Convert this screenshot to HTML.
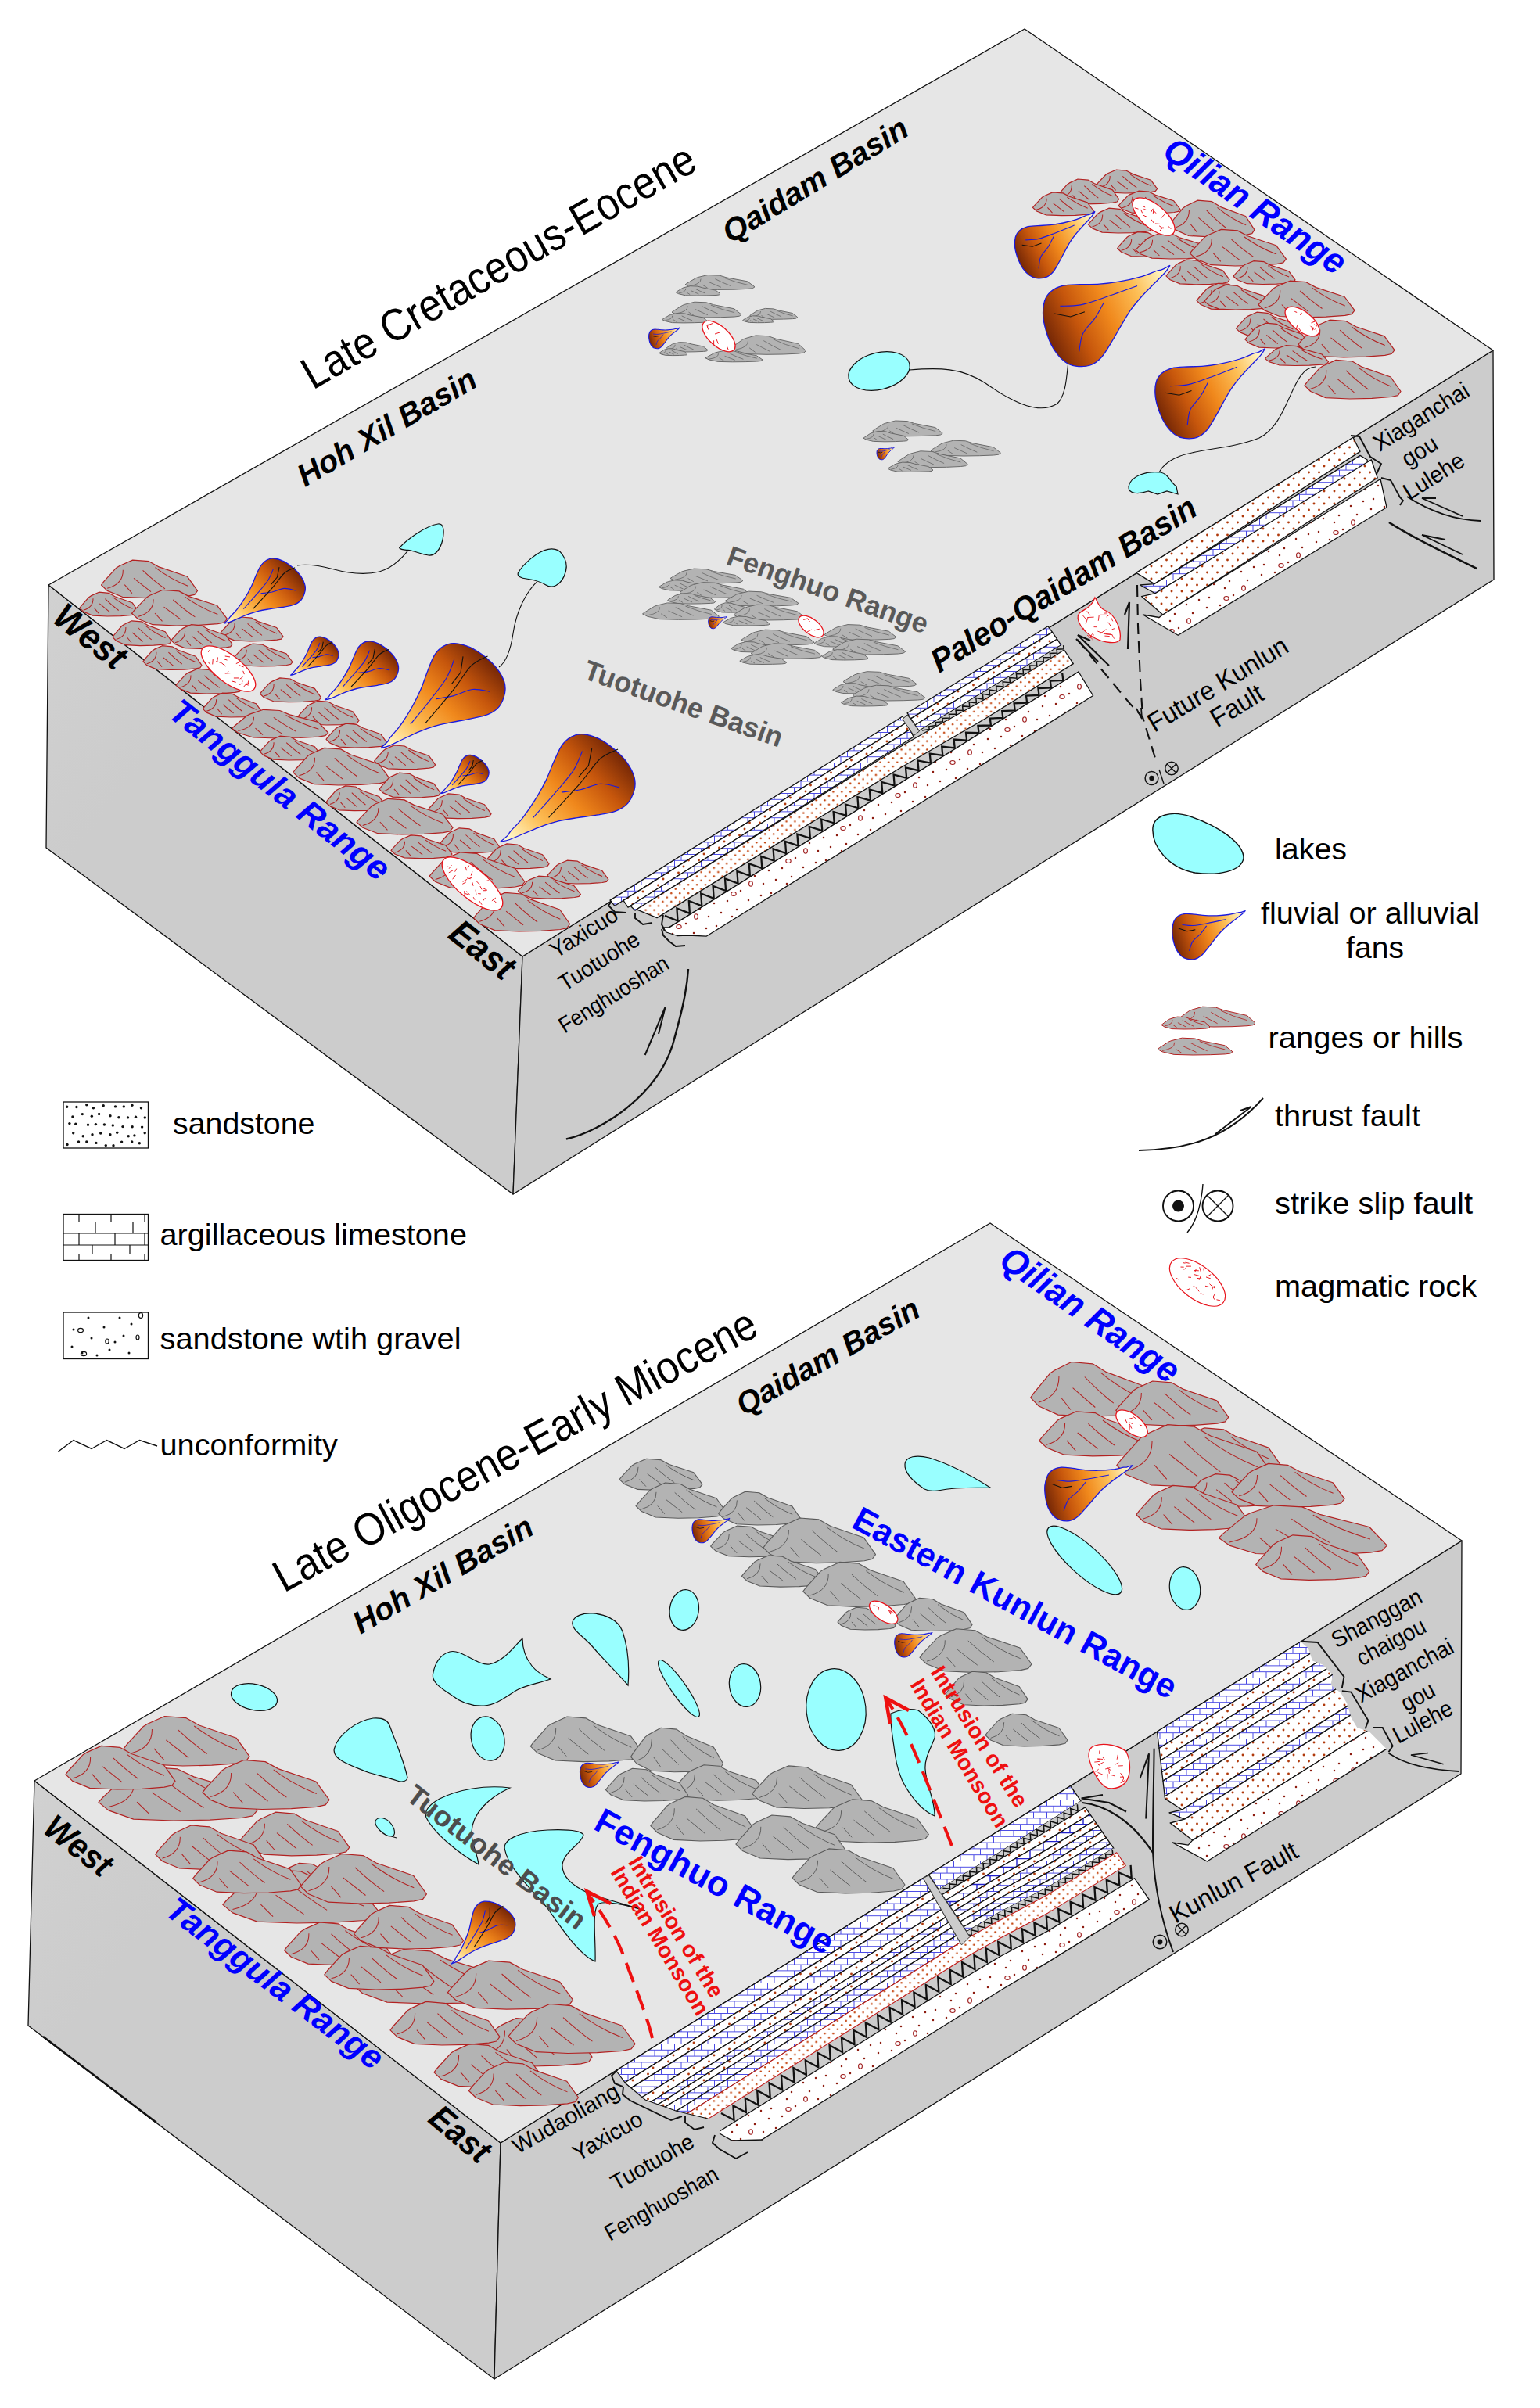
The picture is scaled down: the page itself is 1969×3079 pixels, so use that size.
<!DOCTYPE html>
<html><head><meta charset="utf-8"><title>Block diagram</title>
<style>
html,body{margin:0;padding:0;background:#fff;}
svg{display:block;font-family:"Liberation Sans",sans-serif;}
</style></head><body>
<svg width="1969" height="3079" viewBox="0 0 1969 3079">
<defs>
<pattern id="pLime" width="17" height="15.6" patternUnits="userSpaceOnUse">
<rect width="17" height="15.6" fill="#fff"/>
<path d="M0,0.5 H17 M0,8.3 H17 M4,0.5 V8.3 M12.5,8.3 V16.1" stroke="#4a4ae4" stroke-width="1" fill="none"/></pattern>
<pattern id="pSand" width="13" height="16" patternUnits="userSpaceOnUse">
<rect width="13" height="16" fill="#fff"/>
<circle cx="3" cy="4" r="1.45" fill="#b03a0c"/><circle cx="9.5" cy="12" r="1.45" fill="#b03a0c"/></pattern>
<pattern id="pDense" width="10.9" height="10.8" patternUnits="userSpaceOnUse">
<rect width="10.9" height="10.8" fill="#fff"/>
<circle cx="2.7" cy="2.7" r="1.25" fill="#c4440e"/><circle cx="8.15" cy="8.1" r="1.25" fill="#c4440e"/></pattern>
<pattern id="pGravel" width="70" height="42" patternUnits="userSpaceOnUse">
<rect width="70" height="42" fill="#fff"/>
<g fill="#8e1c10"><circle cx="6" cy="8" r="1.25"/><circle cx="20" cy="18" r="1.25"/><circle cx="37" cy="5" r="1.25"/><circle cx="55" cy="28" r="1.25"/><circle cx="12" cy="33" r="1.25"/><circle cx="32" cy="29" r="1.25"/><circle cx="63" cy="11" r="1.25"/><circle cx="47" cy="17" r="1.25"/><circle cx="26" cy="38" r="1.25"/><circle cx="66" cy="38" r="1.25"/><circle cx="3" cy="21" r="1.25"/></g>
<ellipse cx="28" cy="9" rx="3.2" ry="2.5" fill="none" stroke="#a02020" stroke-width="1.1"/>
<ellipse cx="50" cy="38" rx="2.4" ry="3.2" fill="none" stroke="#a02020" stroke-width="1.1"/></pattern>
<pattern id="pLimeD" width="34" height="22" patternUnits="userSpaceOnUse">
<rect width="34" height="22" fill="#fff"/>
<path d="M0,0.5 H34 M0,11.5 H34 M8,0.5 V11.5 M25,11.5 V22.5" stroke="#2020cc" stroke-width="1.4" fill="none"/></pattern>
<linearGradient id="lf1" x1="0" y1="0" x2="1" y2="1"><stop offset="0" stop-color="#d1d1d1"/><stop offset="0.25" stop-color="#cccccc"/><stop offset="1" stop-color="#cccccc"/></linearGradient>
<linearGradient id="fg1" gradientUnits="userSpaceOnUse" x1="286.2" y1="797.1" x2="368.2" y2="720.7"><stop offset="0.03" stop-color="#ffffd8"/><stop offset="0.3" stop-color="#fdbe55"/><stop offset="0.55" stop-color="#f0881c"/><stop offset="0.78" stop-color="#c6560c"/><stop offset="1" stop-color="#7a2a06"/></linearGradient>
<linearGradient id="fg2" gradientUnits="userSpaceOnUse" x1="371.4" y1="863.4" x2="420.0" y2="818.1"><stop offset="0.03" stop-color="#ffffd8"/><stop offset="0.3" stop-color="#fdbe55"/><stop offset="0.55" stop-color="#f0881c"/><stop offset="0.78" stop-color="#c6560c"/><stop offset="1" stop-color="#7a2a06"/></linearGradient>
<linearGradient id="fg3" gradientUnits="userSpaceOnUse" x1="415.3" y1="895.0" x2="489.5" y2="825.8"><stop offset="0.03" stop-color="#ffffd8"/><stop offset="0.3" stop-color="#fdbe55"/><stop offset="0.55" stop-color="#f0881c"/><stop offset="0.78" stop-color="#c6560c"/><stop offset="1" stop-color="#7a2a06"/></linearGradient>
<linearGradient id="fg4" gradientUnits="userSpaceOnUse" x1="487.0" y1="956.5" x2="609.2" y2="831.6"><stop offset="0.03" stop-color="#ffffd8"/><stop offset="0.3" stop-color="#fdbe55"/><stop offset="0.55" stop-color="#f0881c"/><stop offset="0.78" stop-color="#c6560c"/><stop offset="1" stop-color="#7a2a06"/></linearGradient>
<linearGradient id="fg5" gradientUnits="userSpaceOnUse" x1="563.4" y1="1014.7" x2="612.0" y2="969.4"><stop offset="0.03" stop-color="#ffffd8"/><stop offset="0.3" stop-color="#fdbe55"/><stop offset="0.55" stop-color="#f0881c"/><stop offset="0.78" stop-color="#c6560c"/><stop offset="1" stop-color="#7a2a06"/></linearGradient>
<linearGradient id="fg6" gradientUnits="userSpaceOnUse" x1="639.7" y1="1076.4" x2="775.3" y2="949.7"><stop offset="0.03" stop-color="#ffffd8"/><stop offset="0.3" stop-color="#fdbe55"/><stop offset="0.55" stop-color="#f0881c"/><stop offset="0.78" stop-color="#c6560c"/><stop offset="1" stop-color="#7a2a06"/></linearGradient>
<linearGradient id="fg7" gradientUnits="userSpaceOnUse" x1="869.0" y1="419.0" x2="829.5" y2="431.8"><stop offset="0.03" stop-color="#ffffd8"/><stop offset="0.3" stop-color="#fdbe55"/><stop offset="0.55" stop-color="#f0881c"/><stop offset="0.78" stop-color="#c6560c"/><stop offset="1" stop-color="#7a2a06"/></linearGradient>
<linearGradient id="fg8" gradientUnits="userSpaceOnUse" x1="1143.7" y1="571.6" x2="1121.0" y2="579.9"><stop offset="0.03" stop-color="#ffffd8"/><stop offset="0.3" stop-color="#fdbe55"/><stop offset="0.55" stop-color="#f0881c"/><stop offset="0.78" stop-color="#c6560c"/><stop offset="1" stop-color="#7a2a06"/></linearGradient>
<linearGradient id="fg9" gradientUnits="userSpaceOnUse" x1="929.6" y1="788.3" x2="905.6" y2="795.2"><stop offset="0.03" stop-color="#ffffd8"/><stop offset="0.3" stop-color="#fdbe55"/><stop offset="0.55" stop-color="#f0881c"/><stop offset="0.78" stop-color="#c6560c"/><stop offset="1" stop-color="#7a2a06"/></linearGradient>
<linearGradient id="fg10" gradientUnits="userSpaceOnUse" x1="1400.0" y1="270.4" x2="1298.5" y2="322.4"><stop offset="0.03" stop-color="#ffffd8"/><stop offset="0.3" stop-color="#fdbe55"/><stop offset="0.55" stop-color="#f0881c"/><stop offset="0.78" stop-color="#c6560c"/><stop offset="1" stop-color="#7a2a06"/></linearGradient>
<linearGradient id="fg11" gradientUnits="userSpaceOnUse" x1="1496.0" y1="339.3" x2="1334.8" y2="414.9"><stop offset="0.03" stop-color="#ffffd8"/><stop offset="0.3" stop-color="#fdbe55"/><stop offset="0.55" stop-color="#f0881c"/><stop offset="0.78" stop-color="#c6560c"/><stop offset="1" stop-color="#7a2a06"/></linearGradient>
<linearGradient id="fg12" gradientUnits="userSpaceOnUse" x1="1617.7" y1="445.6" x2="1478.2" y2="514.7"><stop offset="0.03" stop-color="#ffffd8"/><stop offset="0.3" stop-color="#fdbe55"/><stop offset="0.55" stop-color="#f0881c"/><stop offset="0.78" stop-color="#c6560c"/><stop offset="1" stop-color="#7a2a06"/></linearGradient>
<linearGradient id="fg13" gradientUnits="userSpaceOnUse" x1="1592.4" y1="1164.3" x2="1498.5" y2="1193.8"><stop offset="0.03" stop-color="#ffffd8"/><stop offset="0.3" stop-color="#fdbe55"/><stop offset="0.55" stop-color="#f0881c"/><stop offset="0.78" stop-color="#c6560c"/><stop offset="1" stop-color="#7a2a06"/></linearGradient>
<linearGradient id="fg14" gradientUnits="userSpaceOnUse" x1="577.5" y1="2511.0" x2="635.2" y2="2434.2"><stop offset="0.03" stop-color="#ffffd8"/><stop offset="0.3" stop-color="#fdbe55"/><stop offset="0.55" stop-color="#f0881c"/><stop offset="0.78" stop-color="#c6560c"/><stop offset="1" stop-color="#7a2a06"/></linearGradient>
<linearGradient id="fg15" gradientUnits="userSpaceOnUse" x1="933.0" y1="1941.3" x2="884.9" y2="1955.7"><stop offset="0.03" stop-color="#ffffd8"/><stop offset="0.3" stop-color="#fdbe55"/><stop offset="0.55" stop-color="#f0881c"/><stop offset="0.78" stop-color="#c6560c"/><stop offset="1" stop-color="#7a2a06"/></linearGradient>
<linearGradient id="fg16" gradientUnits="userSpaceOnUse" x1="1192.2" y1="2087.2" x2="1143.6" y2="2101.7"><stop offset="0.03" stop-color="#ffffd8"/><stop offset="0.3" stop-color="#fdbe55"/><stop offset="0.55" stop-color="#f0881c"/><stop offset="0.78" stop-color="#c6560c"/><stop offset="1" stop-color="#7a2a06"/></linearGradient>
<linearGradient id="fg17" gradientUnits="userSpaceOnUse" x1="791.4" y1="2252.7" x2="741.4" y2="2267.7"><stop offset="0.03" stop-color="#ffffd8"/><stop offset="0.3" stop-color="#fdbe55"/><stop offset="0.55" stop-color="#f0881c"/><stop offset="0.78" stop-color="#c6560c"/><stop offset="1" stop-color="#7a2a06"/></linearGradient>
<linearGradient id="fg18" gradientUnits="userSpaceOnUse" x1="1448.0" y1="1873.6" x2="1335.5" y2="1905.3"><stop offset="0.03" stop-color="#ffffd8"/><stop offset="0.3" stop-color="#fdbe55"/><stop offset="0.55" stop-color="#f0881c"/><stop offset="0.78" stop-color="#c6560c"/><stop offset="1" stop-color="#7a2a06"/></linearGradient>
</defs>
<rect width="1969" height="3079" fill="#fff"/>
<g id="block1">
<polygon points="62.0,748.0 668.0,1223.0 656.0,1527.0 59.0,1084.0" fill="url(#lf1)" stroke="#111" stroke-width="1.3" stroke-linejoin="round"/>
<polygon points="668.0,1223.0 1909.0,448.0 1910.0,741.0 656.0,1527.0" fill="#cccccc" stroke="#111" stroke-width="1.3" stroke-linejoin="round"/>
<polygon points="62.0,748.0 1310.0,37.0 1909.0,448.0 668.0,1223.0" fill="#e6e6e6" stroke="#111" stroke-width="1.3" stroke-linejoin="round"/>
<polygon points="780.0,1151.1 1154.0,916.0 1158.5,924.2 786.0,1158.3" fill="url(#pLime)" stroke="#111" stroke-width="1.3" stroke-linejoin="round"/>
<polygon points="797.0,1151.4 1158.5,924.2 1163.5,932.6 803.0,1160.2" fill="url(#pSand)" stroke="#111" stroke-width="1.3" stroke-linejoin="round"/>
<polygon points="806.0,1158.3 1163.5,932.6 1168.0,942.3 812.0,1164.1" fill="url(#pLime)" stroke="#111" stroke-width="1.3" stroke-linejoin="round"/>
<polygon points="1160.0,911.7 1340.0,800.8 1345.5,808.4 1164.5,918.9" fill="url(#pLime)" stroke="#111" stroke-width="1.3" stroke-linejoin="round"/>
<polygon points="1164.5,918.9 1345.5,808.4 1351.5,817.2 1170.0,927.0" fill="url(#pSand)" stroke="#111" stroke-width="1.3" stroke-linejoin="round"/>
<polygon points="1170.0,927.0 1351.5,817.2 1356.7,824.9 1175.0,934.4" fill="url(#pLime)" stroke="#111" stroke-width="1.3" stroke-linejoin="round"/>
<polygon points="1176.0,934.3 1358.0,824.6 1362.0,830.1 1260.0,893.8 1176.0,940.8" fill="#cccccc" stroke="none"/>
<polyline points="1179.0,933.9 1188.2,932.4 1187.6,928.8 1196.8,927.6 1196.2,923.6 1205.4,922.8 1204.8,918.4 1214.0,918.0 1213.4,913.2 1222.6,913.2 1222.0,908.0 1231.2,908.4 1230.6,902.9 1239.8,903.6 1239.2,897.7 1248.4,898.8 1247.8,892.5 1257.0,894.0 1256.4,887.3 1265.6,888.8 1265.0,882.1 1274.2,883.4 1273.6,877.0 1282.8,878.1 1282.2,871.8 1291.4,872.7 1290.8,866.6 1300.0,867.3 1299.4,861.4 1308.6,861.9 1308.0,856.2 1317.2,856.6 1316.6,851.0 1325.8,851.2 1325.2,845.9 1334.4,845.8 1333.8,840.7 1343.0,840.5 1342.4,835.5 1351.6,835.1 1351.0,830.3 1360.2,829.7 1359.6,825.1" fill="none" stroke="#111" stroke-width="1.5" stroke-linejoin="miter"/>
<polygon points="814.0,1162.8 1150.0,955.5 1180.0,938.3 1260.0,893.8 1360.6,831.0 1372.3,848.6 1260.0,918.7 1150.0,982.5 840.0,1173.6" fill="url(#pDense)" stroke="#111" stroke-width="1.3" stroke-linejoin="round"/>
<polygon points="848.0,1170.6 1150.0,984.5 1260.0,920.7 1376.0,848.3 1376.0,860.9 848.0,1190.6" fill="#cccccc" stroke="none"/>
<polyline points="850.0,1170.9 866.5,1177.6 865.4,1161.4 881.9,1167.9 880.8,1151.9 897.3,1158.3 896.2,1142.4 912.7,1148.7 911.6,1132.9 928.1,1139.1 927.0,1123.4 943.5,1129.5 942.4,1113.9 958.9,1119.8 957.8,1104.4 974.3,1110.2 973.2,1094.9 989.7,1100.6 988.6,1085.5 1005.1,1091.0 1004.0,1076.0 1020.5,1081.4 1019.4,1066.5 1035.9,1071.8 1034.8,1057.0 1051.3,1062.1 1050.2,1047.5 1066.7,1052.5 1065.6,1038.0 1082.1,1042.9 1081.0,1028.5 1097.5,1033.3 1096.4,1019.0 1112.9,1023.7 1111.8,1009.5 1128.3,1014.1 1127.2,1000.0 1143.7,1004.4 1142.6,990.6 1159.1,994.8 1158.0,981.4 1174.5,985.2 1173.4,972.4 1189.9,975.6 1188.8,963.5 1205.3,966.0 1204.2,954.6 1220.7,956.4 1219.6,945.6 1236.1,946.7 1235.0,936.7 1251.5,937.1 1250.4,927.8 1266.9,927.5 1265.8,918.6 1282.3,917.9 1281.2,909.0 1297.7,908.3 1296.6,899.3 1313.1,898.7 1312.0,889.7 1328.5,889.0 1327.4,880.1 1343.9,879.4 1342.8,870.5 1359.3,869.8 1358.2,860.9" fill="none" stroke="#111" stroke-width="2.3" stroke-linejoin="miter"/>
<line x1="848" y1="1190.6" x2="1379" y2="859.0" stroke="#111" stroke-width="1.3"/>
<polygon points="847.0,1186.0 856.0,1185.6 1379.0,859.0 1397.6,889.5 903.0,1197.2 880.0,1196.0 866.0,1196.5 852.0,1192.0" fill="url(#pGravel)" stroke="#111" stroke-width="1.3" stroke-linejoin="round"/>
<polygon points="1154,919.5 1160,914 1175.5,935 1168.5,940.5" fill="#cccccc" stroke="#333" stroke-width="1"/>
<polygon points="1452.7,732.4 1730.0,559.2 1739.0,577.4 1476.0,746.6" fill="url(#pSand)" stroke="#111" stroke-width="1.3" stroke-linejoin="round"/>
<polygon points="1476.0,746.6 1739.0,582.4 1748.2,588.0 1748.2,593.8 1477.0,758.7 1457.5,748.0" fill="url(#pLime)" stroke="#111" stroke-width="1.3" stroke-linejoin="round"/>
<polygon points="1477.0,758.7 1753.4,587.8 1761.2,611.0 1486.8,786.0 1459.5,762.6" fill="url(#pSand)" stroke="#111" stroke-width="1.3" stroke-linejoin="round"/>
<polygon points="1486.8,786.0 1765.0,612.5 1773.0,648.8 1506.2,812.3 1461.4,786.0 1481.9,789.5" fill="url(#pGravel)" stroke="#111" stroke-width="1.3" stroke-linejoin="round"/>
<polygon points="129.5,748.0 132.7,743.7 148.6,726.2 152.9,723.5 169.6,716.1 190.4,717.7 203.3,724.9 239.6,737.3 252.5,755.4 248.8,760.4 240.2,762.2 215.6,764.1 187.3,764.7 156.6,763.3 137.2,755.4" fill="#b3b3b3" stroke="#b22222" stroke-width="1.2" stroke-linejoin="round"/>
<path d="M157.3,728.7 Q157.8,746.7 137.2,752.3 M159.3,747.7 L168.9,758.7 M171.0,739.3 L193.0,756.6 M182.6,729.3 Q197.2,743.0 211.0,752.9 M198.4,725.6 Q218.1,740.5 240.2,749.2" fill="none" stroke="#b22222" stroke-width="1.02"/>
<polygon points="102.0,777.4 104.0,774.7 113.6,763.7 116.2,761.9 126.5,757.2 139.1,758.3 147.0,762.8 169.1,770.7 177.0,782.1 174.8,785.3 169.5,786.4 154.5,787.6 137.2,788.0 118.5,787.1 106.7,782.1" fill="#b3b3b3" stroke="#b22222" stroke-width="1.2" stroke-linejoin="round"/>
<path d="M119.0,765.2 Q119.2,776.6 106.7,780.2 M120.2,777.2 L126.0,784.2 M127.3,771.9 L140.7,782.9 M134.4,765.6 Q143.2,774.3 151.7,780.5 M144.0,763.3 Q156.0,772.7 169.5,778.2" fill="none" stroke="#b22222" stroke-width="1.02"/>
<polygon points="168.5,784.3 171.7,780.3 187.4,763.9 191.7,761.3 208.3,754.3 228.9,755.9 241.7,762.6 277.7,774.3 290.5,791.3 286.8,795.9 278.3,797.7 253.9,799.4 225.8,800.0 195.3,798.7 176.2,791.3" fill="#b3b3b3" stroke="#b22222" stroke-width="1.2" stroke-linejoin="round"/>
<path d="M196.1,766.2 Q196.6,783.1 176.2,788.4 M198.0,784.0 L207.5,794.4 M209.6,776.1 L231.5,792.4 M221.2,766.8 Q235.6,779.6 249.4,788.9 M236.8,763.3 Q256.3,777.3 278.3,785.4" fill="none" stroke="#b22222" stroke-width="1.02"/>
<polygon points="282.0,809.2 284.1,806.5 294.4,795.5 297.2,793.7 308.1,789.0 321.6,790.1 330.0,794.6 353.6,802.5 362.0,813.9 359.6,817.1 354.0,818.2 338.0,819.4 319.6,819.8 299.6,818.9 287.0,813.9" fill="#b3b3b3" stroke="#b22222" stroke-width="1.2" stroke-linejoin="round"/>
<path d="M300.1,797.0 Q300.4,808.4 287.0,812.0 M301.4,809.0 L307.6,816.0 M309.0,803.7 L323.3,814.7 M316.6,797.4 Q326.0,806.1 335.0,812.3 M326.8,795.1 Q339.6,804.5 354.0,810.0" fill="none" stroke="#b22222" stroke-width="1.02"/>
<polygon points="144.0,814.7 145.9,811.9 155.6,800.5 158.2,798.7 168.4,793.8 181.1,794.9 189.0,799.6 211.1,807.7 219.0,819.5 216.8,822.8 211.5,824.0 196.5,825.2 179.2,825.6 160.5,824.7 148.7,819.5" fill="#b3b3b3" stroke="#b22222" stroke-width="1.2" stroke-linejoin="round"/>
<path d="M160.9,802.1 Q161.2,813.9 148.7,817.5 M162.2,814.5 L168.0,821.7 M169.3,809.0 L182.7,820.3 M176.4,802.5 Q185.2,811.4 193.7,817.9 M186.0,800.1 Q198.0,809.8 211.5,815.5" fill="none" stroke="#b22222" stroke-width="1.02"/>
<polygon points="219.0,818.9 221.0,816.2 231.1,805.2 233.8,803.4 244.4,798.7 257.6,799.8 265.8,804.3 288.8,812.2 297.0,823.6 294.7,826.8 289.2,827.9 273.6,829.1 255.7,829.5 236.2,828.6 223.9,823.6" fill="#b3b3b3" stroke="#b22222" stroke-width="1.2" stroke-linejoin="round"/>
<path d="M236.6,806.7 Q236.9,818.1 223.9,821.7 M237.9,818.7 L244.0,825.7 M245.3,813.4 L259.2,824.4 M252.7,807.1 Q261.9,815.8 270.7,822.0 M262.7,804.8 Q275.2,814.2 289.2,819.7" fill="none" stroke="#b22222" stroke-width="1.02"/>
<polygon points="298.0,842.1 300.0,839.6 309.8,829.2 312.4,827.6 322.8,823.2 335.6,824.2 343.6,828.4 366.0,835.8 374.0,846.5 371.7,849.4 366.4,850.5 351.2,851.6 333.7,852.0 314.7,851.2 302.8,846.5" fill="#b3b3b3" stroke="#b22222" stroke-width="1.2" stroke-linejoin="round"/>
<path d="M315.2,830.7 Q315.5,841.4 302.8,844.7 M316.4,841.9 L322.3,848.5 M323.6,836.9 L337.2,847.2 M330.8,831.1 Q339.8,839.2 348.4,845.0 M340.6,828.9 Q352.7,837.7 366.4,842.8" fill="none" stroke="#b22222" stroke-width="1.02"/>
<polygon points="183.0,845.9 184.9,843.2 194.6,832.2 197.2,830.4 207.4,825.7 220.1,826.8 228.0,831.3 250.1,839.2 258.0,850.6 255.8,853.8 250.5,854.9 235.5,856.1 218.2,856.5 199.5,855.6 187.7,850.6" fill="#b3b3b3" stroke="#b22222" stroke-width="1.2" stroke-linejoin="round"/>
<path d="M199.9,833.7 Q200.2,845.1 187.7,848.7 M201.2,845.7 L207.0,852.7 M208.3,840.4 L221.7,851.4 M215.4,834.1 Q224.2,842.8 232.7,849.0 M225.0,831.8 Q237.0,841.2 250.5,846.7" fill="none" stroke="#b22222" stroke-width="1.02"/>
<polygon points="225.0,876.1 227.2,873.3 238.0,861.9 241.0,860.1 252.4,855.2 266.6,856.3 275.4,861.0 300.2,869.1 309.0,880.9 306.5,884.2 300.6,885.4 283.8,886.6 264.5,887.0 243.5,886.1 230.3,880.9" fill="#b3b3b3" stroke="#b22222" stroke-width="1.2" stroke-linejoin="round"/>
<path d="M244.0,863.5 Q244.3,875.3 230.3,878.9 M245.3,875.9 L251.9,883.1 M253.3,870.4 L268.3,881.7 M261.3,863.9 Q271.2,872.8 280.7,879.3 M272.0,861.5 Q285.5,871.2 300.6,876.9" fill="none" stroke="#b22222" stroke-width="1.02"/>
<polygon points="332.5,887.1 334.5,884.4 344.6,873.4 347.3,871.6 357.9,866.9 371.1,868.0 379.3,872.5 402.3,880.4 410.5,891.8 408.2,895.0 402.7,896.1 387.1,897.3 369.2,897.7 349.7,896.8 337.4,891.8" fill="#b3b3b3" stroke="#b22222" stroke-width="1.2" stroke-linejoin="round"/>
<path d="M350.1,874.9 Q350.4,886.3 337.4,889.9 M351.4,886.9 L357.5,893.9 M358.8,881.6 L372.7,892.6 M366.2,875.3 Q375.4,884.0 384.2,890.2 M376.2,873.0 Q388.7,882.4 402.7,887.9" fill="none" stroke="#b22222" stroke-width="1.02"/>
<polygon points="259.4,906.4 261.4,903.7 271.2,892.7 273.8,890.9 284.2,886.2 297.0,887.3 305.0,891.8 327.4,899.7 335.4,911.1 333.1,914.3 327.8,915.4 312.6,916.6 295.1,917.0 276.1,916.1 264.2,911.1" fill="#b3b3b3" stroke="#b22222" stroke-width="1.2" stroke-linejoin="round"/>
<path d="M276.6,894.2 Q276.9,905.6 264.2,909.2 M277.8,906.2 L283.7,913.2 M285.0,900.9 L298.6,911.9 M292.2,894.6 Q301.2,903.3 309.8,909.5 M302.0,892.3 Q314.1,901.7 327.8,907.2" fill="none" stroke="#b22222" stroke-width="1.02"/>
<polygon points="381.0,916.4 383.0,913.7 393.1,902.7 395.8,900.9 406.4,896.2 419.6,897.3 427.8,901.8 450.8,909.7 459.0,921.1 456.7,924.3 451.2,925.4 435.6,926.6 417.7,927.0 398.2,926.1 385.9,921.1" fill="#b3b3b3" stroke="#b22222" stroke-width="1.2" stroke-linejoin="round"/>
<path d="M398.6,904.2 Q398.9,915.6 385.9,919.2 M399.9,916.2 L406.0,923.2 M407.3,910.9 L421.2,921.9 M414.7,904.6 Q423.9,913.3 432.7,919.5 M424.7,902.3 Q437.2,911.7 451.2,917.2" fill="none" stroke="#b22222" stroke-width="1.02"/>
<polygon points="296.7,931.4 299.9,928.2 315.8,915.0 320.1,912.9 336.8,907.3 357.6,908.5 370.5,913.9 406.8,923.3 419.7,937.0 416.0,940.7 407.4,942.1 382.8,943.5 354.5,944.0 323.8,943.0 304.4,937.0" fill="#b3b3b3" stroke="#b22222" stroke-width="1.2" stroke-linejoin="round"/>
<path d="M324.5,916.8 Q325.0,930.4 304.4,934.6 M326.5,931.2 L336.1,939.5 M338.2,924.8 L360.2,937.9 M349.8,917.3 Q364.4,927.6 378.2,935.1 M365.6,914.5 Q385.3,925.7 407.4,932.3" fill="none" stroke="#b22222" stroke-width="1.02"/>
<polygon points="417.0,945.4 419.0,942.7 429.1,931.7 431.8,929.9 442.4,925.2 455.6,926.3 463.8,930.8 486.8,938.7 495.0,950.1 492.7,953.3 487.2,954.4 471.6,955.6 453.7,956.0 434.2,955.1 421.9,950.1" fill="#b3b3b3" stroke="#b22222" stroke-width="1.2" stroke-linejoin="round"/>
<path d="M434.6,933.2 Q434.9,944.6 421.9,948.2 M435.9,945.2 L442.0,952.2 M443.3,939.9 L457.2,950.9 M450.7,933.6 Q459.9,942.3 468.7,948.5 M460.7,931.3 Q473.2,940.7 487.2,946.2" fill="none" stroke="#b22222" stroke-width="1.02"/>
<polygon points="332.5,961.4 334.5,958.7 344.6,947.7 347.3,945.9 357.9,941.2 371.1,942.3 379.3,946.8 402.3,954.7 410.5,966.1 408.2,969.3 402.7,970.4 387.1,971.6 369.2,972.0 349.7,971.1 337.4,966.1" fill="#b3b3b3" stroke="#b22222" stroke-width="1.2" stroke-linejoin="round"/>
<path d="M350.1,949.2 Q350.4,960.6 337.4,964.2 M351.4,961.2 L357.5,968.2 M358.8,955.9 L372.7,966.9 M366.2,949.6 Q375.4,958.3 384.2,964.5 M376.2,947.3 Q388.7,956.7 402.7,962.2" fill="none" stroke="#b22222" stroke-width="1.02"/>
<polygon points="478.6,973.1 480.6,970.4 490.7,959.4 493.4,957.6 504.0,952.9 517.2,954.0 525.4,958.5 548.4,966.4 556.6,977.8 554.3,981.0 548.8,982.1 533.2,983.3 515.3,983.7 495.8,982.8 483.5,977.8" fill="#b3b3b3" stroke="#b22222" stroke-width="1.2" stroke-linejoin="round"/>
<path d="M496.2,960.9 Q496.5,972.3 483.5,975.9 M497.5,972.9 L503.6,979.9 M504.9,967.6 L518.8,978.6 M512.3,961.3 Q521.5,970.0 530.3,976.2 M522.3,959.0 Q534.8,968.4 548.8,973.9" fill="none" stroke="#b22222" stroke-width="1.02"/>
<polygon points="374.7,987.6 377.9,983.5 393.8,966.3 398.1,963.7 414.8,956.4 435.6,957.9 448.5,965.0 484.8,977.1 497.7,994.9 494.0,999.7 485.4,1001.6 460.8,1003.4 432.5,1004.0 401.8,1002.7 382.4,994.9" fill="#b3b3b3" stroke="#b22222" stroke-width="1.2" stroke-linejoin="round"/>
<path d="M402.5,968.8 Q403.0,986.4 382.4,991.8 M404.5,987.4 L414.1,998.2 M416.2,979.1 L438.2,996.1 M427.8,969.4 Q442.4,982.7 456.2,992.5 M443.6,965.7 Q463.3,980.3 485.4,988.8" fill="none" stroke="#b22222" stroke-width="1.02"/>
<polygon points="485.0,1009.1 487.0,1006.3 497.1,994.9 499.8,993.1 510.4,988.2 523.6,989.3 531.8,994.0 554.8,1002.1 563.0,1013.9 560.7,1017.2 555.2,1018.4 539.6,1019.6 521.7,1020.0 502.2,1019.1 489.9,1013.9" fill="#b3b3b3" stroke="#b22222" stroke-width="1.2" stroke-linejoin="round"/>
<path d="M502.6,996.5 Q502.9,1008.3 489.9,1011.9 M503.9,1008.9 L510.0,1016.1 M511.3,1003.4 L525.2,1014.7 M518.7,996.9 Q527.9,1005.8 536.7,1012.3 M528.7,994.5 Q541.2,1004.2 555.2,1009.9" fill="none" stroke="#b22222" stroke-width="1.02"/>
<polygon points="417.0,1025.8 419.0,1023.0 428.8,1011.6 431.4,1009.8 441.8,1004.9 454.6,1006.0 462.6,1010.7 485.0,1018.8 493.0,1030.6 490.7,1033.9 485.4,1035.1 470.2,1036.3 452.7,1036.7 433.7,1035.8 421.8,1030.6" fill="#b3b3b3" stroke="#b22222" stroke-width="1.2" stroke-linejoin="round"/>
<path d="M434.2,1013.2 Q434.5,1025.0 421.8,1028.6 M435.4,1025.6 L441.3,1032.8 M442.6,1020.1 L456.2,1031.4 M449.8,1013.6 Q458.8,1022.5 467.4,1029.0 M459.6,1011.2 Q471.7,1020.9 485.4,1026.6" fill="none" stroke="#b22222" stroke-width="1.02"/>
<polygon points="547.0,1035.8 549.1,1033.0 559.6,1021.6 562.4,1019.8 573.4,1014.9 587.1,1016.0 595.6,1020.7 619.5,1028.8 628.0,1040.6 625.6,1043.9 619.9,1045.1 603.7,1046.3 585.1,1046.7 564.8,1045.8 552.1,1040.6" fill="#b3b3b3" stroke="#b22222" stroke-width="1.2" stroke-linejoin="round"/>
<path d="M565.3,1023.2 Q565.6,1035.0 552.1,1038.6 M566.6,1035.6 L572.9,1042.8 M574.3,1030.1 L588.8,1041.4 M582.0,1023.6 Q591.5,1032.5 600.7,1039.0 M592.4,1021.2 Q605.3,1030.9 619.9,1036.6" fill="none" stroke="#b22222" stroke-width="1.02"/>
<polygon points="456.0,1051.3 459.2,1047.3 475.1,1030.9 479.4,1028.3 496.1,1021.3 516.9,1022.9 529.8,1029.6 566.1,1041.3 579.0,1058.3 575.3,1062.9 566.7,1064.7 542.1,1066.4 513.8,1067.0 483.1,1065.7 463.7,1058.3" fill="#b3b3b3" stroke="#b22222" stroke-width="1.2" stroke-linejoin="round"/>
<path d="M483.8,1033.2 Q484.3,1050.1 463.7,1055.4 M485.8,1051.0 L495.4,1061.4 M497.5,1043.1 L519.5,1059.4 M509.1,1033.8 Q523.6,1046.6 537.5,1055.9 M524.9,1030.3 Q544.6,1044.3 566.7,1052.4" fill="none" stroke="#b22222" stroke-width="1.02"/>
<polygon points="561.8,1079.7 563.8,1076.9 573.9,1065.5 576.6,1063.7 587.2,1058.8 600.4,1059.9 608.6,1064.6 631.6,1072.7 639.8,1084.5 637.5,1087.8 632.0,1089.0 616.4,1090.2 598.5,1090.6 579.0,1089.7 566.7,1084.5" fill="#b3b3b3" stroke="#b22222" stroke-width="1.2" stroke-linejoin="round"/>
<path d="M579.4,1067.1 Q579.7,1078.9 566.7,1082.5 M580.7,1079.5 L586.8,1086.7 M588.1,1074.0 L602.0,1085.3 M595.5,1067.5 Q604.7,1076.4 613.5,1082.9 M605.5,1065.1 Q618.0,1074.8 632.0,1080.5" fill="none" stroke="#b22222" stroke-width="1.02"/>
<polygon points="500.0,1087.4 502.0,1084.9 512.1,1074.2 514.8,1072.5 525.4,1067.9 538.6,1068.9 546.8,1073.3 569.8,1080.9 578.0,1092.0 575.7,1095.0 570.2,1096.2 554.6,1097.3 536.7,1097.7 517.2,1096.9 504.9,1092.0" fill="#b3b3b3" stroke="#b22222" stroke-width="1.2" stroke-linejoin="round"/>
<path d="M517.6,1075.7 Q517.9,1086.7 504.9,1090.1 M518.9,1087.3 L525.0,1094.1 M526.3,1082.1 L540.2,1092.8 M533.7,1076.1 Q542.9,1084.4 551.7,1090.5 M543.7,1073.8 Q556.2,1082.9 570.2,1088.2" fill="none" stroke="#b22222" stroke-width="1.02"/>
<polygon points="622.0,1099.8 624.1,1097.0 634.4,1085.6 637.2,1083.8 648.1,1078.9 661.6,1080.0 670.0,1084.7 693.6,1092.8 702.0,1104.6 699.6,1107.9 694.0,1109.1 678.0,1110.3 659.6,1110.7 639.6,1109.8 627.0,1104.6" fill="#b3b3b3" stroke="#b22222" stroke-width="1.2" stroke-linejoin="round"/>
<path d="M640.1,1087.2 Q640.4,1099.0 627.0,1102.6 M641.4,1099.6 L647.6,1106.8 M649.0,1094.1 L663.3,1105.4 M656.6,1087.6 Q666.0,1096.5 675.0,1103.0 M666.8,1085.2 Q679.6,1094.9 694.0,1100.6" fill="none" stroke="#b22222" stroke-width="1.02"/>
<polygon points="699.8,1119.7 701.8,1117.2 711.9,1106.5 714.6,1104.8 725.2,1100.2 738.4,1101.2 746.6,1105.6 769.6,1113.2 777.8,1124.3 775.5,1127.3 770.0,1128.5 754.4,1129.6 736.5,1130.0 717.0,1129.2 704.7,1124.3" fill="#b3b3b3" stroke="#b22222" stroke-width="1.2" stroke-linejoin="round"/>
<path d="M717.4,1108.0 Q717.7,1119.0 704.7,1122.4 M718.7,1119.6 L724.8,1126.4 M726.1,1114.4 L740.0,1125.1 M733.5,1108.4 Q742.7,1116.7 751.5,1122.8 M743.5,1106.1 Q756.0,1115.2 770.0,1120.5" fill="none" stroke="#b22222" stroke-width="1.02"/>
<polygon points="549.0,1120.3 552.2,1116.3 567.9,1099.5 572.2,1096.9 588.8,1089.8 609.4,1091.3 622.2,1098.2 658.2,1110.1 671.0,1127.5 667.3,1132.2 658.8,1134.0 634.4,1135.8 606.3,1136.4 575.8,1135.1 556.7,1127.5" fill="#b3b3b3" stroke="#b22222" stroke-width="1.2" stroke-linejoin="round"/>
<path d="M576.6,1101.9 Q577.1,1119.1 556.7,1124.5 M578.5,1120.1 L588.0,1130.7 M590.1,1112.0 L612.0,1128.7 M601.7,1102.5 Q616.1,1115.6 629.9,1125.1 M617.3,1098.9 Q636.8,1113.2 658.8,1121.5" fill="none" stroke="#b22222" stroke-width="1.02"/>
<polygon points="662.5,1139.1 664.6,1136.6 674.9,1126.2 677.7,1124.6 688.6,1120.2 702.1,1121.2 710.5,1125.4 734.1,1132.8 742.5,1143.5 740.1,1146.4 734.5,1147.5 718.5,1148.6 700.1,1149.0 680.1,1148.2 667.5,1143.5" fill="#b3b3b3" stroke="#b22222" stroke-width="1.2" stroke-linejoin="round"/>
<path d="M680.6,1127.7 Q680.9,1138.4 667.5,1141.7 M681.9,1138.9 L688.1,1145.5 M689.5,1133.9 L703.8,1144.2 M697.1,1128.1 Q706.5,1136.2 715.5,1142.0 M707.3,1125.9 Q720.1,1134.7 734.5,1139.8" fill="none" stroke="#b22222" stroke-width="1.02"/>
<polygon points="605.6,1173.9 608.8,1169.6 624.7,1151.8 629.0,1149.0 645.7,1141.4 666.5,1143.0 679.4,1150.4 715.7,1163.0 728.6,1181.5 724.9,1186.6 716.3,1188.5 691.7,1190.4 663.4,1191.0 632.7,1189.6 613.3,1181.5" fill="#b3b3b3" stroke="#b22222" stroke-width="1.2" stroke-linejoin="round"/>
<path d="M633.4,1154.3 Q633.9,1172.6 613.3,1178.3 M635.4,1173.7 L645.0,1184.9 M647.1,1165.1 L669.1,1182.8 M658.7,1154.9 Q673.2,1168.8 687.1,1179.0 M674.5,1151.1 Q694.2,1166.3 716.3,1175.2" fill="none" stroke="#b22222" stroke-width="1.02"/>
<g transform="translate(292.0 855.0) rotate(38)">
<ellipse rx="42" ry="17" fill="#fff" stroke="#e8141c" stroke-width="1.3"/>
<path d="M-19.6,-3.1 L-17.3,0.9 M-23.3,2.2 L-19.4,8.1 M16.5,-9.3 L20.4,-6.9 M14.1,-13.7 L7.8,-11.9 M-7.7,-13.1 L-13.2,-10.0 M18.4,0.8 L12.8,5.2 M33.3,0.7 L30.5,2.0 M-33.6,-3.9 L-33.3,-0.9 M31.9,-3.0 L31.0,0.7 M21.1,-3.0 L19.7,1.3 M6.8,-16.8 L3.8,-11.1 M21.6,-0.3 L24.5,2.0 M25.6,3.3 L24.0,7.4 M29.9,-4.3 L30.9,-1.2 M2.4,2.7 L2.1,6.0 M-26.0,9.1 L-22.0,9.9 M5.5,2.8 L0.4,7.4 M-7.9,-7.7 L-12.0,-6.1 M-11.6,-0.4 L-4.7,-0.3 M30.1,0.2 L29.7,6.4 M-11.8,-0.2 L-18.2,2.1 M18.3,7.7 L13.2,9.9" stroke="#e8141c" stroke-width="0.9" fill="none"/>
</g>
<g transform="translate(604.0 1130.0) rotate(40)">
<ellipse rx="48" ry="19" fill="#fff" stroke="#e8141c" stroke-width="1.3"/>
<path d="M12.0,12.4 L15.6,13.8 M-20.7,-11.0 L-16.5,-8.1 M34.0,-1.3 L40.4,-1.0 M-8.9,0.1 L-11.1,5.9 M-23.5,5.5 L-23.1,11.9 M24.3,3.3 L24.4,8.1 M9.5,-4.0 L13.9,-2.1 M-2.1,13.9 L2.2,17.6 M4.6,14.0 L1.1,15.5 M-7.6,3.7 L-9.5,8.4 M-1.6,-1.4 L2.6,1.4 M20.7,11.1 L26.4,12.7 M16.6,2.9 L13.6,5.0 M-35.6,-1.1 L-35.3,4.4 M-37.7,3.1 L-39.7,5.3 M18.8,-4.4 L16.2,-2.2 M19.9,-5.8 L13.6,-4.3 M-18.3,-15.1 L-17.3,-11.5 M13.1,-16.7 L11.2,-13.8 M-30.1,2.8 L-32.2,8.6 M8.1,3.3 L12.8,7.6 M-5.1,-5.5 L-7.2,-3.3 M34.5,-5.4 L33.1,0.7 M-28.0,-1.8 L-27.0,2.6 M-5.8,-3.3 L-10.0,-1.0 M-10.0,-11.8 L-8.1,-6.8 M1.4,-5.9 L7.7,-5.2 M0.4,12.0 L6.8,13.1" stroke="#e8141c" stroke-width="0.9" fill="none"/>
</g>
<path d="M380,722.9 C395,721 410,723.5 425,727.5 C445,733 465,736 485,731 C500,727 512,716 521.4,704.3" fill="none" stroke="#111" stroke-width="1.1"/>
<path d="M687,743.4 C672,758 660,782 656,810 C653,830 648,846 638,853" fill="none" stroke="#111" stroke-width="1.1"/>
<path d="M286.2,797.1 C287.2,796.3 290.7,793.4 292.0,792.1 C293.3,790.8 292.0,791.4 293.9,789.2 C295.8,786.9 300.3,782.7 303.5,778.6 C306.7,774.5 310.3,769.2 313.3,764.4 C316.3,759.6 319.0,754.8 321.3,750.0 C323.7,745.2 325.4,740.1 327.4,735.6 C329.5,731.1 331.3,726.3 333.6,723.1 C335.9,719.8 338.4,717.5 341.2,716.0 C344.0,714.5 346.8,713.7 350.4,714.0 C354.1,714.3 358.9,715.8 363.1,717.9 C367.3,720.0 372.0,723.6 375.5,726.7 C379.1,729.8 382.0,732.9 384.4,736.3 C386.8,739.8 388.8,744.0 389.7,747.4 C390.7,750.8 390.7,753.3 389.8,756.7 C389.0,760.0 387.2,764.7 384.7,767.5 C382.3,770.3 379.4,772.0 375.3,773.5 C371.3,775.0 365.4,775.6 360.4,776.5 C355.5,777.4 350.7,777.8 345.8,778.6 C340.9,779.4 335.8,780.0 331.2,781.1 C326.6,782.2 322.5,783.6 318.1,785.2 C313.7,786.8 309.0,788.9 304.9,790.6 C300.8,792.2 296.6,794.3 293.5,795.4 C290.4,796.4 287.4,796.8 286.2,797.1Z" fill="url(#fg1)" stroke="#1a1ae0" stroke-width="1.3"/>
<path d="M311.4,778.7 C314.4,775.3 324.2,764.5 329.4,758.4 C334.7,752.3 339.3,747.2 342.7,742.0 C346.0,736.8 348.4,729.7 349.6,727.2" fill="none" stroke="#1a1ae0" stroke-width="1.1"/>
<path d="M333.5,758.9 C335.9,758.5 342.9,758.0 347.9,757.0 C352.8,755.9 358.5,752.8 363.4,752.4 C368.4,752.1 375.4,754.6 377.8,755.0" fill="none" stroke="#1a1ae0" stroke-width="1.1"/>
<path d="M323.6,778.4 C327.6,774.0 341.1,759.7 347.8,752.2 C354.4,744.6 358.5,737.4 363.4,733.0 C368.3,728.6 374.8,726.9 377.1,725.7" fill="none" stroke="#111" stroke-width="1.1"/>
<path d="M346.5,747.3 L354.4,738.1 L357.0,725.1" fill="none" stroke="#111" stroke-width="1.1"/>
<path d="M371.4,863.4 C372.0,862.9 374.1,861.2 374.9,860.4 C375.6,859.6 374.8,860.0 376.0,858.7 C377.1,857.4 379.7,854.9 381.7,852.4 C383.6,850.0 385.7,846.8 387.5,844.0 C389.2,841.2 390.8,838.3 392.2,835.5 C393.6,832.6 394.6,829.6 395.8,827.0 C397.0,824.3 398.1,821.4 399.5,819.5 C400.8,817.6 402.3,816.2 404.0,815.3 C405.6,814.4 407.3,813.9 409.4,814.1 C411.6,814.3 414.5,815.2 417.0,816.4 C419.5,817.7 422.2,819.8 424.3,821.6 C426.4,823.5 428.2,825.3 429.6,827.3 C431.0,829.4 432.2,831.9 432.8,833.9 C433.3,835.9 433.3,837.4 432.8,839.4 C432.3,841.4 431.2,844.2 429.8,845.8 C428.4,847.5 426.6,848.5 424.2,849.4 C421.8,850.3 418.3,850.7 415.4,851.2 C412.5,851.7 409.6,852.0 406.7,852.4 C403.8,852.9 400.8,853.3 398.1,853.9 C395.3,854.6 392.9,855.4 390.3,856.3 C387.7,857.3 384.9,858.5 382.5,859.5 C380.0,860.5 377.6,861.7 375.7,862.4 C373.9,863.0 372.1,863.2 371.4,863.4Z" fill="url(#fg2)" stroke="#1a1ae0" stroke-width="1.3"/>
<path d="M386.3,852.5 C388.1,850.5 393.9,844.1 397.0,840.4 C400.1,836.8 402.9,833.8 404.9,830.7 C406.9,827.6 408.3,823.4 409.0,822.0" fill="none" stroke="#1a1ae0" stroke-width="1.1"/>
<path d="M399.4,840.7 C400.9,840.5 405.0,840.2 407.9,839.6 C410.9,839.0 414.2,837.1 417.2,836.9 C420.1,836.7 424.3,838.2 425.7,838.4" fill="none" stroke="#1a1ae0" stroke-width="1.1"/>
<path d="M393.6,852.3 C396.0,849.7 404.0,841.2 407.9,836.7 C411.8,832.3 414.3,828.0 417.2,825.4 C420.1,822.8 423.9,821.8 425.3,821.1" fill="none" stroke="#111" stroke-width="1.1"/>
<path d="M407.2,833.9 L411.8,828.4 L413.3,820.7" fill="none" stroke="#111" stroke-width="1.1"/>
<path d="M415.3,895.0 C416.2,894.2 419.4,891.7 420.6,890.5 C421.7,889.3 420.5,889.9 422.3,887.8 C424.0,885.8 428.0,882.0 430.9,878.3 C433.9,874.5 437.1,869.7 439.8,865.4 C442.5,861.1 445.0,856.7 447.1,852.4 C449.2,848.0 450.7,843.4 452.6,839.3 C454.4,835.3 456.0,830.9 458.1,828.0 C460.2,825.0 462.5,823.0 465.0,821.6 C467.6,820.2 470.1,819.5 473.4,819.8 C476.7,820.1 481.1,821.4 484.8,823.3 C488.6,825.2 492.9,828.5 496.1,831.2 C499.3,834.0 502.0,836.8 504.1,839.9 C506.3,843.0 508.2,846.8 509.0,849.9 C509.8,853.0 509.8,855.3 509.1,858.4 C508.3,861.4 506.7,865.6 504.5,868.1 C502.3,870.7 499.6,872.2 495.9,873.5 C492.3,874.9 486.9,875.5 482.5,876.3 C478.0,877.1 473.6,877.5 469.2,878.2 C464.8,878.9 460.2,879.5 456.0,880.5 C451.8,881.5 448.1,882.8 444.2,884.2 C440.2,885.6 435.9,887.5 432.2,889.1 C428.5,890.6 424.7,892.4 421.9,893.4 C419.1,894.4 416.4,894.7 415.3,895.0Z" fill="url(#fg3)" stroke="#1a1ae0" stroke-width="1.3"/>
<path d="M438.1,878.3 C440.8,875.3 449.7,865.5 454.4,859.9 C459.1,854.4 463.3,849.8 466.4,845.1 C469.4,840.4 471.6,833.9 472.6,831.7" fill="none" stroke="#1a1ae0" stroke-width="1.1"/>
<path d="M458.1,860.4 C460.3,860.1 466.6,859.6 471.1,858.6 C475.6,857.7 480.7,854.8 485.2,854.5 C489.7,854.2 496.0,856.5 498.1,856.8" fill="none" stroke="#1a1ae0" stroke-width="1.1"/>
<path d="M449.1,878.0 C452.8,874.1 465.0,861.1 471.0,854.3 C477.0,847.4 480.7,840.9 485.1,836.9 C489.6,833.0 495.5,831.4 497.5,830.3" fill="none" stroke="#111" stroke-width="1.1"/>
<path d="M469.9,849.9 L477.0,841.6 L479.3,829.8" fill="none" stroke="#111" stroke-width="1.1"/>
<path d="M487.0,956.5 C488.5,955.1 493.8,950.4 495.7,948.3 C497.6,946.1 495.6,947.3 498.4,943.6 C501.3,940.0 507.9,933.1 512.6,926.5 C517.4,919.8 522.6,911.3 526.9,903.7 C531.2,896.0 535.0,888.3 538.3,880.7 C541.7,873.1 543.9,865.0 546.8,857.9 C549.6,850.7 552.1,843.1 555.4,837.8 C558.8,832.6 562.5,828.9 566.8,826.4 C571.1,823.8 575.3,822.3 581.0,822.6 C586.7,822.8 594.4,824.8 601.1,827.7 C607.7,830.7 615.3,836.0 621.0,840.5 C626.8,845.0 631.6,849.7 635.5,854.8 C639.5,860.0 643.0,866.4 644.7,871.6 C646.3,876.9 646.5,880.9 645.5,886.2 C644.4,891.5 641.9,898.8 638.3,903.3 C634.7,907.9 630.3,910.7 624.1,913.3 C617.9,916.0 608.7,917.4 601.1,919.1 C593.5,920.8 586.0,921.9 578.4,923.4 C570.9,925.0 563.0,926.4 555.9,928.4 C548.8,930.5 542.5,932.9 535.8,935.7 C529.1,938.5 521.9,942.1 515.6,945.0 C509.3,947.9 503.0,951.3 498.2,953.3 C493.4,955.2 488.9,956.0 487.0,956.5Z" fill="url(#fg4)" stroke="#1a1ae0" stroke-width="1.3"/>
<path d="M524.9,926.1 C529.4,920.6 543.9,903.0 551.6,893.1 C559.2,883.2 566.1,875.0 571.0,866.7 C575.8,858.4 579.1,847.1 580.7,843.2" fill="none" stroke="#1a1ae0" stroke-width="1.1"/>
<path d="M557.9,893.6 C561.6,892.9 572.4,891.6 580.1,889.6 C587.8,887.6 596.3,882.3 604.1,881.5 C611.8,880.6 622.8,883.9 626.5,884.4" fill="none" stroke="#1a1ae0" stroke-width="1.1"/>
<path d="M543.9,924.7 C549.8,917.6 569.9,894.4 579.7,882.1 C589.5,869.9 595.3,858.4 602.6,851.2 C609.9,844.0 620.0,840.9 623.5,838.9" fill="none" stroke="#111" stroke-width="1.1"/>
<path d="M577.4,874.7 L589.0,859.8 L592.0,839.4" fill="none" stroke="#111" stroke-width="1.1"/>
<path d="M563.4,1014.7 C564.0,1014.2 566.1,1012.5 566.9,1011.7 C567.6,1010.9 566.8,1011.3 568.0,1010.0 C569.1,1008.7 571.7,1006.2 573.7,1003.7 C575.6,1001.3 577.7,998.1 579.5,995.3 C581.2,992.5 582.8,989.6 584.2,986.8 C585.6,983.9 586.6,980.9 587.8,978.3 C589.0,975.6 590.1,972.7 591.5,970.8 C592.8,968.9 594.3,967.5 596.0,966.6 C597.6,965.7 599.3,965.2 601.4,965.4 C603.6,965.6 606.5,966.5 609.0,967.7 C611.5,969.0 614.2,971.1 616.3,972.9 C618.4,974.8 620.2,976.6 621.6,978.6 C623.0,980.7 624.2,983.2 624.8,985.2 C625.3,987.2 625.3,988.7 624.8,990.7 C624.3,992.7 623.2,995.5 621.8,997.1 C620.4,998.8 618.6,999.8 616.2,1000.7 C613.8,1001.6 610.3,1002.0 607.4,1002.5 C604.5,1003.0 601.6,1003.3 598.7,1003.7 C595.8,1004.2 592.8,1004.6 590.1,1005.2 C587.3,1005.9 584.9,1006.7 582.3,1007.6 C579.7,1008.6 576.9,1009.8 574.5,1010.8 C572.0,1011.8 569.6,1013.0 567.7,1013.7 C565.9,1014.3 564.1,1014.5 563.4,1014.7Z" fill="url(#fg5)" stroke="#1a1ae0" stroke-width="1.3"/>
<path d="M578.3,1003.8 C580.1,1001.8 585.9,995.4 589.0,991.7 C592.1,988.1 594.9,985.1 596.9,982.0 C598.9,978.9 600.3,974.7 601.0,973.3" fill="none" stroke="#1a1ae0" stroke-width="1.1"/>
<path d="M591.4,992.0 C592.9,991.8 597.0,991.5 599.9,990.9 C602.9,990.3 606.2,988.4 609.2,988.2 C612.1,988.0 616.3,989.5 617.7,989.7" fill="none" stroke="#1a1ae0" stroke-width="1.1"/>
<path d="M585.6,1003.6 C588.0,1001.0 596.0,992.5 599.9,988.0 C603.8,983.6 606.3,979.3 609.2,976.7 C612.1,974.1 615.9,973.1 617.3,972.4" fill="none" stroke="#111" stroke-width="1.1"/>
<path d="M599.2,985.2 L603.8,979.7 L605.3,972.0" fill="none" stroke="#111" stroke-width="1.1"/>
<path d="M639.7,1076.4 C641.3,1075.0 647.2,1070.3 649.3,1068.1 C651.5,1065.9 649.3,1067.0 652.5,1063.3 C655.6,1059.6 663.0,1052.6 668.3,1045.8 C673.6,1038.9 679.6,1030.1 684.5,1022.2 C689.4,1014.3 693.9,1006.4 697.8,998.4 C701.7,990.5 704.4,982.0 707.8,974.6 C711.2,967.2 714.2,959.2 717.9,953.8 C721.7,948.3 725.9,944.6 730.6,942.1 C735.2,939.6 739.8,938.3 745.8,938.8 C751.9,939.3 759.9,941.7 766.8,945.2 C773.8,948.7 781.5,954.7 787.4,959.7 C793.3,964.8 798.2,969.9 802.1,975.6 C806.0,981.3 809.5,988.2 811.0,993.9 C812.5,999.5 812.5,1003.8 811.2,1009.3 C809.8,1014.9 806.7,1022.5 802.7,1027.2 C798.7,1031.8 793.9,1034.6 787.2,1037.1 C780.5,1039.6 770.7,1040.7 762.6,1042.2 C754.4,1043.6 746.3,1044.4 738.3,1045.6 C730.2,1046.9 721.8,1048.1 714.1,1049.9 C706.5,1051.7 699.7,1054.0 692.5,1056.6 C685.2,1059.3 677.4,1062.7 670.6,1065.5 C663.8,1068.3 656.9,1071.7 651.7,1073.5 C646.6,1075.3 641.7,1075.9 639.7,1076.4Z" fill="url(#fg6)" stroke="#1a1ae0" stroke-width="1.3"/>
<path d="M681.4,1045.9 C686.3,1040.3 702.6,1022.4 711.2,1012.2 C719.8,1002.1 727.5,993.7 733.1,985.1 C738.6,976.5 742.6,964.7 744.5,960.6" fill="none" stroke="#1a1ae0" stroke-width="1.1"/>
<path d="M717.9,1013.0 C721.9,1012.5 733.4,1011.6 741.7,1009.8 C749.9,1008.1 759.2,1002.9 767.5,1002.3 C775.7,1001.8 787.2,1005.9 791.2,1006.6" fill="none" stroke="#1a1ae0" stroke-width="1.1"/>
<path d="M701.6,1045.4 C708.2,1038.1 730.6,1014.4 741.5,1001.9 C752.5,989.4 759.3,977.5 767.4,970.2 C775.5,962.9 786.3,960.1 790.0,958.1" fill="none" stroke="#111" stroke-width="1.1"/>
<path d="M739.5,993.9 L752.5,978.7 L756.7,957.2" fill="none" stroke="#111" stroke-width="1.1"/>
<path d="M510.6,700.6 C520,690 545,672 560,670 C568,669 568,680 566,690 C563,703 556,711 548,710 C538,709 530,704 521.4,703.4 C516,703 512,703 510.6,700.6Z" fill="#99ffff" stroke="#111" stroke-width="1.2"/>
<path d="M662.3,732.9 C668,722 688,704 701,702.3 C710,701 716,704 719,709 C724,716 725,724 723.5,730 C721,740 716,746 711,748.5 C706,751 702,750.5 698,748 C690,743 680,741 672.9,740 C667,739.5 661,737 662.3,732.9Z" fill="#99ffff" stroke="#111" stroke-width="1.2"/>
<polygon points="876.0,363.9 878.3,362.3 889.8,355.5 892.9,354.4 905.0,351.5 920.1,352.2 929.4,355.0 955.7,359.8 965.0,366.8 962.3,368.7 956.1,369.4 938.3,370.2 917.8,370.4 895.6,369.9 881.6,366.8" fill="#b3b3b3" stroke="#6a6a6a" stroke-width="1.0" stroke-linejoin="round"/>
<path d="M896.1,356.5 Q896.5,363.4 881.6,365.6 M897.5,363.8 L904.5,368.1 M906.0,360.5 L921.9,367.3 M914.4,356.7 Q925.0,362.0 935.0,365.8 M925.8,355.2 Q940.1,361.0 956.1,364.4" fill="none" stroke="#6a6a6a" stroke-width="0.85"/>
<polygon points="864.0,373.8 865.5,372.8 872.8,368.3 874.8,367.6 882.6,365.7 892.2,366.1 898.2,367.9 915.0,371.1 921.0,375.7 919.3,377.0 915.3,377.5 903.9,377.9 890.8,378.1 876.5,377.8 867.6,375.7" fill="#b3b3b3" stroke="#6a6a6a" stroke-width="1.0" stroke-linejoin="round"/>
<path d="M876.9,368.9 Q877.1,373.5 867.6,374.9 M877.8,373.8 L882.2,376.6 M883.2,371.6 L893.4,376.0 M888.6,369.1 Q895.4,372.6 901.8,375.1" fill="none" stroke="#6a6a6a" stroke-width="0.85"/>
<polygon points="859.0,399.2 861.3,397.4 872.8,390.3 875.9,389.2 888.0,386.2 903.1,386.8 912.4,389.7 938.7,394.8 948.0,402.2 945.3,404.2 939.1,405.0 921.3,405.7 900.8,406.0 878.6,405.4 864.6,402.2" fill="#b3b3b3" stroke="#6a6a6a" stroke-width="1.0" stroke-linejoin="round"/>
<path d="M879.1,391.3 Q879.5,398.7 864.6,400.9 M880.5,399.1 L887.5,403.6 M889.0,395.6 L904.9,402.7 M897.4,391.6 Q908.0,397.1 918.0,401.2 M908.8,390.1 Q923.1,396.1 939.1,399.7" fill="none" stroke="#6a6a6a" stroke-width="0.85"/>
<polygon points="846.6,408.6 848.1,407.6 855.6,403.1 857.6,402.4 865.5,400.5 875.3,400.9 881.4,402.7 898.5,405.9 904.6,410.5 902.9,411.8 898.8,412.3 887.2,412.7 873.9,412.9 859.4,412.6 850.3,410.5" fill="#b3b3b3" stroke="#6a6a6a" stroke-width="1.0" stroke-linejoin="round"/>
<path d="M859.7,403.7 Q859.9,408.3 850.3,409.7 M860.6,408.6 L865.2,411.4 M866.1,406.4 L876.5,410.8 M871.7,403.9 Q878.5,407.4 885.1,409.9" fill="none" stroke="#6a6a6a" stroke-width="0.85"/>
<polygon points="958.7,403.5 960.3,402.3 968.2,397.3 970.3,396.5 978.6,394.4 988.9,394.9 995.3,396.9 1013.3,400.5 1019.7,405.6 1017.9,407.1 1013.6,407.6 1001.4,408.1 987.4,408.3 972.1,407.9 962.5,405.6" fill="#b3b3b3" stroke="#6a6a6a" stroke-width="1.0" stroke-linejoin="round"/>
<path d="M972.5,398.0 Q972.7,403.2 962.5,404.8 M973.5,403.4 L978.2,406.6 M979.3,401.0 L990.2,406.0 M985.1,398.2 Q992.2,402.1 999.1,404.9 M992.9,397.1 Q1002.6,401.4 1013.6,403.9" fill="none" stroke="#6a6a6a" stroke-width="0.85"/>
<polygon points="949.6,409.6 950.6,408.8 955.8,405.6 957.2,405.1 962.6,403.8 969.4,404.1 973.6,405.4 985.4,407.7 989.6,411.0 988.4,411.9 985.6,412.2 977.6,412.6 968.4,412.7 958.4,412.4 952.1,411.0" fill="#b3b3b3" stroke="#6a6a6a" stroke-width="1.0" stroke-linejoin="round"/>
<path d="M958.6,406.1 Q958.8,409.4 952.1,410.4 M959.3,409.6 L962.4,411.6 M963.1,408.0 L970.2,411.2 M966.9,406.2 Q971.6,408.7 976.1,410.5" fill="none" stroke="#6a6a6a" stroke-width="0.85"/>
<polygon points="935.0,444.9 937.5,442.8 949.8,434.0 953.2,432.6 966.2,428.9 982.3,429.7 992.4,433.3 1020.6,439.5 1030.6,448.6 1027.7,451.1 1021.0,452.1 1001.9,453.0 979.9,453.3 956.0,452.6 941.0,448.6" fill="#b3b3b3" stroke="#6a6a6a" stroke-width="1.0" stroke-linejoin="round"/>
<path d="M956.6,435.2 Q957.0,444.3 941.0,447.1 M958.1,444.8 L965.6,450.3 M967.2,440.5 L984.3,449.3 M976.3,435.6 Q987.6,442.4 998.4,447.4 M988.5,433.7 Q1003.8,441.2 1021.0,445.5" fill="none" stroke="#6a6a6a" stroke-width="0.85"/>
<polygon points="902.0,457.8 903.9,456.6 913.3,451.4 915.9,450.6 925.8,448.4 938.1,448.9 945.8,451.0 967.3,454.7 975.0,460.0 972.8,461.5 967.7,462.1 953.1,462.6 936.3,462.8 918.1,462.4 906.6,460.0" fill="#b3b3b3" stroke="#6a6a6a" stroke-width="1.0" stroke-linejoin="round"/>
<path d="M918.5,452.2 Q918.8,457.5 906.6,459.1 M919.7,457.8 L925.4,461.0 M926.6,455.3 L939.7,460.4 M933.5,452.3 Q942.1,456.4 950.4,459.3 M942.9,451.2 Q954.6,455.6 967.7,458.2" fill="none" stroke="#6a6a6a" stroke-width="0.85"/>
<polygon points="851.0,445.7 852.4,444.7 859.4,440.2 861.3,439.5 868.6,437.6 877.7,438.0 883.4,439.8 899.3,443.0 905.0,447.6 903.4,448.9 899.6,449.4 888.8,449.8 876.4,450.0 862.9,449.7 854.4,447.6" fill="#b3b3b3" stroke="#6a6a6a" stroke-width="1.0" stroke-linejoin="round"/>
<path d="M863.2,440.8 Q863.4,445.4 854.4,446.8 M864.1,445.7 L868.3,448.5 M869.2,443.5 L878.9,447.9 M874.3,441.0 Q880.7,444.5 886.8,447.0" fill="none" stroke="#6a6a6a" stroke-width="0.85"/>
<polygon points="843.0,451.5 843.9,450.7 848.6,447.5 849.8,447.0 854.7,445.7 860.8,446.0 864.6,447.3 875.2,449.6 879.0,452.9 877.9,453.8 875.4,454.1 868.2,454.5 859.9,454.6 850.9,454.3 845.3,452.9" fill="#b3b3b3" stroke="#6a6a6a" stroke-width="1.0" stroke-linejoin="round"/>
<path d="M851.1,448.0 Q851.3,451.3 845.3,452.3 M851.7,451.5 L854.5,453.5 M855.1,449.9 L861.6,453.1 M858.6,448.1 Q862.8,450.6 866.9,452.4" fill="none" stroke="#6a6a6a" stroke-width="0.85"/>
<polygon points="1115.7,551.0 1118.0,549.2 1129.6,542.1 1132.7,541.0 1144.9,538.0 1160.0,538.6 1169.4,541.5 1195.8,546.6 1205.2,554.0 1202.5,556.0 1196.2,556.8 1178.4,557.5 1157.8,557.8 1135.4,557.2 1121.3,554.0" fill="#b3b3b3" stroke="#6a6a6a" stroke-width="1.0" stroke-linejoin="round"/>
<path d="M1135.9,543.1 Q1136.3,550.5 1121.3,552.7 M1137.4,550.9 L1144.3,555.4 M1145.9,547.4 L1161.9,554.5 M1154.4,543.4 Q1164.9,548.9 1175.0,553.0 M1165.8,541.9 Q1180.1,547.9 1196.2,551.5" fill="none" stroke="#6a6a6a" stroke-width="0.85"/>
<polygon points="1104.0,560.2 1105.5,559.0 1112.9,554.2 1114.9,553.5 1122.7,551.4 1132.4,551.8 1138.4,553.8 1155.4,557.2 1161.4,562.2 1159.7,563.6 1155.7,564.1 1144.2,564.6 1131.0,564.8 1116.6,564.4 1107.6,562.2" fill="#b3b3b3" stroke="#6a6a6a" stroke-width="1.0" stroke-linejoin="round"/>
<path d="M1117.0,554.9 Q1117.2,559.8 1107.6,561.4 M1117.9,560.1 L1122.4,563.2 M1123.3,557.8 L1133.6,562.6 M1128.8,555.1 Q1135.6,558.8 1142.1,561.6" fill="none" stroke="#6a6a6a" stroke-width="0.85"/>
<polygon points="1190.0,576.2 1192.3,574.4 1203.9,567.3 1207.0,566.2 1219.2,563.2 1234.3,563.8 1243.7,566.7 1270.1,571.8 1279.5,579.2 1276.8,581.2 1270.5,582.0 1252.7,582.7 1232.1,583.0 1209.7,582.4 1195.6,579.2" fill="#b3b3b3" stroke="#6a6a6a" stroke-width="1.0" stroke-linejoin="round"/>
<path d="M1210.2,568.3 Q1210.6,575.7 1195.6,577.9 M1211.7,576.1 L1218.6,580.6 M1220.2,572.6 L1236.2,579.7 M1228.7,568.6 Q1239.2,574.1 1249.3,578.2 M1240.1,567.1 Q1254.4,573.1 1270.5,576.7" fill="none" stroke="#6a6a6a" stroke-width="0.85"/>
<polygon points="1147.8,590.4 1150.1,588.6 1161.7,581.1 1164.8,579.9 1177.0,576.8 1192.1,577.5 1201.5,580.5 1227.9,585.9 1237.3,593.6 1234.6,595.7 1228.3,596.5 1210.5,597.3 1189.9,597.6 1167.5,597.0 1153.4,593.6" fill="#b3b3b3" stroke="#6a6a6a" stroke-width="1.0" stroke-linejoin="round"/>
<path d="M1168.0,582.2 Q1168.4,589.9 1153.4,592.3 M1169.5,590.3 L1176.4,595.0 M1178.0,586.7 L1194.0,594.1 M1186.5,582.4 Q1197.0,588.3 1207.1,592.5 M1197.9,580.9 Q1212.2,587.2 1228.3,591.0" fill="none" stroke="#6a6a6a" stroke-width="0.85"/>
<polygon points="1135.0,599.2 1136.5,598.2 1144.0,593.7 1146.0,593.0 1153.9,591.1 1163.7,591.5 1169.8,593.3 1186.9,596.5 1193.0,601.1 1191.3,602.4 1187.2,602.9 1175.6,603.3 1162.3,603.5 1147.8,603.2 1138.7,601.1" fill="#b3b3b3" stroke="#6a6a6a" stroke-width="1.0" stroke-linejoin="round"/>
<path d="M1148.1,594.3 Q1148.3,598.9 1138.7,600.3 M1149.0,599.2 L1153.6,602.0 M1154.5,597.0 L1164.9,601.4 M1160.1,594.5 Q1166.9,598.0 1173.5,600.5" fill="none" stroke="#6a6a6a" stroke-width="0.85"/>
<polygon points="857.0,739.5 859.4,737.9 871.4,731.1 874.7,730.0 887.3,727.1 903.0,727.8 912.8,730.6 940.2,735.4 950.0,742.4 947.2,744.3 940.7,745.0 922.1,745.8 900.7,746.0 877.5,745.5 862.9,742.4" fill="#b3b3b3" stroke="#6a6a6a" stroke-width="1.0" stroke-linejoin="round"/>
<path d="M878.0,732.1 Q878.4,739.0 862.9,741.2 M879.5,739.4 L886.8,743.7 M888.3,736.1 L905.0,742.9 M897.2,732.3 Q908.1,737.6 918.7,741.4 M909.1,730.8 Q924.0,736.6 940.7,740.0" fill="none" stroke="#6a6a6a" stroke-width="0.85"/>
<polygon points="842.5,750.6 844.1,749.4 851.8,744.6 853.9,743.9 862.1,741.8 872.2,742.2 878.5,744.2 896.2,747.6 902.5,752.6 900.7,754.0 896.5,754.5 884.5,755.0 870.7,755.2 855.7,754.8 846.3,752.6" fill="#b3b3b3" stroke="#6a6a6a" stroke-width="1.0" stroke-linejoin="round"/>
<path d="M856.1,745.3 Q856.3,750.2 846.3,751.8 M857.0,750.5 L861.7,753.6 M862.7,748.2 L873.5,753.0 M868.4,745.5 Q875.5,749.2 882.3,752.0" fill="none" stroke="#6a6a6a" stroke-width="0.85"/>
<polygon points="869.0,757.6 871.4,755.8 883.1,748.7 886.3,747.6 898.7,744.6 914.0,745.2 923.6,748.1 950.4,753.2 960.0,760.6 957.3,762.6 950.9,763.4 932.7,764.1 911.8,764.4 889.0,763.8 874.7,760.6" fill="#b3b3b3" stroke="#6a6a6a" stroke-width="1.0" stroke-linejoin="round"/>
<path d="M889.6,749.7 Q889.9,757.1 874.7,759.3 M891.0,757.5 L898.1,762.0 M899.7,754.0 L916.0,761.1 M908.3,750.0 Q919.0,755.5 929.3,759.6 M920.0,748.5 Q934.5,754.5 950.9,758.1" fill="none" stroke="#6a6a6a" stroke-width="0.85"/>
<polygon points="853.6,767.5 855.2,766.3 863.1,761.5 865.2,760.8 873.5,758.7 883.8,759.1 890.2,761.1 908.2,764.5 914.6,769.5 912.8,770.9 908.5,771.4 896.3,771.9 882.3,772.1 867.0,771.7 857.4,769.5" fill="#b3b3b3" stroke="#6a6a6a" stroke-width="1.0" stroke-linejoin="round"/>
<path d="M867.4,762.2 Q867.6,767.1 857.4,768.7 M868.4,767.4 L873.1,770.5 M874.2,765.1 L885.1,769.9 M880.0,762.4 Q887.1,766.1 894.0,768.9 M887.8,761.3 Q897.5,765.4 908.5,767.8" fill="none" stroke="#6a6a6a" stroke-width="0.85"/>
<polygon points="927.0,768.5 929.4,766.9 941.6,760.1 944.9,759.0 957.6,756.1 973.5,756.8 983.4,759.6 1011.1,764.4 1021.0,771.4 1018.2,773.3 1011.6,774.0 992.8,774.8 971.2,775.0 947.7,774.5 932.9,771.4" fill="#b3b3b3" stroke="#6a6a6a" stroke-width="1.0" stroke-linejoin="round"/>
<path d="M948.2,761.1 Q948.6,768.0 932.9,770.2 M949.7,768.4 L957.1,772.7 M958.7,765.1 L975.5,771.9 M967.6,761.3 Q978.7,766.6 989.3,770.4 M979.6,759.8 Q994.7,765.6 1011.6,769.0" fill="none" stroke="#6a6a6a" stroke-width="0.85"/>
<polygon points="821.5,784.9 824.0,783.1 836.7,775.3 840.1,774.1 853.4,770.9 870.0,771.6 880.3,774.7 909.2,780.2 919.5,788.2 916.6,790.4 909.7,791.2 890.1,792.0 867.6,792.3 843.1,791.7 827.7,788.2" fill="#b3b3b3" stroke="#6a6a6a" stroke-width="1.0" stroke-linejoin="round"/>
<path d="M843.6,776.4 Q844.0,784.4 827.7,786.8 M845.2,784.8 L852.9,789.7 M854.5,781.1 L872.1,788.7 M863.8,776.7 Q875.4,782.7 886.5,787.1 M876.4,775.1 Q892.1,781.6 909.7,785.5" fill="none" stroke="#6a6a6a" stroke-width="0.85"/>
<polygon points="913.4,778.9 914.5,777.9 920.1,773.4 921.6,772.7 927.4,770.8 934.7,771.2 939.2,773.0 951.9,776.2 956.4,780.8 955.1,782.1 952.1,782.6 943.5,783.0 933.6,783.2 922.9,782.9 916.1,780.8" fill="#b3b3b3" stroke="#6a6a6a" stroke-width="1.0" stroke-linejoin="round"/>
<path d="M923.1,774.0 Q923.3,778.6 916.1,780.0 M923.8,778.9 L927.2,781.7 M927.9,776.7 L935.6,781.1 M932.0,774.2 Q937.0,777.7 941.9,780.2" fill="none" stroke="#6a6a6a" stroke-width="0.85"/>
<polygon points="938.0,786.2 940.4,784.4 952.1,777.3 955.3,776.2 967.7,773.2 983.0,773.8 992.6,776.7 1019.4,781.8 1029.0,789.2 1026.3,791.2 1019.9,792.0 1001.7,792.7 980.8,793.0 958.0,792.4 943.7,789.2" fill="#b3b3b3" stroke="#6a6a6a" stroke-width="1.0" stroke-linejoin="round"/>
<path d="M958.6,778.3 Q958.9,785.7 943.7,787.9 M960.0,786.1 L967.1,790.6 M968.7,782.6 L985.0,789.7 M977.3,778.6 Q988.0,784.1 998.3,788.2 M989.0,777.1 Q1003.5,783.1 1019.9,786.7" fill="none" stroke="#6a6a6a" stroke-width="0.85"/>
<polygon points="924.5,795.9 926.1,794.9 933.8,790.6 935.9,789.9 944.1,788.1 954.2,788.5 960.5,790.2 978.2,793.3 984.5,797.7 982.7,798.9 978.5,799.4 966.5,799.8 952.7,800.0 937.7,799.7 928.3,797.7" fill="#b3b3b3" stroke="#6a6a6a" stroke-width="1.0" stroke-linejoin="round"/>
<path d="M938.1,791.2 Q938.3,795.6 928.3,797.0 M939.0,795.8 L943.7,798.5 M944.7,793.8 L955.5,798.0 M950.4,791.3 Q957.5,794.7 964.3,797.1" fill="none" stroke="#6a6a6a" stroke-width="0.85"/>
<polygon points="948.0,818.2 950.4,816.4 962.4,809.3 965.7,808.2 978.3,805.2 994.0,805.8 1003.8,808.7 1031.2,813.8 1041.0,821.2 1038.2,823.2 1031.7,824.0 1013.1,824.7 991.7,825.0 968.5,824.4 953.9,821.2" fill="#b3b3b3" stroke="#6a6a6a" stroke-width="1.0" stroke-linejoin="round"/>
<path d="M969.0,810.3 Q969.4,817.7 953.9,819.9 M970.5,818.1 L977.8,822.6 M979.3,814.6 L996.0,821.7 M988.2,810.6 Q999.1,816.1 1009.7,820.2 M1000.1,809.1 Q1015.0,815.1 1031.7,818.7" fill="none" stroke="#6a6a6a" stroke-width="0.85"/>
<polygon points="934.7,829.3 936.2,828.1 943.8,823.3 945.9,822.6 953.9,820.5 963.9,820.9 970.1,822.9 987.5,826.3 993.7,831.3 991.9,832.7 987.8,833.2 976.0,833.7 962.4,833.9 947.7,833.5 938.4,831.3" fill="#b3b3b3" stroke="#6a6a6a" stroke-width="1.0" stroke-linejoin="round"/>
<path d="M948.0,824.0 Q948.3,828.9 938.4,830.5 M949.0,829.2 L953.6,832.3 M954.6,826.9 L965.1,831.7 M960.2,824.2 Q967.2,827.9 973.8,830.7" fill="none" stroke="#6a6a6a" stroke-width="0.85"/>
<polygon points="960.0,835.6 962.4,833.9 974.1,826.9 977.3,825.8 989.7,822.8 1005.0,823.5 1014.6,826.4 1041.4,831.3 1051.0,838.6 1048.3,840.6 1041.9,841.3 1023.7,842.1 1002.8,842.3 980.0,841.8 965.7,838.6" fill="#b3b3b3" stroke="#6a6a6a" stroke-width="1.0" stroke-linejoin="round"/>
<path d="M980.6,827.9 Q980.9,835.1 965.7,837.3 M982.0,835.5 L989.1,839.9 M990.7,832.1 L1007.0,839.1 M999.3,828.2 Q1010.0,833.6 1020.3,837.6 M1011.0,826.7 Q1025.5,832.6 1041.9,836.1" fill="none" stroke="#6a6a6a" stroke-width="0.85"/>
<polygon points="945.8,845.2 947.4,844.2 955.1,839.7 957.2,839.0 965.4,837.1 975.5,837.5 981.8,839.3 999.5,842.5 1005.8,847.1 1004.0,848.4 999.8,848.9 987.8,849.3 974.0,849.5 959.0,849.2 949.6,847.1" fill="#b3b3b3" stroke="#6a6a6a" stroke-width="1.0" stroke-linejoin="round"/>
<path d="M959.4,840.3 Q959.6,844.9 949.6,846.3 M960.3,845.2 L965.0,848.0 M966.0,843.0 L976.8,847.4 M971.7,840.5 Q978.8,844.0 985.6,846.5" fill="none" stroke="#6a6a6a" stroke-width="0.85"/>
<polygon points="1054.0,811.6 1056.4,809.8 1068.3,802.7 1071.5,801.6 1084.0,798.6 1099.5,799.2 1109.2,802.1 1136.3,807.2 1146.0,814.6 1143.2,816.6 1136.8,817.4 1118.4,818.1 1097.2,818.4 1074.2,817.8 1059.8,814.6" fill="#b3b3b3" stroke="#6a6a6a" stroke-width="1.0" stroke-linejoin="round"/>
<path d="M1074.8,803.7 Q1075.2,811.1 1059.8,813.3 M1076.3,811.5 L1083.4,816.0 M1085.0,808.0 L1101.5,815.1 M1093.7,804.0 Q1104.6,809.5 1115.0,813.6 M1105.5,802.5 Q1120.2,808.5 1136.8,812.1" fill="none" stroke="#6a6a6a" stroke-width="0.85"/>
<polygon points="1041.0,822.5 1042.6,821.3 1050.5,816.5 1052.6,815.8 1060.9,813.7 1071.2,814.1 1077.6,816.1 1095.6,819.5 1102.0,824.5 1100.2,825.9 1095.9,826.4 1083.7,826.9 1069.7,827.1 1054.4,826.7 1044.8,824.5" fill="#b3b3b3" stroke="#6a6a6a" stroke-width="1.0" stroke-linejoin="round"/>
<path d="M1054.8,817.2 Q1055.0,822.1 1044.8,823.7 M1055.8,822.4 L1060.5,825.5 M1061.6,820.1 L1072.5,824.9 M1067.4,817.4 Q1074.5,821.1 1081.4,823.9 M1075.2,816.3 Q1084.9,820.4 1095.9,822.8" fill="none" stroke="#6a6a6a" stroke-width="0.85"/>
<polygon points="1064.7,830.2 1067.1,828.4 1079.1,821.3 1082.4,820.2 1095.0,817.2 1110.7,817.8 1120.5,820.7 1147.9,825.8 1157.7,833.2 1154.9,835.2 1148.4,836.0 1129.8,836.7 1108.4,837.0 1085.2,836.4 1070.6,833.2" fill="#b3b3b3" stroke="#6a6a6a" stroke-width="1.0" stroke-linejoin="round"/>
<path d="M1085.7,822.3 Q1086.1,829.7 1070.6,831.9 M1087.2,830.1 L1094.5,834.6 M1096.0,826.6 L1112.7,833.7 M1104.9,822.6 Q1115.9,828.1 1126.4,832.2 M1116.8,821.1 Q1131.7,827.1 1148.4,830.7" fill="none" stroke="#6a6a6a" stroke-width="0.85"/>
<polygon points="1051.0,839.4 1052.5,838.2 1060.1,833.4 1062.2,832.7 1070.2,830.6 1080.2,831.0 1086.4,833.0 1103.8,836.4 1110.0,841.4 1108.2,842.8 1104.1,843.3 1092.3,843.8 1078.7,844.0 1064.0,843.6 1054.7,841.4" fill="#b3b3b3" stroke="#6a6a6a" stroke-width="1.0" stroke-linejoin="round"/>
<path d="M1064.3,834.1 Q1064.6,839.0 1054.7,840.6 M1065.3,839.3 L1069.9,842.4 M1070.9,837.0 L1081.4,841.8 M1076.5,834.3 Q1083.5,838.0 1090.1,840.8" fill="none" stroke="#6a6a6a" stroke-width="0.85"/>
<polygon points="1078.0,871.7 1080.4,869.9 1092.6,862.8 1095.9,861.7 1108.6,858.7 1124.5,859.3 1134.4,862.2 1162.1,867.3 1172.0,874.7 1169.2,876.7 1162.6,877.5 1143.8,878.2 1122.2,878.5 1098.7,877.9 1083.9,874.7" fill="#b3b3b3" stroke="#6a6a6a" stroke-width="1.0" stroke-linejoin="round"/>
<path d="M1099.2,863.8 Q1099.6,871.2 1083.9,873.4 M1100.7,871.6 L1108.1,876.1 M1109.7,868.1 L1126.5,875.2 M1118.6,864.1 Q1129.7,869.6 1140.3,873.7 M1130.6,862.6 Q1145.7,868.6 1162.6,872.2" fill="none" stroke="#6a6a6a" stroke-width="0.85"/>
<polygon points="1064.7,882.3 1066.2,881.1 1073.8,876.3 1075.9,875.6 1083.9,873.5 1093.9,873.9 1100.1,875.9 1117.5,879.3 1123.7,884.3 1121.9,885.7 1117.8,886.2 1106.0,886.7 1092.4,886.9 1077.7,886.5 1068.4,884.3" fill="#b3b3b3" stroke="#6a6a6a" stroke-width="1.0" stroke-linejoin="round"/>
<path d="M1078.0,877.0 Q1078.3,881.9 1068.4,883.5 M1079.0,882.2 L1083.6,885.3 M1084.6,879.9 L1095.1,884.7 M1090.2,877.2 Q1097.2,880.9 1103.8,883.7" fill="none" stroke="#6a6a6a" stroke-width="0.85"/>
<polygon points="1090.0,889.2 1092.4,887.4 1104.4,880.3 1107.7,879.2 1120.3,876.2 1136.0,876.8 1145.8,879.7 1173.2,884.8 1183.0,892.2 1180.2,894.2 1173.7,895.0 1155.1,895.7 1133.7,896.0 1110.5,895.4 1095.9,892.2" fill="#b3b3b3" stroke="#6a6a6a" stroke-width="1.0" stroke-linejoin="round"/>
<path d="M1111.0,881.3 Q1111.4,888.7 1095.9,890.9 M1112.5,889.1 L1119.8,893.6 M1121.3,885.6 L1138.0,892.7 M1130.2,881.6 Q1141.2,887.1 1151.7,891.2 M1142.1,880.1 Q1157.0,886.1 1173.7,889.7" fill="none" stroke="#6a6a6a" stroke-width="0.85"/>
<polygon points="1075.5,898.6 1077.1,897.4 1084.8,892.8 1086.9,892.1 1095.1,890.1 1105.2,890.5 1111.5,892.4 1129.2,895.7 1135.5,900.5 1133.7,901.8 1129.5,902.3 1117.5,902.8 1103.7,903.0 1088.7,902.6 1079.3,900.5" fill="#b3b3b3" stroke="#6a6a6a" stroke-width="1.0" stroke-linejoin="round"/>
<path d="M1089.1,893.5 Q1089.3,898.2 1079.3,899.7 M1090.0,898.5 L1094.7,901.4 M1095.7,896.3 L1106.5,900.9 M1101.4,893.6 Q1108.5,897.2 1115.3,899.9" fill="none" stroke="#6a6a6a" stroke-width="0.85"/>
<g transform="translate(919.0 430.0) rotate(42)">
<ellipse rx="26" ry="12.5" fill="#fff" stroke="#e8141c" stroke-width="1.3"/>
<path d="M-2.5,-4.4 L-5.7,1.1 M-14.2,5.7 L-16.9,7.5 M-20.5,-2.2 L-18.3,1.4 M0.4,4.9 L6.0,7.5 M16.6,2.7 L20.5,4.6 M-20.5,-0.2 L-15.4,2.6 M-1.2,8.2 L2.5,12.3 M-16.6,-7.4 L-19.1,-2.7" stroke="#e8141c" stroke-width="0.9" fill="none"/>
</g>
<g transform="translate(1037.0 801.0) rotate(38)">
<ellipse rx="19" ry="9.5" fill="#fff" stroke="#e8141c" stroke-width="1.3"/>
<path d="M10.5,-4.1 L6.3,1.3 M-9.2,-4.9 L-5.1,-4.1 M-9.6,-5.4 L-12.9,-0.7 M2.9,2.9 L0.3,8.8" stroke="#e8141c" stroke-width="0.9" fill="none"/>
</g>
<path d="M869.0,419.0 C868.6,419.2 867.0,419.8 866.3,420.0 C865.7,420.2 866.1,419.9 865.1,420.1 C864.0,420.3 861.8,421.0 859.9,421.3 C858.0,421.6 855.6,421.8 853.5,421.9 C851.5,422.0 849.4,422.0 847.4,421.9 C845.5,421.8 843.5,421.5 841.7,421.3 C839.9,421.2 838.0,420.9 836.5,421.1 C835.0,421.2 833.9,421.6 832.9,422.3 C831.9,422.9 831.1,423.7 830.6,424.9 C830.0,426.1 829.6,428.0 829.6,429.7 C829.5,431.4 829.8,433.6 830.2,435.3 C830.5,437.0 831.0,438.5 831.7,439.9 C832.4,441.3 833.4,442.7 834.3,443.6 C835.2,444.5 836.1,445.0 837.3,445.3 C838.6,445.7 840.4,445.9 841.7,445.6 C843.1,445.3 844.1,444.7 845.4,443.6 C846.6,442.6 847.8,440.8 849.0,439.4 C850.2,437.9 851.2,436.4 852.3,435.0 C853.4,433.5 854.6,432.0 855.8,430.7 C856.9,429.4 858.1,428.3 859.4,427.2 C860.7,426.1 862.2,424.9 863.5,423.9 C864.8,422.8 866.2,421.9 867.1,421.0 C868.0,420.2 868.7,419.3 869.0,419.0Z" fill="url(#fg7)" stroke="#1a1ae0" stroke-width="1.1"/>
<path d="M858.5,423.9 C856.9,424.2 851.6,425.5 848.7,426.1 C845.8,426.7 843.3,427.2 841.0,427.4 C838.7,427.6 836.0,427.1 835.0,427.0" fill="none" stroke="#1a1ae0" stroke-width="0.8"/>
<path d="M848.1,427.5 C847.6,428.2 846.2,430.3 844.9,431.8 C843.7,433.2 841.7,434.4 840.7,436.0 C839.7,437.6 839.2,440.3 838.9,441.1" fill="none" stroke="#1a1ae0" stroke-width="0.8"/>
<path d="M842.1,429.6 L837.7,430.5 L833.0,429.0" fill="none" stroke="#111" stroke-width="0.8"/>
<path d="M1143.7,571.6 C1143.4,571.7 1142.5,572.1 1142.2,572.2 C1141.8,572.4 1142.0,572.2 1141.4,572.3 C1140.8,572.5 1139.6,572.9 1138.5,573.1 C1137.3,573.3 1136.0,573.5 1134.8,573.6 C1133.6,573.7 1132.4,573.8 1131.2,573.8 C1130.1,573.7 1128.9,573.6 1127.9,573.5 C1126.8,573.5 1125.7,573.4 1124.8,573.5 C1124.0,573.6 1123.3,573.9 1122.7,574.3 C1122.2,574.7 1121.8,575.1 1121.5,575.8 C1121.2,576.6 1121.0,577.7 1121.0,578.7 C1121.0,579.7 1121.2,580.9 1121.4,581.9 C1121.7,582.9 1122.0,583.8 1122.4,584.6 C1122.9,585.3 1123.5,586.2 1124.0,586.7 C1124.6,587.2 1125.1,587.4 1125.8,587.6 C1126.5,587.8 1127.6,587.9 1128.4,587.7 C1129.2,587.5 1129.8,587.1 1130.5,586.4 C1131.1,585.8 1131.8,584.7 1132.5,583.9 C1133.1,583.0 1133.7,582.1 1134.3,581.3 C1135.0,580.4 1135.6,579.5 1136.2,578.7 C1136.9,577.9 1137.6,577.3 1138.3,576.6 C1139.0,575.9 1139.9,575.2 1140.6,574.6 C1141.3,573.9 1142.1,573.3 1142.7,572.8 C1143.2,572.3 1143.5,571.8 1143.7,571.6Z" fill="url(#fg8)" stroke="#1a1ae0" stroke-width="1.0"/>
<path d="M1137.7,574.7 C1136.8,574.9 1133.7,575.7 1132.0,576.1 C1130.4,576.5 1128.9,576.9 1127.6,577.1 C1126.3,577.2 1124.7,577.0 1124.1,577.0" fill="none" stroke="#1a1ae0" stroke-width="0.8"/>
<path d="M1131.7,577.0 C1131.4,577.4 1130.7,578.7 1130.0,579.5 C1129.3,580.4 1128.1,581.2 1127.6,582.1 C1127.0,583.0 1126.8,584.6 1126.7,585.1" fill="none" stroke="#1a1ae0" stroke-width="0.8"/>
<path d="M1128.2,578.4 L1125.7,579.0 L1123.0,578.2" fill="none" stroke="#111" stroke-width="0.8"/>
<path d="M929.6,788.3 C929.3,788.4 928.4,788.7 928.0,788.8 C927.6,788.9 927.9,788.8 927.2,788.9 C926.6,789.0 925.2,789.3 924.1,789.5 C922.9,789.6 921.5,789.7 920.3,789.7 C919.0,789.7 917.8,789.7 916.6,789.6 C915.4,789.5 914.2,789.2 913.1,789.1 C912.0,789.0 910.9,788.8 910.0,788.8 C909.1,788.9 908.4,789.1 907.8,789.5 C907.2,789.9 906.7,790.3 906.4,791.0 C906.0,791.8 905.7,792.9 905.7,793.9 C905.6,794.9 905.7,796.2 905.9,797.3 C906.1,798.3 906.4,799.2 906.7,800.1 C907.1,800.9 907.7,801.8 908.2,802.4 C908.8,802.9 909.3,803.2 910.0,803.5 C910.7,803.7 911.8,803.9 912.6,803.7 C913.5,803.6 914.1,803.2 914.9,802.6 C915.6,802.0 916.4,801.0 917.2,800.1 C917.9,799.3 918.5,798.4 919.2,797.5 C919.9,796.7 920.7,795.8 921.4,795.1 C922.1,794.3 922.9,793.7 923.7,793.0 C924.5,792.4 925.4,791.7 926.2,791.1 C927.0,790.5 927.9,790.0 928.4,789.5 C929.0,789.0 929.4,788.5 929.6,788.3Z" fill="url(#fg9)" stroke="#1a1ae0" stroke-width="1.0"/>
<path d="M923.2,791.0 C922.2,791.2 919.0,791.8 917.2,792.1 C915.5,792.4 914.0,792.7 912.6,792.8 C911.2,792.8 909.6,792.5 909.0,792.4" fill="none" stroke="#1a1ae0" stroke-width="0.8"/>
<path d="M916.9,792.9 C916.5,793.4 915.6,794.6 914.9,795.5 C914.1,796.3 912.9,797.0 912.2,797.9 C911.6,798.8 911.3,800.4 911.1,801.0" fill="none" stroke="#1a1ae0" stroke-width="0.8"/>
<path d="M913.2,794.1 L910.5,794.6 L907.8,793.6" fill="none" stroke="#111" stroke-width="0.8"/>
<path d="M1163,473 C1200,470 1230,470 1260,490 C1300,518 1330,530 1352,516 C1368,500 1362,460 1372,430" fill="none" stroke="#111" stroke-width="1.1"/>
<ellipse cx="1124" cy="474.5" rx="40" ry="23.5" transform="rotate(-14 1124 474.5)" fill="#99ffff" stroke="#111" stroke-width="1.2"/>
<path d="M1482,604 C1500,570 1560,580 1610,560 C1650,540 1650,470 1682,469" fill="none" stroke="#111" stroke-width="1.1"/>
<path d="M1443,622 C1446,608 1466,602 1484,604 C1494,606 1496,616 1504,622 L1506,632 L1492,628 L1480,632 L1468,628 C1456,632 1442,632 1443,622Z" fill="#99ffff" stroke="#111" stroke-width="1.2"/>
<polygon points="1401.6,236.7 1403.6,234.2 1413.7,223.5 1416.4,221.8 1427.0,217.2 1440.2,218.2 1448.4,222.6 1471.4,230.2 1479.6,241.3 1477.3,244.3 1471.8,245.5 1456.2,246.6 1438.3,247.0 1418.8,246.2 1406.5,241.3" fill="#b3b3b3" stroke="#b22222" stroke-width="1.2" stroke-linejoin="round"/>
<path d="M1419.2,225.0 Q1419.5,236.0 1406.5,239.4 M1420.5,236.6 L1426.6,243.4 M1427.9,231.4 L1441.8,242.1 M1435.3,225.4 Q1444.5,233.7 1453.3,239.8 M1445.3,223.1 Q1457.8,232.2 1471.8,237.5" fill="none" stroke="#b22222" stroke-width="1.02"/>
<polygon points="1352.6,249.9 1354.6,247.1 1364.7,235.7 1367.4,233.9 1378.0,229.0 1391.2,230.1 1399.4,234.8 1422.4,242.9 1430.6,254.7 1428.3,258.0 1422.8,259.2 1407.2,260.4 1389.3,260.8 1369.8,259.9 1357.5,254.7" fill="#b3b3b3" stroke="#b22222" stroke-width="1.2" stroke-linejoin="round"/>
<path d="M1370.2,237.3 Q1370.5,249.1 1357.5,252.7 M1371.5,249.7 L1377.6,256.9 M1378.9,244.2 L1392.8,255.5 M1386.3,237.7 Q1395.5,246.6 1404.3,253.1 M1396.3,235.3 Q1408.8,245.0 1422.8,250.7" fill="none" stroke="#b22222" stroke-width="1.02"/>
<polygon points="1430.0,263.1 1432.1,260.6 1442.2,250.2 1445.0,248.6 1455.8,244.2 1469.1,245.2 1477.4,249.4 1500.7,256.8 1509.0,267.5 1506.6,270.4 1501.1,271.5 1485.3,272.6 1467.1,273.0 1447.4,272.2 1435.0,267.5" fill="#b3b3b3" stroke="#b22222" stroke-width="1.2" stroke-linejoin="round"/>
<path d="M1447.9,251.7 Q1448.2,262.4 1435.0,265.7 M1449.1,262.9 L1455.3,269.5 M1456.6,257.9 L1470.8,268.2 M1464.1,252.1 Q1473.5,260.2 1482.4,266.0 M1474.2,249.9 Q1486.9,258.7 1501.1,263.8" fill="none" stroke="#b22222" stroke-width="1.02"/>
<polygon points="1320.5,265.4 1322.5,262.9 1332.6,252.2 1335.3,250.5 1345.9,245.9 1359.1,246.9 1367.3,251.3 1390.3,258.9 1398.5,270.0 1396.2,273.0 1390.7,274.2 1375.1,275.3 1357.2,275.7 1337.7,274.9 1325.4,270.0" fill="#b3b3b3" stroke="#b22222" stroke-width="1.2" stroke-linejoin="round"/>
<path d="M1338.1,253.7 Q1338.4,264.7 1325.4,268.1 M1339.4,265.3 L1345.5,272.1 M1346.8,260.1 L1360.7,270.8 M1354.2,254.1 Q1363.4,262.4 1372.2,268.5 M1364.2,251.8 Q1376.7,260.9 1390.7,266.2" fill="none" stroke="#b22222" stroke-width="1.02"/>
<polygon points="1391.4,287.1 1393.5,284.3 1404.0,272.9 1406.8,271.1 1417.8,266.2 1431.5,267.3 1440.0,272.0 1463.9,280.1 1472.4,291.9 1470.0,295.2 1464.3,296.4 1448.1,297.6 1429.5,298.0 1409.2,297.1 1396.5,291.9" fill="#b3b3b3" stroke="#b22222" stroke-width="1.2" stroke-linejoin="round"/>
<path d="M1409.7,274.5 Q1410.0,286.3 1396.5,289.9 M1411.0,286.9 L1417.3,294.1 M1418.7,281.4 L1433.2,292.7 M1426.4,274.9 Q1436.0,283.8 1445.1,290.3 M1436.8,272.5 Q1449.7,282.2 1464.3,287.9" fill="none" stroke="#b22222" stroke-width="1.02"/>
<polygon points="1496.0,286.7 1498.8,282.7 1512.7,265.9 1516.5,263.3 1531.2,256.2 1549.5,257.7 1560.8,264.6 1592.7,276.5 1604.0,293.9 1600.8,298.6 1593.2,300.4 1571.6,302.2 1546.8,302.8 1519.8,301.5 1502.8,293.9" fill="#b3b3b3" stroke="#b22222" stroke-width="1.2" stroke-linejoin="round"/>
<path d="M1520.4,268.3 Q1520.8,285.5 1502.8,290.9 M1522.1,286.5 L1530.6,297.1 M1532.4,278.4 L1551.7,295.1 M1542.7,268.9 Q1555.4,282.0 1567.6,291.5 M1556.5,265.3 Q1573.8,279.6 1593.2,287.9" fill="none" stroke="#b22222" stroke-width="1.02"/>
<polygon points="1428.6,317.5 1430.7,314.7 1441.0,303.3 1443.8,301.5 1454.7,296.6 1468.2,297.7 1476.6,302.4 1500.2,310.5 1508.6,322.3 1506.2,325.6 1500.6,326.8 1484.6,328.0 1466.2,328.4 1446.2,327.5 1433.6,322.3" fill="#b3b3b3" stroke="#b22222" stroke-width="1.2" stroke-linejoin="round"/>
<path d="M1446.7,304.9 Q1447.0,316.7 1433.6,320.3 M1448.0,317.3 L1454.2,324.5 M1455.6,311.8 L1469.9,323.1 M1463.2,305.3 Q1472.6,314.2 1481.6,320.7 M1473.4,302.9 Q1486.2,312.6 1500.6,318.3" fill="none" stroke="#b22222" stroke-width="1.02"/>
<polygon points="1452.0,319.7 1454.5,316.9 1466.7,305.1 1470.0,303.3 1483.0,298.3 1499.0,299.3 1509.0,304.2 1537.0,312.5 1547.0,324.7 1544.2,328.1 1537.5,329.3 1518.5,330.6 1496.7,331.0 1472.9,330.1 1458.0,324.7" fill="#b3b3b3" stroke="#b22222" stroke-width="1.2" stroke-linejoin="round"/>
<path d="M1473.5,306.8 Q1473.8,318.9 1458.0,322.6 M1475.0,319.6 L1482.4,327.0 M1484.0,313.9 L1501.0,325.6 M1493.0,307.2 Q1504.2,316.4 1515.0,323.1 M1505.2,304.7 Q1520.4,314.7 1537.5,320.6" fill="none" stroke="#b22222" stroke-width="1.02"/>
<polygon points="1521.4,323.9 1524.6,319.9 1540.5,303.1 1544.8,300.5 1561.5,293.4 1582.3,294.9 1595.2,301.8 1631.5,313.7 1644.4,331.1 1640.7,335.8 1632.1,337.6 1607.5,339.4 1579.2,340.0 1548.5,338.7 1529.1,331.1" fill="#b3b3b3" stroke="#b22222" stroke-width="1.2" stroke-linejoin="round"/>
<path d="M1549.2,305.5 Q1549.7,322.7 1529.1,328.1 M1551.2,323.7 L1560.8,334.3 M1562.9,315.6 L1584.9,332.3 M1574.5,306.1 Q1589.1,319.2 1602.9,328.7 M1590.3,302.5 Q1610.0,316.8 1632.1,325.1" fill="none" stroke="#b22222" stroke-width="1.02"/>
<polygon points="1577.0,353.2 1579.1,350.7 1589.2,340.0 1592.0,338.3 1602.8,333.7 1616.1,334.7 1624.4,339.1 1647.7,346.7 1656.0,357.8 1653.6,360.8 1648.1,362.0 1632.3,363.1 1614.1,363.5 1594.4,362.7 1582.0,357.8" fill="#b3b3b3" stroke="#b22222" stroke-width="1.2" stroke-linejoin="round"/>
<path d="M1594.9,341.5 Q1595.2,352.5 1582.0,355.9 M1596.1,353.1 L1602.3,359.9 M1603.6,347.9 L1617.8,358.6 M1611.1,341.9 Q1620.5,350.2 1629.4,356.3 M1621.2,339.6 Q1633.9,348.7 1648.1,354.0" fill="none" stroke="#b22222" stroke-width="1.02"/>
<polygon points="1491.0,352.9 1493.1,350.1 1503.6,338.7 1506.4,336.9 1517.4,332.0 1531.1,333.1 1539.6,337.8 1563.5,345.9 1572.0,357.7 1569.6,361.0 1563.9,362.2 1547.7,363.4 1529.1,363.8 1508.8,362.9 1496.1,357.7" fill="#b3b3b3" stroke="#b22222" stroke-width="1.2" stroke-linejoin="round"/>
<path d="M1509.3,340.3 Q1509.6,352.1 1496.1,355.7 M1510.6,352.7 L1516.9,359.9 M1518.3,347.2 L1532.8,358.5 M1526.0,340.7 Q1535.5,349.6 1544.7,356.1 M1536.4,338.3 Q1549.3,348.0 1563.9,353.7" fill="none" stroke="#b22222" stroke-width="1.02"/>
<polygon points="1530.0,384.4 1532.2,381.5 1543.0,369.3 1546.0,367.4 1557.4,362.3 1571.6,363.4 1580.4,368.4 1605.2,377.0 1614.0,389.5 1611.5,393.0 1605.6,394.3 1588.8,395.6 1569.5,396.0 1548.5,395.1 1535.3,389.5" fill="#b3b3b3" stroke="#b22222" stroke-width="1.2" stroke-linejoin="round"/>
<path d="M1549.0,371.0 Q1549.3,383.5 1535.3,387.4 M1550.3,384.2 L1556.9,391.9 M1558.3,378.4 L1573.3,390.4 M1566.3,371.5 Q1576.2,380.9 1585.7,387.8 M1577.0,368.9 Q1590.5,379.2 1605.6,385.2" fill="none" stroke="#b22222" stroke-width="1.02"/>
<polygon points="1540.0,385.1 1542.2,382.3 1553.0,370.9 1556.0,369.1 1567.4,364.2 1581.6,365.3 1590.4,370.0 1615.2,378.1 1624.0,389.9 1621.5,393.2 1615.6,394.4 1598.8,395.6 1579.5,396.0 1558.5,395.1 1545.3,389.9" fill="#b3b3b3" stroke="#b22222" stroke-width="1.2" stroke-linejoin="round"/>
<path d="M1559.0,372.5 Q1559.3,384.3 1545.3,387.9 M1560.3,384.9 L1566.9,392.1 M1568.3,379.4 L1583.3,390.7 M1576.3,372.9 Q1586.2,381.8 1595.7,388.3 M1587.0,370.5 Q1600.5,380.2 1615.6,385.9" fill="none" stroke="#b22222" stroke-width="1.02"/>
<polygon points="1609.0,389.7 1612.2,385.7 1628.1,368.9 1632.4,366.3 1649.1,359.2 1669.9,360.7 1682.8,367.6 1719.1,379.5 1732.0,396.9 1728.3,401.6 1719.7,403.4 1695.1,405.2 1666.8,405.8 1636.1,404.5 1616.7,396.9" fill="#b3b3b3" stroke="#b22222" stroke-width="1.2" stroke-linejoin="round"/>
<path d="M1636.8,371.3 Q1637.3,388.5 1616.7,393.9 M1638.8,389.5 L1648.4,400.1 M1650.5,381.4 L1672.5,398.1 M1662.1,371.9 Q1676.7,385.0 1690.5,394.5 M1677.9,368.3 Q1697.6,382.6 1719.7,390.9" fill="none" stroke="#b22222" stroke-width="1.02"/>
<polygon points="1580.5,420.1 1582.6,417.3 1593.1,405.9 1595.9,404.1 1606.9,399.2 1620.6,400.3 1629.1,405.0 1653.0,413.1 1661.5,424.9 1659.1,428.2 1653.4,429.4 1637.2,430.6 1618.6,431.0 1598.3,430.1 1585.6,424.9" fill="#b3b3b3" stroke="#b22222" stroke-width="1.2" stroke-linejoin="round"/>
<path d="M1598.8,407.5 Q1599.1,419.3 1585.6,422.9 M1600.1,419.9 L1606.4,427.1 M1607.8,414.4 L1622.3,425.7 M1615.5,407.9 Q1625.0,416.8 1634.2,423.3 M1625.9,405.5 Q1638.8,415.2 1653.4,420.9" fill="none" stroke="#b22222" stroke-width="1.02"/>
<polygon points="1592.0,434.1 1594.1,431.3 1604.6,419.9 1607.4,418.1 1618.4,413.2 1632.1,414.3 1640.6,419.0 1664.5,427.1 1673.0,438.9 1670.6,442.2 1664.9,443.4 1648.7,444.6 1630.1,445.0 1609.8,444.1 1597.1,438.9" fill="#b3b3b3" stroke="#b22222" stroke-width="1.2" stroke-linejoin="round"/>
<path d="M1610.3,421.5 Q1610.6,433.3 1597.1,436.9 M1611.6,433.9 L1617.9,441.1 M1619.3,428.4 L1633.8,439.7 M1627.0,421.9 Q1636.5,430.8 1645.7,437.3 M1637.4,419.5 Q1650.3,429.2 1664.9,434.9" fill="none" stroke="#b22222" stroke-width="1.02"/>
<polygon points="1660.0,440.4 1663.2,436.3 1679.1,419.1 1683.4,416.5 1700.1,409.2 1720.9,410.7 1733.8,417.8 1770.1,429.9 1783.0,447.7 1779.3,452.5 1770.7,454.4 1746.1,456.2 1717.8,456.8 1687.1,455.5 1667.7,447.7" fill="#b3b3b3" stroke="#b22222" stroke-width="1.2" stroke-linejoin="round"/>
<path d="M1687.8,421.6 Q1688.3,439.2 1667.7,444.6 M1689.8,440.2 L1699.4,451.0 M1701.5,431.9 L1723.5,448.9 M1713.1,422.2 Q1727.7,435.5 1741.5,445.3 M1728.9,418.5 Q1748.6,433.1 1770.7,441.6" fill="none" stroke="#b22222" stroke-width="1.02"/>
<polygon points="1617.6,458.6 1619.7,456.4 1630.2,447.1 1633.0,445.6 1644.0,441.7 1657.7,442.6 1666.2,446.4 1690.1,453.0 1698.6,462.6 1696.2,465.2 1690.5,466.2 1674.3,467.2 1655.7,467.5 1635.4,466.8 1622.7,462.6" fill="#b3b3b3" stroke="#b22222" stroke-width="1.2" stroke-linejoin="round"/>
<path d="M1635.9,448.4 Q1636.2,458.0 1622.7,460.9 M1637.2,458.5 L1643.5,464.3 M1644.9,454.0 L1659.4,463.2 M1652.6,448.7 Q1662.1,456.0 1671.3,461.2 M1663.0,446.8 Q1675.9,454.7 1690.5,459.3" fill="none" stroke="#b22222" stroke-width="1.02"/>
<polygon points="1668.0,492.9 1671.2,488.6 1687.1,470.8 1691.4,468.0 1708.1,460.4 1728.9,462.0 1741.8,469.4 1778.1,482.0 1791.0,500.5 1787.3,505.6 1778.7,507.5 1754.1,509.4 1725.8,510.0 1695.1,508.6 1675.7,500.5" fill="#b3b3b3" stroke="#b22222" stroke-width="1.2" stroke-linejoin="round"/>
<path d="M1695.8,473.3 Q1696.3,491.6 1675.7,497.3 M1697.8,492.7 L1707.4,503.9 M1709.5,484.1 L1731.5,501.8 M1721.1,473.9 Q1735.7,487.8 1749.5,498.0 M1736.9,470.1 Q1756.6,485.3 1778.7,494.2" fill="none" stroke="#b22222" stroke-width="1.02"/>
<g transform="translate(1475.0 277.0) rotate(40)">
<ellipse rx="33" ry="15" fill="#fff" stroke="#e8141c" stroke-width="1.3"/>
<path d="M-5.9,5.7 L-11.9,7.3 M-21.3,5.0 L-25.8,7.0 M-16.0,-2.2 L-19.4,-1.3 M-0.2,4.7 L6.5,6.3 M-6.6,-8.1 L-3.2,-2.7 M-7.2,-6.8 L-6.2,-1.7 M-5.5,-5.8 L-0.1,-5.4 M8.9,-11.3 L8.5,-4.4 M-18.4,3.6 L-14.0,5.7 M17.9,2.3 L17.7,9.1 M-5.4,-6.9 L-2.7,-3.9 M21.9,-2.7 L27.2,-2.2 M-12.4,-0.6 L-15.9,0.7 M12.6,1.8 L7.3,5.6 M19.1,3.7 L13.1,4.5" stroke="#e8141c" stroke-width="0.9" fill="none"/>
</g>
<g transform="translate(1665.0 411.0) rotate(38)">
<ellipse rx="26" ry="12.5" fill="#fff" stroke="#e8141c" stroke-width="1.3"/>
<path d="M15.4,-2.7 L17.5,0.8 M-6.9,-8.3 L-7.4,-4.7 M0.7,9.4 L6.1,10.7 M13.3,-10.9 L10.2,-5.6 M11.9,-1.9 L18.7,-1.0 M18.6,-3.4 L21.7,-1.4 M12.6,-9.7 L8.8,-8.1 M18.9,-6.9 L14.4,-6.4 M-1.8,8.0 L0.2,13.1 M-12.5,-4.9 L-15.4,-4.0" stroke="#e8141c" stroke-width="0.9" fill="none"/>
</g>
<path d="M1400.0,270.4 C1398.9,271.0 1394.9,273.5 1393.2,274.2 C1391.5,275.0 1392.6,274.0 1389.8,275.0 C1387.0,276.1 1381.4,278.9 1376.3,280.6 C1371.3,282.2 1364.9,283.8 1359.4,285.0 C1353.8,286.2 1348.2,287.1 1342.8,287.7 C1337.4,288.3 1332.0,288.2 1327.0,288.6 C1322.0,289.0 1316.7,289.0 1312.8,290.1 C1308.9,291.2 1305.9,292.8 1303.4,295.0 C1301.0,297.1 1299.3,299.5 1298.3,303.1 C1297.4,306.7 1297.1,311.9 1297.7,316.6 C1298.3,321.3 1300.1,327.0 1301.8,331.5 C1303.5,335.9 1305.4,339.8 1307.9,343.3 C1310.4,346.8 1313.7,350.2 1316.6,352.2 C1319.6,354.3 1322.0,355.2 1325.5,355.6 C1329.0,355.9 1334.1,355.8 1337.6,354.4 C1341.1,353.1 1343.7,350.8 1346.6,347.5 C1349.4,344.1 1352.1,338.7 1354.6,334.3 C1357.1,329.9 1359.3,325.4 1361.7,321.0 C1364.1,316.6 1366.5,311.9 1369.2,307.9 C1371.8,303.9 1374.6,300.5 1377.6,296.8 C1380.6,293.2 1384.2,289.3 1387.3,286.0 C1390.3,282.7 1393.7,279.4 1395.8,276.7 C1397.9,274.1 1399.3,271.5 1400.0,270.4Z" fill="url(#fg10)" stroke="#1a1ae0" stroke-width="1.3"/>
<path d="M1373.7,288.1 C1369.4,289.8 1355.7,295.5 1348.0,298.4 C1340.4,301.3 1333.9,303.9 1327.8,305.4 C1321.7,306.8 1314.0,306.6 1311.2,306.9" fill="none" stroke="#1a1ae0" stroke-width="1.1"/>
<path d="M1347.1,302.4 C1345.9,304.6 1343.0,311.1 1340.3,315.5 C1337.5,319.9 1332.6,324.2 1330.6,328.8 C1328.6,333.5 1328.5,341.0 1328.1,343.4" fill="none" stroke="#1a1ae0" stroke-width="1.1"/>
<path d="M1331.5,310.9 L1320.0,315.3 L1306.7,313.2" fill="none" stroke="#111" stroke-width="1.1"/>
<path d="M1496.0,339.3 C1494.2,340.2 1487.9,343.8 1485.2,344.9 C1482.5,346.0 1484.2,344.5 1479.8,346.0 C1475.3,347.5 1466.5,351.5 1458.5,353.9 C1450.5,356.2 1440.6,358.4 1431.8,359.9 C1423.0,361.5 1414.3,362.6 1405.8,363.2 C1397.4,363.9 1388.8,363.3 1381.0,363.7 C1373.2,364.0 1365.0,363.8 1358.8,365.3 C1352.7,366.7 1347.9,369.1 1344.0,372.4 C1340.1,375.6 1337.3,379.2 1335.6,384.8 C1333.9,390.3 1333.2,398.4 1333.8,405.8 C1334.4,413.2 1337.0,422.2 1339.4,429.3 C1341.8,436.3 1344.6,442.5 1348.3,448.0 C1352.0,453.6 1356.9,459.1 1361.4,462.5 C1365.9,465.8 1369.7,467.4 1375.1,468.1 C1380.5,468.9 1388.5,468.9 1394.0,467.0 C1399.6,465.1 1403.8,461.7 1408.4,456.7 C1413.0,451.6 1417.5,443.3 1421.7,436.5 C1425.9,429.8 1429.4,422.9 1433.5,416.1 C1437.5,409.4 1441.5,402.3 1445.8,396.1 C1450.2,390.0 1454.7,384.8 1459.6,379.3 C1464.5,373.8 1470.4,368.0 1475.3,363.0 C1480.2,357.9 1485.7,352.9 1489.1,349.0 C1492.6,345.0 1494.9,340.9 1496.0,339.3Z" fill="url(#fg11)" stroke="#1a1ae0" stroke-width="1.3"/>
<path d="M1454.0,365.5 C1447.2,368.0 1425.4,376.1 1413.3,380.1 C1401.2,384.2 1391.0,388.0 1381.4,389.9 C1371.7,391.8 1359.8,391.1 1355.5,391.4" fill="none" stroke="#1a1ae0" stroke-width="1.1"/>
<path d="M1411.6,386.4 C1409.7,389.7 1404.9,399.7 1400.3,406.4 C1395.8,413.1 1387.9,419.6 1384.5,426.7 C1381.0,433.9 1380.6,445.6 1379.8,449.3" fill="none" stroke="#1a1ae0" stroke-width="1.1"/>
<path d="M1386.9,398.8 L1368.7,405.0 L1348.1,401.0" fill="none" stroke="#111" stroke-width="1.1"/>
<path d="M1617.7,445.6 C1616.1,446.5 1610.7,449.7 1608.3,450.7 C1606.0,451.7 1607.5,450.4 1603.6,451.7 C1599.8,453.1 1592.2,456.8 1585.2,459.0 C1578.3,461.2 1569.6,463.3 1561.9,464.8 C1554.3,466.3 1546.7,467.5 1539.3,468.2 C1531.9,468.9 1524.5,468.6 1517.7,469.0 C1510.8,469.4 1503.7,469.4 1498.3,470.8 C1492.9,472.2 1488.8,474.4 1485.4,477.3 C1482.1,480.2 1479.7,483.4 1478.3,488.3 C1476.9,493.2 1476.5,500.2 1477.2,506.7 C1477.9,513.1 1480.2,521.0 1482.5,527.1 C1484.7,533.2 1487.3,538.6 1490.6,543.3 C1493.9,548.1 1498.4,552.9 1502.3,555.7 C1506.3,558.5 1509.6,559.9 1514.4,560.4 C1519.2,561.0 1526.1,560.8 1530.9,559.1 C1535.7,557.3 1539.4,554.3 1543.3,549.8 C1547.2,545.2 1551.0,537.9 1554.5,531.9 C1558.1,526.0 1561.1,519.9 1564.4,513.9 C1567.8,508.0 1571.2,501.6 1574.9,496.2 C1578.6,490.8 1582.4,486.1 1586.6,481.2 C1590.8,476.3 1595.8,471.2 1600.0,466.7 C1604.3,462.1 1608.9,457.7 1611.9,454.2 C1614.8,450.7 1616.7,447.0 1617.7,445.6Z" fill="url(#fg12)" stroke="#1a1ae0" stroke-width="1.3"/>
<path d="M1581.5,469.3 C1575.6,471.6 1556.7,479.0 1546.2,482.8 C1535.7,486.6 1526.9,490.1 1518.5,491.9 C1510.1,493.8 1499.6,493.4 1495.9,493.7" fill="none" stroke="#1a1ae0" stroke-width="1.1"/>
<path d="M1544.8,488.3 C1543.2,491.2 1539.2,500.0 1535.3,506.0 C1531.5,512.0 1524.7,517.7 1521.8,524.0 C1519.0,530.3 1518.8,540.6 1518.1,543.9" fill="none" stroke="#1a1ae0" stroke-width="1.1"/>
<path d="M1523.5,499.6 L1507.7,505.3 L1489.6,502.2" fill="none" stroke="#111" stroke-width="1.1"/>
<path d="M1400,764 C1404,770 1404,776 1412,780 C1428,786 1434,808 1432,818 C1428,824 1412,822 1400,816 C1384,808 1374,792 1380,784 C1388,778 1396,776 1400,764Z" fill="#fff" stroke="#e8141c" stroke-width="1.3"/>
<path d="M1414.4,804.6 L1407.4,809.8 M1412.4,813.1 L1418.7,813.6 M1425.9,803.4 L1421.6,804.8 M1405.2,787.0 L1404.3,793.8 M1383.8,786.1 L1389.3,792.7 M1418.5,786.0 L1414.7,788.8 M1406.5,786.3 L1414.9,786.3 M1398.6,789.1 L1390.2,789.6 M1398.0,811.0 L1397.1,818.4 M1396.7,810.3 L1391.7,817.6 M1420.7,790.0 L1422.8,794.3 M1389.8,781.4 L1393.9,787.1 M1384.8,802.6 L1387.5,807.5 M1417.0,795.7 L1420.5,801.0 M1416.2,783.8 L1412.1,784.1 M1412.0,810.5 L1420.0,811.0 M1398.5,801.6 L1402.8,801.7 M1390.1,812.2 L1396.4,816.7 M1421.8,811.5 L1424.5,816.6 M1403.3,807.1 L1410.6,809.7 M1413.6,810.7 L1422.2,811.7 M1391.1,789.5 L1388.2,797.6" stroke="#e8141c" stroke-width="0.9" fill="none"/>
<path d="M1454,748 L1455,800 L1458,870 L1461,917 M1378,818 L1410,858 L1445,900 L1461,917 L1479,976" fill="none" stroke="#111" stroke-width="2.1" stroke-dasharray="15 9"/>
<path d="M1442,830 L1444,770 L1438,786" fill="none" stroke="#111" stroke-width="2.2"/>
<path d="M1418,851 L1378,812 L1394,819 M1376,817 L1404,846" fill="none" stroke="#111" stroke-width="2.2"/>
<path d="M1453,906 L1460,919 L1459,905" fill="none" stroke="#111" stroke-width="1.8"/>
<circle cx="1472.5" cy="995" r="8.4" fill="none" stroke="#111" stroke-width="1.5"/><circle cx="1472.5" cy="995" r="3.2" fill="#111"/>
<circle cx="1498" cy="982.5" r="8.2" fill="none" stroke="#111" stroke-width="1.5"/><path d="M1492.4,976.9 L1503.6,988.1 M1503.6,976.9 L1492.4,988.1" stroke="#111" stroke-width="1.4"/>
<path d="M1482,984 L1488,1002" stroke="#111" stroke-width="1.4"/>
<path d="M724,1456.5 C770,1446 840,1400 860,1336 C870,1300 878,1270 880,1239" fill="none" stroke="#111" stroke-width="2.4"/>
<path d="M824.7,1349 L850.6,1287.7 L842,1322" fill="none" stroke="#111" stroke-width="2"/>
<path d="M1799,635 C1830,655 1860,665 1893,666" fill="none" stroke="#111" stroke-width="2"/>
<path d="M1870,660 L1818,637 L1836,637" fill="none" stroke="#111" stroke-width="1.8"/>
<path d="M1776,668 C1810,690 1850,708 1888,727" fill="none" stroke="#111" stroke-width="2.6"/>
<path d="M1870,709 L1818,684 L1848,690" fill="none" stroke="#111" stroke-width="1.8"/>
<polyline points="782.0,1152.0 778.0,1158.0 786.0,1166.0 800.0,1167.0" fill="none" stroke="#111" stroke-width="1.9" stroke-linejoin="miter"/>
<polyline points="812.0,1168.0 812.0,1174.0 822.0,1182.0 834.0,1180.0" fill="none" stroke="#111" stroke-width="1.9" stroke-linejoin="miter"/>
<polyline points="848.0,1170.0 846.0,1182.0 850.0,1190.0" fill="none" stroke="#111" stroke-width="1.9" stroke-linejoin="miter"/>
<polyline points="846.0,1188.0 848.0,1196.0 856.0,1204.0 864.0,1210.0 876.0,1209.0" fill="none" stroke="#111" stroke-width="1.9" stroke-linejoin="miter"/>
<polyline points="1727.0,557.0 1738.0,558.0 1752.0,584.0 1766.0,593.0 1760.0,606.0" fill="none" stroke="#111" stroke-width="1.9" stroke-linejoin="miter"/>
<polyline points="1766.0,611.0 1778.0,614.0 1790.0,636.0 1794.0,640.0 1790.0,646.0" fill="none" stroke="#111" stroke-width="1.9" stroke-linejoin="miter"/>
<text transform="translate(400.0 499.0) rotate(-29.80)" font-size="58" font-weight="normal" font-style="normal" fill="#000" text-anchor="start" textLength="570" lengthAdjust="spacingAndGlyphs" >Late Cretaceous-Eocene</text>
<text transform="translate(390.0 623.0) rotate(-30.30)" font-size="40" font-weight="bold" font-style="italic" fill="#000" text-anchor="start" textLength="258" lengthAdjust="spacingAndGlyphs" >Hoh Xil Basin</text>
<text transform="translate(934.0 312.0) rotate(-31.30)" font-size="40" font-weight="bold" font-style="italic" fill="#000" text-anchor="start" textLength="270" lengthAdjust="spacingAndGlyphs" >Qaidam Basin</text>
<text transform="translate(1484.0 199.0) rotate(34.50)" font-size="46" font-weight="bold" font-style="italic" fill="#0000ff" text-anchor="start" textLength="272" lengthAdjust="spacingAndGlyphs" >Qilian Range</text>
<text transform="translate(927.0 721.0) rotate(19.40)" font-size="36" font-weight="bold" font-style="normal" fill="#595959" text-anchor="start" textLength="270" lengthAdjust="spacingAndGlyphs" >Fenghuo Range</text>
<text transform="translate(744.0 867.0) rotate(19.40)" font-size="36" font-weight="bold" font-style="normal" fill="#595959" text-anchor="start" textLength="267" lengthAdjust="spacingAndGlyphs" >Tuotuohe Basin</text>
<text transform="translate(1201.0 861.0) rotate(-31.50)" font-size="42" font-weight="bold" font-style="italic" fill="#000" text-anchor="start" textLength="390" lengthAdjust="spacingAndGlyphs" >Paleo-Qaidam Basin</text>
<text transform="translate(65.0 794.0) rotate(38.20)" font-size="46" font-weight="bold" font-style="italic" fill="#000" text-anchor="start" textLength="104" lengthAdjust="spacingAndGlyphs" >West</text>
<text transform="translate(571.0 1198.0) rotate(38.20)" font-size="46" font-weight="bold" font-style="italic" fill="#000" text-anchor="start" textLength="92" lengthAdjust="spacingAndGlyphs" >East</text>
<text transform="translate(213.0 915.0) rotate(38.20)" font-size="44" font-weight="bold" font-style="italic" fill="#0000ff" text-anchor="start" textLength="345" lengthAdjust="spacingAndGlyphs" >Tanggula Range</text>
<text transform="translate(711.0 1226.0) rotate(-32.00)" font-size="29" font-weight="normal" font-style="normal" fill="#000" text-anchor="start" textLength="96" lengthAdjust="spacingAndGlyphs" >Yaxicuo</text>
<text transform="translate(722.0 1268.0) rotate(-32.00)" font-size="29" font-weight="normal" font-style="normal" fill="#000" text-anchor="start" textLength="116" lengthAdjust="spacingAndGlyphs" >Tuotuohe</text>
<text transform="translate(722.0 1322.0) rotate(-32.00)" font-size="29" font-weight="normal" font-style="normal" fill="#000" text-anchor="start" textLength="160" lengthAdjust="spacingAndGlyphs" >Fenghuoshan</text>
<text transform="translate(1764.0 578.0) rotate(-32.00)" font-size="30" font-weight="normal" font-style="normal" fill="#000" text-anchor="start" textLength="138" lengthAdjust="spacingAndGlyphs" >Xiaganchai</text>
<text transform="translate(1800.0 598.0) rotate(-32.00)" font-size="30" font-weight="normal" font-style="normal" fill="#000" text-anchor="start" textLength="48" lengthAdjust="spacingAndGlyphs" >gou</text>
<text transform="translate(1802.0 640.0) rotate(-32.00)" font-size="30" font-weight="normal" font-style="normal" fill="#000" text-anchor="start" textLength="86" lengthAdjust="spacingAndGlyphs" >Lulehe</text>
<text transform="translate(1476.0 937.0) rotate(-31.00)" font-size="34" font-weight="normal" font-style="normal" fill="#000" text-anchor="start" textLength="203" lengthAdjust="spacingAndGlyphs" >Future Kunlun</text>
<text transform="translate(1556.0 931.0) rotate(-31.00)" font-size="34" font-weight="normal" font-style="normal" fill="#000" text-anchor="start" textLength="73" lengthAdjust="spacingAndGlyphs" >Fault</text>
</g>
<g id="legend">
<path d="M1474,1058 C1476,1042 1498,1036 1522,1044 C1558,1056 1590,1078 1590,1097 C1588,1114 1558,1120 1528,1116 C1494,1110 1472,1082 1474,1058Z" fill="#99ffff" stroke="#111" stroke-width="1.4"/>
<text transform="translate(1630.0 1099.0) rotate(0.00)" font-size="39" font-weight="normal" font-style="normal" fill="#000" text-anchor="start" textLength="92" lengthAdjust="spacingAndGlyphs" >lakes</text>
<path d="M1592.4,1164.3 C1591.3,1164.7 1587.6,1166.2 1586.0,1166.6 C1584.5,1167.0 1585.6,1166.3 1583.0,1166.8 C1580.5,1167.2 1575.3,1168.8 1570.8,1169.5 C1566.2,1170.2 1560.6,1170.6 1555.7,1170.8 C1550.8,1171.0 1545.9,1171.0 1541.2,1170.7 C1536.6,1170.4 1531.9,1169.5 1527.6,1169.1 C1523.3,1168.7 1518.9,1168.0 1515.4,1168.4 C1511.9,1168.7 1509.1,1169.6 1506.7,1171.1 C1504.3,1172.6 1502.5,1174.4 1501.2,1177.3 C1499.8,1180.2 1498.9,1184.6 1498.7,1188.7 C1498.5,1192.8 1499.2,1197.9 1500.0,1202.0 C1500.8,1206.0 1501.9,1209.6 1503.5,1212.9 C1505.1,1216.2 1507.4,1219.6 1509.6,1221.8 C1511.8,1223.9 1513.7,1225.1 1516.7,1225.9 C1519.6,1226.7 1523.9,1227.3 1527.1,1226.7 C1530.3,1226.0 1532.8,1224.5 1535.7,1222.1 C1538.7,1219.6 1541.7,1215.4 1544.5,1212.0 C1547.3,1208.7 1549.8,1205.1 1552.5,1201.7 C1555.2,1198.4 1557.9,1194.8 1560.7,1191.7 C1563.6,1188.7 1566.4,1186.2 1569.5,1183.5 C1572.6,1180.8 1576.2,1178.1 1579.3,1175.7 C1582.4,1173.3 1585.7,1171.0 1587.9,1169.1 C1590.1,1167.2 1591.7,1165.1 1592.4,1164.3Z" fill="url(#fg13)" stroke="#1a1ae0" stroke-width="1.3"/>
<path d="M1567.5,1175.6 C1563.6,1176.4 1551.0,1179.2 1544.1,1180.5 C1537.2,1181.9 1531.3,1183.2 1525.9,1183.5 C1520.5,1183.8 1514.0,1182.6 1511.6,1182.4" fill="none" stroke="#1a1ae0" stroke-width="1.1"/>
<path d="M1542.7,1183.8 C1541.4,1185.5 1538.0,1190.6 1535.1,1194.0 C1532.1,1197.3 1527.3,1200.2 1524.9,1203.9 C1522.4,1207.6 1521.3,1213.9 1520.6,1215.9" fill="none" stroke="#1a1ae0" stroke-width="1.1"/>
<path d="M1528.3,1188.8 L1517.8,1190.8 L1506.8,1187.1" fill="none" stroke="#111" stroke-width="1.1"/>
<text transform="translate(1612.0 1180.5) rotate(0.00)" font-size="39" font-weight="normal" font-style="normal" fill="#000" text-anchor="start" textLength="280" lengthAdjust="spacingAndGlyphs" >fluvial or alluvial</text>
<text transform="translate(1721.0 1224.5) rotate(0.00)" font-size="39" font-weight="normal" font-style="normal" fill="#000" text-anchor="start" textLength="74" lengthAdjust="spacingAndGlyphs" >fans</text>
<polygon points="1505.0,1304.1 1507.6,1301.9 1520.5,1292.6 1524.0,1291.1 1537.6,1287.2 1554.5,1288.1 1565.0,1291.9 1594.5,1298.5 1605.0,1308.1 1602.0,1310.7 1595.0,1311.7 1575.0,1312.7 1552.0,1313.0 1527.0,1312.3 1511.3,1308.1" fill="#b3b3b3" stroke="#b22222" stroke-width="1.0" stroke-linejoin="round"/>
<path d="M1527.6,1293.9 Q1528.0,1303.5 1511.3,1306.4 M1529.2,1304.0 L1537.0,1309.8 M1538.7,1299.5 L1556.6,1308.7 M1548.2,1294.2 Q1560.0,1301.5 1571.3,1306.7 M1561.0,1292.3 Q1577.0,1300.2 1595.0,1304.8" fill="none" stroke="#b22222" stroke-width="0.85"/>
<polygon points="1485.0,1310.5 1486.6,1309.2 1494.6,1303.4 1496.8,1302.6 1505.2,1300.1 1515.7,1300.6 1522.2,1303.0 1540.5,1307.0 1547.0,1313.0 1545.1,1314.6 1540.8,1315.2 1528.4,1315.8 1514.1,1316.0 1498.6,1315.6 1488.9,1313.0" fill="#b3b3b3" stroke="#b22222" stroke-width="1.0" stroke-linejoin="round"/>
<path d="M1499.0,1304.3 Q1499.3,1310.1 1488.9,1311.9 M1500.0,1310.5 L1504.8,1314.1 M1505.9,1307.7 L1517.0,1313.4 M1511.8,1304.5 Q1519.1,1308.9 1526.1,1312.2 M1519.7,1303.2 Q1529.6,1308.1 1540.8,1310.9" fill="none" stroke="#b22222" stroke-width="0.85"/>
<polygon points="1480.0,1341.5 1482.5,1339.6 1494.9,1331.7 1498.2,1330.5 1511.3,1327.2 1527.5,1327.9 1537.6,1331.1 1565.9,1336.7 1576.0,1344.8 1573.1,1347.1 1566.4,1347.9 1547.2,1348.7 1525.1,1349.0 1501.1,1348.4 1486.0,1344.8" fill="#b3b3b3" stroke="#b22222" stroke-width="1.0" stroke-linejoin="round"/>
<path d="M1501.7,1332.8 Q1502.1,1340.9 1486.0,1343.4 M1503.2,1341.4 L1510.7,1346.3 M1512.4,1337.6 L1529.5,1345.4 M1521.5,1333.1 Q1532.8,1339.3 1543.6,1343.7 M1533.8,1331.5 Q1549.1,1338.1 1566.4,1342.0" fill="none" stroke="#b22222" stroke-width="0.85"/>
<text transform="translate(1621.5 1339.5) rotate(0.00)" font-size="39" font-weight="normal" font-style="normal" fill="#000" text-anchor="start" textLength="249" lengthAdjust="spacingAndGlyphs" >ranges or hills</text>
<path d="M1456,1471 C1520,1470 1570,1455 1615,1404" fill="none" stroke="#111" stroke-width="1.9"/>
<path d="M1554,1450 L1600,1415 L1586,1420" fill="none" stroke="#111" stroke-width="1.9"/>
<text transform="translate(1630.0 1440.0) rotate(0.00)" font-size="39" font-weight="normal" font-style="normal" fill="#000" text-anchor="start" textLength="186" lengthAdjust="spacingAndGlyphs" >thrust fault</text>
<circle cx="1506.5" cy="1542" r="19.5" fill="#fff" stroke="#111" stroke-width="1.9"/><circle cx="1506.5" cy="1542" r="7.5" fill="#111"/>
<circle cx="1557" cy="1542" r="19.5" fill="#fff" stroke="#111" stroke-width="1.9"/><path d="M1543.5,1528.5 L1570.5,1555.5 M1570.5,1528.5 L1543.5,1555.5" stroke="#111" stroke-width="1.4"/>
<path d="M1538,1514 C1536,1540 1530,1562 1518,1576" fill="none" stroke="#111" stroke-width="1.4"/>
<text transform="translate(1630.0 1552.0) rotate(0.00)" font-size="39" font-weight="normal" font-style="normal" fill="#000" text-anchor="start" textLength="253" lengthAdjust="spacingAndGlyphs" >strike slip fault</text>
<g transform="translate(1531.0 1639.5) rotate(38)">
<ellipse rx="42" ry="21" fill="#fff" stroke="#e8141c" stroke-width="1.2"/>
<path d="M2.8,-7.2 L-3.5,-3.8 M-21.2,12.0 L-24.5,12.7 M-2.4,12.1 L-5.4,17.6 M37.3,0.5 L33.0,2.5 M19.6,-9.4 L21.6,-7.2 M-22.7,-5.4 L-23.6,-2.0 M-25.6,-4.5 L-28.9,-2.1 M-3.0,-7.9 L-9.4,-5.2 M-7.6,-12.7 L-12.8,-9.0 M27.3,2.7 L31.0,4.0 M10.4,-14.0 L4.6,-12.0 M-1.6,-9.1 L-0.0,-3.5 M3.1,6.7 L9.0,8.0 M-23.1,-12.7 L-27.9,-10.3 M-10.1,0.1 L-13.2,2.2 M13.5,-7.8 L19.9,-7.4 M4.0,5.4 L-1.0,7.5 M26.7,-2.5 L27.6,3.2 M15.4,7.6 L11.7,8.9 M-27.2,-9.6 L-30.2,-8.1 M-18.9,-11.1 L-24.2,-6.9 M15.4,-4.4 L10.8,-2.4 M-4.8,-18.8 L-0.8,-15.2 M-9.7,-16.8 L-4.9,-13.3 M7.5,-18.3 L6.1,-15.2 M-11.6,-12.3 L-10.6,-8.4 M19.6,-7.5 L20.5,-4.2" stroke="#e8141c" stroke-width="0.9" fill="none"/>
</g>
<text transform="translate(1630.0 1658.0) rotate(0.00)" font-size="39" font-weight="normal" font-style="normal" fill="#000" text-anchor="start" textLength="258" lengthAdjust="spacingAndGlyphs" >magmatic rock</text>
<rect x="81" y="1409" width="108.5" height="59" fill="#fff" stroke="#111" stroke-width="1.3"/>
<g fill="#111"><circle cx="85.7" cy="1415.2" r="1.7"/><circle cx="97.9" cy="1415.5" r="1.7"/><circle cx="110.8" cy="1412.8" r="1.7"/><circle cx="119.4" cy="1416.7" r="1.7"/><circle cx="132.2" cy="1413.7" r="1.7"/><circle cx="147.5" cy="1414.9" r="1.7"/><circle cx="158.3" cy="1414.9" r="1.7"/><circle cx="168.9" cy="1413.3" r="1.7"/><circle cx="180.5" cy="1416.8" r="1.7"/><circle cx="92.9" cy="1428.0" r="1.7"/><circle cx="105.3" cy="1424.6" r="1.7"/><circle cx="117.3" cy="1427.3" r="1.7"/><circle cx="126.6" cy="1424.5" r="1.7"/><circle cx="141.0" cy="1426.7" r="1.7"/><circle cx="151.9" cy="1428.7" r="1.7"/><circle cx="163.5" cy="1428.9" r="1.7"/><circle cx="173.5" cy="1428.3" r="1.7"/><circle cx="185.3" cy="1429.0" r="1.7"/><circle cx="88.9" cy="1436.6" r="1.7"/><circle cx="96.8" cy="1437.2" r="1.7"/><circle cx="112.5" cy="1438.3" r="1.7"/><circle cx="122.4" cy="1437.6" r="1.7"/><circle cx="133.4" cy="1438.0" r="1.7"/><circle cx="144.3" cy="1439.0" r="1.7"/><circle cx="157.0" cy="1440.6" r="1.7"/><circle cx="169.1" cy="1440.7" r="1.7"/><circle cx="181.6" cy="1441.1" r="1.7"/><circle cx="93.7" cy="1448.7" r="1.7"/><circle cx="106.2" cy="1452.7" r="1.7"/><circle cx="118.0" cy="1450.7" r="1.7"/><circle cx="128.7" cy="1449.0" r="1.7"/><circle cx="140.9" cy="1450.8" r="1.7"/><circle cx="149.7" cy="1448.2" r="1.7"/><circle cx="164.2" cy="1452.8" r="1.7"/><circle cx="171.9" cy="1451.9" r="1.7"/><circle cx="185.2" cy="1448.7" r="1.7"/><circle cx="86.0" cy="1463.5" r="1.7"/><circle cx="100.5" cy="1459.9" r="1.7"/><circle cx="110.8" cy="1459.9" r="1.7"/><circle cx="122.9" cy="1461.4" r="1.7"/><circle cx="135.3" cy="1464.6" r="1.7"/><circle cx="145.0" cy="1464.7" r="1.7"/><circle cx="155.6" cy="1460.1" r="1.7"/><circle cx="168.7" cy="1459.9" r="1.7"/><circle cx="178.3" cy="1461.7" r="1.7"/></g>
<text transform="translate(221.0 1450.0) rotate(0.00)" font-size="39" font-weight="normal" font-style="normal" fill="#000" text-anchor="start" textLength="181.5" lengthAdjust="spacingAndGlyphs" >sandstone</text>
<rect x="81" y="1552.5" width="108.5" height="59" fill="#fff" stroke="#111" stroke-width="1.3"/>
<path d="M81,1562.5 H189.5 M81,1577 H189.5 M81,1592 H189.5 M81,1603.5 H189.5 M101,1552.5 V1562.5 M142,1552.5 V1562.5 M185,1552.5 V1562.5 M122,1562.5 V1577 M170,1562.5 V1577 M101,1577 V1592 M147,1577 V1592 M185,1577 V1592 M118,1592 V1603.5 M166,1592 V1603.5 M101,1603.5 V1611.5 M142,1603.5 V1611.5 M185,1603.5 V1611.5" stroke="#111" stroke-width="1.2" fill="none"/>
<text transform="translate(204.5 1591.5) rotate(0.00)" font-size="39" font-weight="normal" font-style="normal" fill="#000" text-anchor="start" textLength="392.5" lengthAdjust="spacingAndGlyphs" >argillaceous limestone</text>
<rect x="81" y="1678" width="108.5" height="59.5" fill="#fff" stroke="#111" stroke-width="1.3"/>
<g fill="#111"><circle cx="113" cy="1685" r="1.5"/><circle cx="153" cy="1685" r="1.5"/><circle cx="94" cy="1700" r="1.5"/><circle cx="133" cy="1697" r="1.5"/><circle cx="168" cy="1693" r="1.5"/><circle cx="117" cy="1711" r="1.5"/><circle cx="158" cy="1708" r="1.5"/><circle cx="92" cy="1722" r="1.5"/><circle cx="105" cy="1730" r="1.5"/><circle cx="140" cy="1726" r="1.5"/><circle cx="165" cy="1730" r="1.5"/><circle cx="124" cy="1733" r="1.5"/><circle cx="147" cy="1716" r="1.5"/></g>
<ellipse cx="180" cy="1682" rx="2.6" ry="3.4" fill="none" stroke="#111" stroke-width="1.2"/>
<ellipse cx="103" cy="1701" rx="3.4" ry="2.6" fill="none" stroke="#111" stroke-width="1.2"/>
<ellipse cx="137" cy="1715" rx="2.2" ry="3" fill="none" stroke="#111" stroke-width="1.2"/>
<ellipse cx="176" cy="1710" rx="2" ry="3" fill="none" stroke="#111" stroke-width="1.2"/>
<ellipse cx="107" cy="1731" rx="3.6" ry="2.6" fill="none" stroke="#111" stroke-width="1.2"/>
<text transform="translate(204.5 1724.5) rotate(0.00)" font-size="39" font-weight="normal" font-style="normal" fill="#000" text-anchor="start" textLength="385" lengthAdjust="spacingAndGlyphs" >sandstone wtih gravel</text>
<polyline points="74.5,1856 94,1841.5 117,1852.5 136.5,1841.5 159,1852.5 178.5,1841.5 201,1849" fill="none" stroke="#111" stroke-width="1.4"/>
<text transform="translate(204.5 1861.0) rotate(0.00)" font-size="39" font-weight="normal" font-style="normal" fill="#000" text-anchor="start" textLength="227.5" lengthAdjust="spacingAndGlyphs" >unconformity</text>
</g>
<g id="block2">
<polygon points="44.0,2277.0 640.0,2740.0 632.0,3042.0 36.0,2590.0" fill="url(#lf1)" stroke="#111" stroke-width="1.3" stroke-linejoin="round"/>
<polygon points="640.0,2740.0 1869.0,1970.0 1868.0,2268.0 632.0,3042.0" fill="#cccccc" stroke="#111" stroke-width="1.3" stroke-linejoin="round"/>
<line x1="55" y1="2604" x2="200" y2="2714" stroke="#111" stroke-width="2.6"/>
<polygon points="44.0,2277.0 1266.0,1564.0 1869.0,1970.0 640.0,2740.0" fill="#e6e6e6" stroke="#111" stroke-width="1.3" stroke-linejoin="round"/>
<clipPath id="cpS2"><path d="M780,2630 L2000,1800 L2000,3000 L976,2736 L936,2737 L920,2728 L920,2706 L905,2709 L864,2699 L825,2685 L800,2664 L788,2648 Z"/></clipPath>
<g clip-path="url(#cpS2)">
<polygon points="770.0,2658.6 1180.4,2401.4 1189.9,2417.9 770.0,2681.0" fill="url(#pLime)" stroke="#111" stroke-width="1.3" stroke-linejoin="round"/>
<polygon points="770.0,2681.0 1189.9,2417.9 1194.9,2426.6 770.0,2692.9" fill="url(#pSand)" stroke="#111" stroke-width="1.3" stroke-linejoin="round"/>
<polygon points="770.0,2692.9 1194.9,2426.6 1203.7,2441.8 770.0,2713.6" fill="url(#pLime)" stroke="#111" stroke-width="1.3" stroke-linejoin="round"/>
<polygon points="770.0,2713.6 1203.7,2441.8 1209.2,2451.4 770.0,2726.6" fill="url(#pSand)" stroke="#111" stroke-width="1.3" stroke-linejoin="round"/>
<polygon points="770.0,2726.6 1209.2,2451.4 1213.0,2458.0 770.0,2735.6" fill="url(#pLime)" stroke="#111" stroke-width="1.3" stroke-linejoin="round"/>
<polygon points="770.0,2735.6 1213.0,2458.0 1216.8,2464.6 770.0,2744.6" fill="url(#pSand)" stroke="#111" stroke-width="1.3" stroke-linejoin="round"/>
<polygon points="770.0,2744.6 1216.8,2464.6 1222.7,2474.9 770.0,2758.6" fill="url(#pLime)" stroke="#111" stroke-width="1.3" stroke-linejoin="round"/>
<polygon points="770.0,2758.6 1222.7,2474.9 1227.8,2483.7 770.0,2770.6" fill="url(#pLime)" stroke="#111" stroke-width="1.3" stroke-linejoin="round"/>
<polygon points="1187.4,2397.0 1280.0,2339.0 1340.0,2301.4 1368.6,2283.5 1382.2,2303.1 1340.0,2329.5 1280.0,2367.3 1200.2,2416.2" fill="url(#pLime)" stroke="#111" stroke-width="1.3" stroke-linejoin="round"/>
<polygon points="1200.2,2416.2 1280.0,2367.3 1340.0,2329.5 1382.2,2303.1 1387.5,2310.9 1340.0,2340.3 1280.0,2376.5 1204.4,2422.6" fill="#cccccc" stroke="none" stroke-width="1.3" stroke-linejoin="round"/>
<polyline points="1205.4,2414.2 1214.6,2415.2 1214.0,2408.9 1223.2,2409.9 1222.6,2403.6 1231.8,2404.7 1231.2,2398.4 1240.4,2399.5 1239.8,2393.1 1249.0,2394.2 1248.4,2387.8 1257.6,2389.0 1257.0,2382.6 1266.2,2383.7 1265.6,2377.3 1274.8,2378.5 1274.2,2372.1 1283.4,2373.3 1282.8,2366.7 1292.0,2368.1 1291.4,2361.3 1300.6,2362.9 1300.0,2355.9 1309.2,2357.7 1308.6,2350.5 1317.8,2352.5 1317.2,2345.1 1326.4,2347.3 1325.8,2339.7 1335.0,2342.1 1334.4,2334.2 1343.6,2336.9 1343.0,2328.8 1352.2,2331.6 1351.6,2323.4 1360.8,2326.2 1360.2,2318.0 1369.4,2320.9 1368.8,2312.6 1378.0,2315.6 1377.4,2307.2" fill="none" stroke="#111" stroke-width="1.6" stroke-linejoin="miter"/>
<polygon points="1204.4,2422.6 1280.0,2376.5 1340.0,2340.3 1387.5,2310.9 1393.6,2319.7 1340.0,2352.4 1280.0,2386.7 1209.2,2429.8" fill="url(#pSand)" stroke="#111" stroke-width="1.3" stroke-linejoin="round"/>
<polygon points="1209.2,2429.8 1280.0,2386.7 1340.0,2352.4 1393.6,2319.7 1399.4,2328.0 1340.0,2364.1 1280.0,2398.0 1214.4,2437.6" fill="url(#pLimeD)" stroke="#111" stroke-width="1.3" stroke-linejoin="round"/>
<polygon points="1214.4,2437.6 1280.0,2398.0 1340.0,2364.1 1399.4,2328.0 1404.0,2334.6 1340.0,2373.5 1280.0,2407.3 1218.8,2444.1" fill="url(#pSand)" stroke="#111" stroke-width="1.3" stroke-linejoin="round"/>
<polygon points="1218.8,2444.1 1280.0,2407.3 1340.0,2373.5 1404.0,2334.6 1409.3,2342.3 1340.0,2384.1 1280.0,2417.0 1223.3,2451.0" fill="url(#pLime)" stroke="#111" stroke-width="1.3" stroke-linejoin="round"/>
<polygon points="1223.3,2451.0 1280.0,2417.0 1340.0,2384.1 1409.3,2342.3 1414.5,2349.8 1340.0,2394.3 1280.0,2426.0 1227.5,2457.2" fill="url(#pSand)" stroke="#111" stroke-width="1.3" stroke-linejoin="round"/>
<polygon points="1227.5,2457.2 1280.0,2426.0 1340.0,2394.3 1414.5,2349.8 1419.8,2357.4 1340.0,2404.6 1280.0,2435.4 1231.9,2463.8" fill="url(#pLime)" stroke="#111" stroke-width="1.3" stroke-linejoin="round"/>
<polygon points="1231.9,2463.8 1280.0,2435.4 1340.0,2404.6 1419.8,2357.4 1423.9,2363.3 1340.0,2413.1 1280.0,2444.0 1235.9,2469.9" fill="url(#pLime)" stroke="#111" stroke-width="1.3" stroke-linejoin="round"/>
<polygon points="1232.0,2472.2 1280.0,2444.0 1340.0,2413.1 1423.9,2363.3 1428.1,2369.4 1340.0,2422.1 1280.0,2454.0 1232.0,2482.0" fill="#cccccc" stroke="none" stroke-width="1.3" stroke-linejoin="round"/>
<polyline points="1233.0,2472.8 1242.2,2474.8 1241.6,2467.8 1250.8,2469.8 1250.2,2462.7 1259.4,2464.8 1258.8,2457.7 1268.0,2459.8 1267.4,2452.6 1276.6,2454.8 1276.0,2447.6 1285.2,2450.1 1284.6,2442.9 1293.8,2445.5 1293.2,2438.4 1302.4,2440.9 1301.8,2434.0 1311.0,2436.3 1310.4,2429.6 1319.6,2431.8 1319.0,2425.1 1328.2,2427.2 1327.6,2420.7 1336.8,2422.6 1336.2,2416.3 1345.4,2417.7 1344.8,2411.5 1354.0,2412.5 1353.4,2406.3 1362.6,2407.4 1362.0,2401.2 1371.2,2402.2 1370.6,2396.1 1379.8,2397.1 1379.2,2391.0 1388.4,2391.9 1387.8,2385.9 1397.0,2386.8 1396.4,2380.8 1405.6,2381.7 1405.0,2375.7 1414.2,2376.5 1413.6,2370.6 1422.8,2371.4 1422.2,2365.5" fill="none" stroke="#111" stroke-width="1.6" stroke-linejoin="miter"/>
<polygon points="770.0,2770.6 1235.0,2479.2 1280.0,2454.5 1340.0,2422.4 1427.7,2368.8 1439.3,2385.6 1340.0,2445.9 1280.0,2477.4 1235.0,2502.7 770.0,2794.1" fill="url(#pDense)" stroke="#c01818" stroke-width="1.1" stroke-linejoin="round"/>
<polygon points="921.0,2701.4 1235.0,2504.7 1280.0,2479.5 1340.0,2447.9 1449.7,2381.1 1459.1,2394.8 1340.0,2467.4 1280.0,2499.5 1235.0,2526.2 921.0,2722.9" fill="#cccccc" stroke="none" stroke-width="1.3" stroke-linejoin="round"/>
<polyline points="922.0,2702.0 938.5,2710.8 937.4,2692.4 953.9,2701.1 952.8,2682.7 969.3,2691.5 968.2,2673.1 984.7,2681.9 983.6,2663.4 1000.1,2672.2 999.0,2653.8 1015.5,2662.6 1014.4,2644.1 1030.9,2652.9 1029.8,2634.5 1046.3,2643.3 1045.2,2624.8 1061.7,2633.6 1060.6,2615.2 1077.1,2624.0 1076.0,2605.5 1092.5,2614.3 1091.4,2595.9 1107.9,2604.7 1106.8,2586.2 1123.3,2595.0 1122.2,2576.6 1138.7,2585.4 1137.6,2566.9 1154.1,2575.7 1153.0,2557.3 1169.5,2566.1 1168.4,2547.6 1184.9,2556.4 1183.8,2538.0 1200.3,2546.8 1199.2,2528.3 1215.7,2537.1 1214.6,2518.7 1231.1,2527.5 1230.0,2509.0 1246.5,2518.2 1245.4,2500.1 1261.9,2509.1 1260.8,2491.5 1277.3,2499.9 1276.2,2482.9 1292.7,2491.5 1291.6,2474.6 1308.1,2483.3 1307.0,2466.5 1323.5,2475.1 1322.4,2458.4 1338.9,2466.8 1337.8,2450.3 1354.3,2457.6 1353.2,2441.1 1369.7,2448.2 1368.6,2431.8 1385.1,2438.9 1384.0,2422.4 1400.5,2429.6 1399.4,2413.0 1415.9,2420.2 1414.8,2403.7 1431.3,2410.9 1430.2,2394.3 1446.7,2401.4 1445.6,2384.9" fill="none" stroke="#111" stroke-width="2.3" stroke-linejoin="miter"/>
<polygon points="770.0,2819.1 1235.0,2527.7 1280.0,2501.0 1340.0,2468.9 1450.5,2401.7 1469.3,2428.9 1340.0,2508.9 1280.0,2544.5 1235.0,2572.7 770.0,2863.6" fill="url(#pGravel)" stroke="#111" stroke-width="1.3" stroke-linejoin="round"/>
</g>
<path d="M788,2648 L800,2664 L825,2685 L864,2699 L905,2709" fill="none" stroke="#111" stroke-width="1.2"/>
<path d="M920,2728 L936,2737 L976,2736" fill="none" stroke="#111" stroke-width="1.3"/>
<polygon points="1180.4,2401.6 1187.4,2398 1240,2476.4 1229.5,2486.9" fill="#cccccc" stroke="#444" stroke-width="1"/>
<clipPath id="cpN2"><path d="M1400,2150 L1662.5,2098.7 L1672.9,2107.8 L1678,2123.4 L1691,2128.6 L1704,2141.6 L1701.5,2154.5 L1714.5,2165 L1722.2,2178 L1727.4,2196 L1735.2,2209 L1750.8,2214.3 L1774.2,2237.7 L1774,2270 L1400,2500 Z"/></clipPath>
<g clip-path="url(#cpN2)">
<polygon points="1479.5,2214.0 1800.0,2013.2 1800.0,2036.2 1482.0,2235.5" fill="url(#pLime)" stroke="#111" stroke-width="1.3" stroke-linejoin="round"/>
<polygon points="1482.0,2235.5 1800.0,2036.2 1800.0,2052.9 1483.8,2251.0" fill="url(#pSand)" stroke="#111" stroke-width="1.3" stroke-linejoin="round"/>
<polygon points="1483.8,2251.0 1800.0,2052.9 1800.0,2068.8 1485.6,2265.8" fill="url(#pLime)" stroke="#111" stroke-width="1.3" stroke-linejoin="round"/>
<polygon points="1485.6,2265.8 1800.0,2068.8 1800.0,2081.0 1487.0,2277.1" fill="url(#pSand)" stroke="#111" stroke-width="1.3" stroke-linejoin="round"/>
<polygon points="1487.0,2277.1 1800.0,2081.0 1800.0,2102.2 1489.2,2297.0" fill="url(#pLime)" stroke="#111" stroke-width="1.3" stroke-linejoin="round"/>
<polygon points="1489.2,2297.0 1800.0,2102.2 1800.0,2133.2 1511.4,2314.0 1489.6,2299.9" fill="url(#pSand)" stroke="#111" stroke-width="1.3" stroke-linejoin="round"/>
<polygon points="1511.4,2314.0 1800.0,2133.2 1800.0,2147.2 1514.5,2326.1 1495.0,2317.8" fill="url(#pLime)" stroke="#111" stroke-width="1.3" stroke-linejoin="round"/>
<polygon points="1514.5,2326.1 1800.0,2147.2 1800.0,2180.6 1524.7,2353.1 1496.2,2331.0" fill="url(#pSand)" stroke="#111" stroke-width="1.3" stroke-linejoin="round"/>
<polygon points="1524.7,2353.1 1800.0,2180.6 1800.0,2219.2 1543.4,2380.0 1499.0,2356.0 1519.2,2359.1" fill="url(#pGravel)" stroke="#111" stroke-width="1.3" stroke-linejoin="round"/>
</g>
<polygon points="158.0,2236.1 162.2,2230.6 183.0,2207.8 188.6,2204.2 210.5,2194.5 237.7,2196.6 254.6,2206.0 302.1,2222.2 319.0,2245.8 314.2,2252.3 302.9,2254.8 270.7,2257.2 233.7,2258.0 193.4,2256.2 168.1,2245.8" fill="#b3b3b3" stroke="#b22222" stroke-width="1.2" stroke-linejoin="round"/>
<path d="M194.4,2211.0 Q195.0,2234.5 168.1,2241.8 M197.0,2235.8 L209.5,2250.2 M212.3,2224.8 L241.1,2247.5 M227.6,2211.8 Q246.6,2229.6 264.7,2242.6 M248.2,2207.0 Q273.9,2226.4 302.9,2237.7" fill="none" stroke="#b22222" stroke-width="1.02"/>
<polygon points="126.0,2304.4 131.3,2298.5 157.5,2273.8 164.6,2270.0 192.2,2259.5 226.5,2261.8 247.8,2271.9 307.7,2289.4 329.0,2314.9 322.9,2321.9 308.7,2324.5 268.1,2327.1 221.4,2328.0 170.7,2326.1 138.8,2314.9" fill="#b3b3b3" stroke="#b22222" stroke-width="1.2" stroke-linejoin="round"/>
<path d="M171.9,2277.3 Q172.7,2302.7 138.8,2310.5 M175.1,2304.1 L191.0,2319.6 M194.4,2292.2 L230.7,2316.6 M213.7,2278.2 Q237.6,2297.4 260.6,2311.4 M239.7,2273.0 Q272.2,2293.9 308.7,2306.2" fill="none" stroke="#b22222" stroke-width="1.02"/>
<polygon points="84.0,2268.9 87.6,2264.0 105.7,2244.1 110.6,2240.9 129.6,2232.4 153.3,2234.3 168.0,2242.5 209.3,2256.7 224.0,2277.4 219.8,2283.0 210.0,2285.2 182.0,2287.3 149.8,2288.0 114.8,2286.4 92.8,2277.4" fill="#b3b3b3" stroke="#b22222" stroke-width="1.2" stroke-linejoin="round"/>
<path d="M115.6,2246.9 Q116.2,2267.4 92.8,2273.8 M117.9,2268.6 L128.8,2281.2 M131.2,2258.9 L156.2,2278.8 M144.5,2247.6 Q161.0,2263.2 176.8,2274.5 M162.4,2243.3 Q184.8,2260.4 210.0,2270.3" fill="none" stroke="#b22222" stroke-width="1.02"/>
<polygon points="259.0,2291.8 263.2,2286.3 284.1,2263.7 289.8,2260.1 311.8,2250.5 339.2,2252.6 356.2,2261.9 404.0,2278.0 421.0,2301.4 416.1,2307.9 404.8,2310.3 372.4,2312.7 335.1,2313.5 294.6,2311.7 269.2,2301.4" fill="#b3b3b3" stroke="#b22222" stroke-width="1.2" stroke-linejoin="round"/>
<path d="M295.6,2266.9 Q296.3,2290.2 269.2,2297.4 M298.2,2291.5 L310.8,2305.8 M313.6,2280.5 L342.6,2303.1 M329.0,2267.7 Q348.1,2285.4 366.4,2298.2 M349.7,2262.9 Q375.6,2282.2 404.8,2293.4" fill="none" stroke="#b22222" stroke-width="1.02"/>
<polygon points="306.8,2353.7 310.4,2348.8 328.5,2328.9 333.4,2325.7 352.4,2317.2 376.1,2319.1 390.8,2327.3 432.1,2341.5 446.8,2362.2 442.6,2367.8 432.8,2370.0 404.8,2372.1 372.6,2372.8 337.6,2371.2 315.6,2362.2" fill="#b3b3b3" stroke="#b22222" stroke-width="1.2" stroke-linejoin="round"/>
<path d="M338.4,2331.7 Q339.0,2352.2 315.6,2358.6 M340.7,2353.4 L351.6,2366.0 M354.0,2343.7 L379.0,2363.6 M367.3,2332.4 Q383.8,2348.0 399.6,2359.3 M385.2,2328.1 Q407.6,2345.2 432.8,2355.1" fill="none" stroke="#b22222" stroke-width="1.02"/>
<polygon points="198.7,2371.1 202.3,2366.2 220.4,2345.9 225.3,2342.7 244.3,2334.0 268.0,2335.9 282.7,2344.3 324.0,2358.7 338.7,2379.8 334.5,2385.5 324.7,2387.7 296.7,2389.9 264.5,2390.6 229.5,2389.0 207.5,2379.8" fill="#b3b3b3" stroke="#b22222" stroke-width="1.2" stroke-linejoin="round"/>
<path d="M230.3,2348.8 Q230.9,2369.7 207.5,2376.2 M232.6,2370.8 L243.5,2383.7 M245.9,2361.0 L270.9,2381.2 M259.2,2349.5 Q275.7,2365.3 291.5,2376.9 M277.1,2345.1 Q299.5,2362.5 324.7,2372.6" fill="none" stroke="#b22222" stroke-width="1.02"/>
<polygon points="350.0,2408.3 352.6,2404.9 365.5,2390.6 369.0,2388.4 382.6,2382.3 399.5,2383.6 410.0,2389.5 439.5,2399.6 450.0,2414.4 447.0,2418.5 440.0,2420.0 420.0,2421.5 397.0,2422.0 372.0,2420.9 356.3,2414.4" fill="#b3b3b3" stroke="#b22222" stroke-width="1.2" stroke-linejoin="round"/>
<path d="M372.6,2392.6 Q373.0,2407.3 356.3,2411.9 M374.2,2408.1 L382.0,2417.1 M383.7,2401.2 L401.6,2415.4 M393.2,2393.1 Q405.0,2404.3 416.3,2412.4 M406.0,2390.1 Q422.0,2402.3 440.0,2409.3" fill="none" stroke="#b22222" stroke-width="1.02"/>
<polygon points="284.8,2435.4 290.0,2429.5 316.0,2404.8 323.0,2401.0 350.3,2390.5 384.3,2392.8 405.4,2402.9 464.7,2420.4 485.8,2445.9 479.8,2452.9 465.7,2455.5 425.5,2458.1 379.3,2459.0 329.0,2457.1 297.5,2445.9" fill="#b3b3b3" stroke="#b22222" stroke-width="1.2" stroke-linejoin="round"/>
<path d="M330.2,2408.3 Q331.0,2433.7 297.5,2441.5 M333.4,2435.1 L349.1,2450.6 M352.5,2423.2 L388.5,2447.6 M371.6,2409.2 Q395.4,2428.4 418.1,2442.4 M397.4,2404.0 Q429.5,2424.9 465.7,2437.2" fill="none" stroke="#b22222" stroke-width="1.02"/>
<polygon points="246.7,2401.9 250.3,2397.2 268.2,2377.5 273.0,2374.5 291.9,2366.1 315.3,2367.9 329.8,2376.0 370.7,2389.9 385.2,2410.3 381.0,2415.8 371.4,2417.9 343.6,2420.0 311.8,2420.7 277.2,2419.2 255.4,2410.3" fill="#b3b3b3" stroke="#b22222" stroke-width="1.2" stroke-linejoin="round"/>
<path d="M278.0,2380.3 Q278.6,2400.5 255.4,2406.8 M280.2,2401.6 L291.0,2414.0 M293.4,2392.2 L318.2,2411.6 M306.5,2381.0 Q322.9,2396.3 338.5,2407.5 M324.3,2376.8 Q346.4,2393.5 371.4,2403.3" fill="none" stroke="#b22222" stroke-width="1.02"/>
<polygon points="384.4,2412.1 388.6,2406.6 409.4,2383.8 415.0,2380.2 436.9,2370.5 464.1,2372.6 481.0,2382.0 528.5,2398.2 545.4,2421.8 540.6,2428.3 529.3,2430.8 497.1,2433.2 460.1,2434.0 419.8,2432.2 394.5,2421.8" fill="#b3b3b3" stroke="#b22222" stroke-width="1.2" stroke-linejoin="round"/>
<path d="M420.8,2387.0 Q421.4,2410.5 394.5,2417.8 M423.4,2411.8 L435.9,2426.2 M438.7,2400.8 L467.5,2423.5 M454.0,2387.8 Q472.9,2405.6 491.1,2418.6 M474.6,2383.0 Q500.3,2402.4 529.3,2413.7" fill="none" stroke="#b22222" stroke-width="1.02"/>
<polygon points="451.0,2538.1 456.2,2532.1 482.0,2507.1 489.0,2503.2 516.2,2492.5 550.0,2494.8 571.0,2505.1 630.0,2522.8 651.0,2548.7 645.0,2555.8 631.0,2558.5 591.0,2561.1 545.0,2562.0 495.0,2560.1 463.6,2548.7" fill="#b3b3b3" stroke="#b22222" stroke-width="1.2" stroke-linejoin="round"/>
<path d="M496.2,2510.6 Q497.0,2536.3 463.6,2544.3 M499.4,2537.7 L515.0,2553.5 M518.4,2525.7 L554.2,2550.5 M537.4,2511.5 Q561.0,2531.0 583.6,2545.2 M563.0,2506.2 Q595.0,2527.4 631.0,2539.8" fill="none" stroke="#b22222" stroke-width="1.02"/>
<polygon points="363.5,2493.8 367.1,2489.1 385.0,2469.4 389.9,2466.4 408.8,2458.0 432.3,2459.8 446.9,2467.9 487.9,2481.8 502.5,2502.2 498.3,2507.7 488.6,2509.8 460.8,2511.9 428.8,2512.6 394.1,2511.1 372.3,2502.2" fill="#b3b3b3" stroke="#b22222" stroke-width="1.2" stroke-linejoin="round"/>
<path d="M394.9,2472.2 Q395.5,2492.4 372.3,2498.7 M397.1,2493.5 L408.0,2505.9 M410.3,2484.1 L435.2,2503.5 M423.5,2472.9 Q439.9,2488.2 455.7,2499.4 M441.3,2468.7 Q463.6,2485.4 488.6,2495.2" fill="none" stroke="#b22222" stroke-width="1.02"/>
<polygon points="452.6,2472.9 456.2,2468.0 474.3,2448.1 479.2,2444.9 498.2,2436.4 521.9,2438.3 536.6,2446.5 577.9,2460.7 592.6,2481.4 588.4,2487.0 578.6,2489.2 550.6,2491.3 518.4,2492.0 483.4,2490.4 461.4,2481.4" fill="#b3b3b3" stroke="#b22222" stroke-width="1.2" stroke-linejoin="round"/>
<path d="M484.2,2450.9 Q484.8,2471.4 461.4,2477.8 M486.5,2472.6 L497.4,2485.2 M499.8,2462.9 L524.8,2482.8 M513.1,2451.6 Q529.6,2467.2 545.4,2478.5 M531.0,2447.3 Q553.4,2464.4 578.6,2474.3" fill="none" stroke="#b22222" stroke-width="1.02"/>
<polygon points="414.8,2524.9 418.4,2520.0 436.5,2500.1 441.4,2496.9 460.4,2488.4 484.1,2490.3 498.8,2498.5 540.1,2512.7 554.8,2533.4 550.6,2539.0 540.8,2541.2 512.8,2543.3 480.6,2544.0 445.6,2542.4 423.6,2533.4" fill="#b3b3b3" stroke="#b22222" stroke-width="1.2" stroke-linejoin="round"/>
<path d="M446.4,2502.9 Q447.0,2523.4 423.6,2529.8 M448.7,2524.6 L459.6,2537.2 M462.0,2514.9 L487.0,2534.8 M475.3,2503.6 Q491.8,2519.2 507.6,2530.5 M493.2,2499.3 Q515.6,2516.4 540.8,2526.3" fill="none" stroke="#b22222" stroke-width="1.02"/>
<polygon points="572.5,2547.7 576.7,2542.4 597.3,2520.0 602.9,2516.6 624.7,2507.1 651.7,2509.1 668.5,2518.3 715.7,2534.1 732.5,2557.2 727.7,2563.6 716.5,2565.9 684.5,2568.3 647.7,2569.1 607.7,2567.4 582.6,2557.2" fill="#b3b3b3" stroke="#b22222" stroke-width="1.2" stroke-linejoin="round"/>
<path d="M608.7,2523.2 Q609.3,2546.2 582.6,2553.3 M611.2,2547.4 L623.7,2561.5 M626.4,2536.7 L655.1,2558.8 M641.6,2524.0 Q660.5,2541.4 678.6,2554.1 M662.1,2519.3 Q687.7,2538.2 716.5,2549.3" fill="none" stroke="#b22222" stroke-width="1.02"/>
<polygon points="613.0,2620.8 616.7,2615.5 635.3,2593.3 640.4,2589.9 659.9,2580.5 684.3,2582.5 699.4,2591.6 741.9,2607.3 757.0,2630.2 752.7,2636.5 742.6,2638.9 713.8,2641.2 680.7,2642.0 644.7,2640.3 622.1,2630.2" fill="#b3b3b3" stroke="#b22222" stroke-width="1.2" stroke-linejoin="round"/>
<path d="M645.5,2596.5 Q646.1,2619.2 622.1,2626.3 M647.8,2620.5 L659.1,2634.5 M661.5,2609.8 L687.3,2631.8 M675.2,2597.3 Q692.2,2614.5 708.5,2627.1 M693.6,2592.6 Q716.7,2611.4 742.6,2622.4" fill="none" stroke="#b22222" stroke-width="1.02"/>
<polygon points="555.0,2649.9 558.6,2645.0 576.7,2625.1 581.6,2621.9 600.6,2613.4 624.3,2615.3 639.0,2623.5 680.3,2637.7 695.0,2658.4 690.8,2664.0 681.0,2666.2 653.0,2668.3 620.8,2669.0 585.8,2667.4 563.8,2658.4" fill="#b3b3b3" stroke="#b22222" stroke-width="1.2" stroke-linejoin="round"/>
<path d="M586.6,2627.9 Q587.2,2648.4 563.8,2654.8 M588.9,2649.6 L599.8,2662.2 M602.2,2639.9 L627.2,2659.8 M615.5,2628.6 Q632.0,2644.2 647.8,2655.5 M633.4,2624.3 Q655.8,2641.4 681.0,2651.3" fill="none" stroke="#b22222" stroke-width="1.02"/>
<polygon points="499.0,2595.9 502.6,2591.0 520.7,2571.1 525.6,2567.9 544.6,2559.4 568.3,2561.3 583.0,2569.5 624.3,2583.7 639.0,2604.4 634.8,2610.0 625.0,2612.2 597.0,2614.3 564.8,2615.0 529.8,2613.4 507.8,2604.4" fill="#b3b3b3" stroke="#b22222" stroke-width="1.2" stroke-linejoin="round"/>
<path d="M530.6,2573.9 Q531.2,2594.4 507.8,2600.8 M532.9,2595.6 L543.8,2608.2 M546.2,2585.9 L571.2,2605.8 M559.5,2574.6 Q576.0,2590.2 591.8,2601.5 M577.4,2570.3 Q599.8,2587.4 625.0,2597.3" fill="none" stroke="#b22222" stroke-width="1.02"/>
<polygon points="650.0,2603.8 654.2,2598.3 675.1,2575.7 680.8,2572.1 702.8,2562.5 730.2,2564.6 747.2,2573.9 795.0,2590.0 812.0,2613.4 807.1,2619.9 795.8,2622.3 763.4,2624.7 726.1,2625.5 685.6,2623.7 660.2,2613.4" fill="#b3b3b3" stroke="#b22222" stroke-width="1.2" stroke-linejoin="round"/>
<path d="M686.6,2578.9 Q687.3,2602.2 660.2,2609.4 M689.2,2603.5 L701.8,2617.8 M704.6,2592.5 L733.6,2615.1 M720.0,2579.7 Q739.1,2597.4 757.4,2610.2 M740.7,2574.9 Q766.6,2594.2 795.8,2605.4" fill="none" stroke="#b22222" stroke-width="1.02"/>
<polygon points="599.5,2673.5 603.1,2668.6 621.2,2648.7 626.1,2645.5 645.1,2637.0 668.8,2638.9 683.5,2647.1 724.8,2661.3 739.5,2682.0 735.3,2687.6 725.5,2689.8 697.5,2691.9 665.3,2692.6 630.3,2691.0 608.3,2682.0" fill="#b3b3b3" stroke="#b22222" stroke-width="1.2" stroke-linejoin="round"/>
<path d="M631.1,2651.5 Q631.7,2672.0 608.3,2678.4 M633.4,2673.2 L644.3,2685.8 M646.7,2663.5 L671.7,2683.4 M660.0,2652.2 Q676.5,2667.8 692.3,2679.1 M677.9,2647.9 Q700.3,2665.0 725.5,2674.9" fill="none" stroke="#b22222" stroke-width="1.02"/>
<path d="M577.5,2511.0 C578.2,2510.1 580.8,2507.2 581.7,2505.9 C582.6,2504.6 581.5,2505.3 582.8,2503.2 C584.1,2501.0 587.2,2496.8 589.3,2492.8 C591.4,2488.8 593.7,2483.8 595.5,2479.3 C597.3,2474.9 598.8,2470.4 600.1,2466.0 C601.3,2461.6 602.0,2457.0 603.0,2452.9 C604.1,2448.8 604.9,2444.5 606.3,2441.4 C607.8,2438.3 609.6,2436.0 611.7,2434.3 C613.9,2432.6 616.1,2431.5 619.2,2431.2 C622.3,2431.0 626.6,2431.5 630.5,2432.6 C634.3,2433.8 638.8,2436.1 642.3,2438.2 C645.7,2440.2 648.7,2442.4 651.2,2444.9 C653.7,2447.5 656.1,2450.7 657.4,2453.5 C658.7,2456.2 659.1,2458.4 658.9,2461.3 C658.7,2464.3 657.8,2468.5 656.2,2471.2 C654.6,2473.9 652.3,2475.8 649.2,2477.7 C646.0,2479.5 641.1,2481.0 637.1,2482.4 C633.0,2483.9 629.0,2485.0 625.0,2486.4 C621.0,2487.8 616.8,2489.1 613.1,2490.8 C609.3,2492.4 606.1,2494.2 602.6,2496.2 C599.2,2498.1 595.5,2500.6 592.3,2502.7 C589.1,2504.7 585.8,2507.0 583.4,2508.4 C580.9,2509.8 578.5,2510.6 577.5,2511.0Z" fill="url(#fg14)" stroke="#1a1ae0" stroke-width="1.3"/>
<path d="M596.0,2491.7 C598.0,2488.4 604.7,2477.8 608.2,2471.8 C611.7,2465.9 614.8,2460.9 616.9,2456.0 C618.9,2451.1 619.9,2444.8 620.5,2442.5" fill="none" stroke="#1a1ae0" stroke-width="1.1"/>
<path d="M611.7,2471.6 C613.6,2471.0 619.4,2469.5 623.5,2467.9 C627.5,2466.2 631.8,2462.7 636.0,2461.7 C640.1,2460.7 646.4,2461.7 648.4,2461.7" fill="none" stroke="#1a1ae0" stroke-width="1.1"/>
<path d="M606.2,2489.6 C609.0,2485.3 618.2,2471.2 622.7,2463.8 C627.2,2456.4 629.6,2449.8 633.0,2445.3 C636.5,2440.9 641.8,2438.5 643.5,2437.1" fill="none" stroke="#111" stroke-width="1.1"/>
<path d="M620.9,2459.9 L626.2,2451.0 L626.4,2439.6" fill="none" stroke="#111" stroke-width="1.1"/>
<path d="M553.4,2141 C556,2126 562,2116 575,2112 C590,2108 610,2130 626,2128 C645,2124 658,2104 668,2095 C668,2110 672,2120 680,2130 C688,2140 698,2144 704,2147 C690,2152 676,2154 663,2160 C648,2168 636,2180 619,2181 C600,2182 588,2176 578,2168 C566,2160 552,2152 553.4,2141Z" fill="#99ffff" stroke="#111" stroke-width="1.2"/>
<path d="M732,2074 C734,2066 746,2062 758,2063 C772,2064 790,2070 796,2086 C802,2104 805,2130 803,2155 C790,2140 770,2120 758,2106 C746,2092 730,2084 732,2074Z" fill="#99ffff" stroke="#111" stroke-width="1.2"/>
<ellipse cx="874.8" cy="2058.5" rx="18.5" ry="26" transform="rotate(8 874.8 2058.5)" fill="#99ffff" stroke="#111" stroke-width="1.2"/>
<ellipse cx="868" cy="2159" rx="44" ry="9.5" transform="rotate(55 868 2159)" fill="#99ffff" stroke="#111" stroke-width="1.2"/>
<ellipse cx="952.5" cy="2155" rx="20" ry="27.5" transform="rotate(-8 952.5 2155)" fill="#99ffff" stroke="#111" stroke-width="1.2"/>
<ellipse cx="1069" cy="2186" rx="38" ry="52.5" transform="rotate(-6 1069 2186)" fill="#99ffff" stroke="#111" stroke-width="1.2"/>
<path d="M427.4,2236 C432,2218 456,2200 477,2197 C490,2196 496,2200 498,2206 C506,2228 516,2250 521,2273 C520,2278 514,2279 508,2277 C494,2272 482,2270 470,2266 C450,2258 424,2250 427.4,2236Z" fill="#99ffff" stroke="#111" stroke-width="1.2"/>
<ellipse cx="623.6" cy="2223" rx="21" ry="28.5" transform="rotate(-14 623.6 2223)" fill="#99ffff" stroke="#111" stroke-width="1.2"/>
<path d="M480,2328 C484,2322 494,2324 500,2332 C506,2340 506,2348 500,2348 C492,2348 478,2336 480,2328Z M500,2348 L507,2350" fill="#99ffff" stroke="#111" stroke-width="1.2"/>
<path d="M652,2286 C620,2282 586,2288 562,2300 C548,2308 542,2316 545,2324 C556,2346 590,2372 612,2384 C610,2368 602,2356 603,2342 C604,2318 626,2298 652,2286Z" fill="#99ffff" stroke="#111" stroke-width="1.2"/>
<path d="M645.5,2365 C642,2352 664,2342 700,2340 C724,2339 742,2340 746,2346 C744,2358 722,2366 719,2384 C718,2400 734,2412 751,2420 C764,2426 790,2432 825,2443 C800,2436 776,2430 766,2434 C756,2440 762,2480 761,2508 C740,2500 716,2462 700,2440 C684,2420 650,2390 645.5,2365Z" fill="#99ffff" stroke="#111" stroke-width="1.2"/>
<path d="M1139,2191 C1150,2186 1164,2184 1174,2187 C1186,2196 1198,2210 1195,2222 C1190,2236 1182,2248 1183,2262 C1184,2282 1196,2304 1195,2322 C1180,2316 1166,2298 1158,2285 C1150,2272 1146,2256 1144,2241 C1142,2224 1138,2206 1139,2191Z" fill="#99ffff" stroke="#111" stroke-width="1.2"/>
<path d="M1157,1872 C1158,1862 1172,1860 1188,1864 C1214,1872 1244,1888 1266,1902 C1250,1902 1230,1902 1212,1904 C1198,1906 1190,1908 1182,1904 C1170,1896 1156,1884 1157,1872Z" fill="#99ffff" stroke="#111" stroke-width="1.2"/>
<ellipse cx="1386.7" cy="1995" rx="62" ry="19" transform="rotate(42 1386.7 1995)" fill="#99ffff" stroke="#111" stroke-width="1.2"/>
<ellipse cx="1515" cy="2031" rx="19.5" ry="27.5" transform="rotate(-8 1515 2031)" fill="#99ffff" stroke="#111" stroke-width="1.2"/>
<ellipse cx="325" cy="2170" rx="30" ry="16.5" transform="rotate(12 325 2170)" fill="#99ffff" stroke="#111" stroke-width="1.2"/>
<polygon points="792.0,1891.7 794.8,1888.2 808.4,1873.7 812.1,1871.5 826.6,1865.3 844.5,1866.6 855.6,1872.6 886.9,1882.8 898.0,1897.8 894.8,1901.9 887.4,1903.4 866.2,1905.0 841.8,1905.5 815.3,1904.4 798.7,1897.8" fill="#b3b3b3" stroke="#5a5a5a" stroke-width="1.1" stroke-linejoin="round"/>
<path d="M816.0,1875.8 Q816.4,1890.6 798.7,1895.2 M817.7,1891.5 L825.9,1900.6 M827.7,1884.5 L846.7,1898.8 M837.8,1876.3 Q850.3,1887.6 862.3,1895.8 M851.4,1873.2 Q868.3,1885.5 887.4,1892.7" fill="none" stroke="#5a5a5a" stroke-width="0.94"/>
<polygon points="813.0,1925.7 816.0,1921.8 830.8,1905.5 834.9,1903.0 850.5,1896.0 869.9,1897.5 882.0,1904.2 915.9,1915.8 928.0,1932.6 924.5,1937.3 916.5,1939.0 893.5,1940.7 867.0,1941.3 838.3,1940.0 820.2,1932.6" fill="#b3b3b3" stroke="#5a5a5a" stroke-width="1.1" stroke-linejoin="round"/>
<path d="M839.0,1907.8 Q839.5,1924.6 820.2,1929.8 M840.8,1925.5 L849.8,1935.8 M851.8,1917.6 L872.3,1933.8 M862.7,1908.4 Q876.2,1921.1 889.2,1930.3 M877.4,1904.9 Q895.8,1918.8 916.5,1926.9" fill="none" stroke="#5a5a5a" stroke-width="0.94"/>
<polygon points="918.7,1935.3 921.4,1931.6 935.0,1916.3 938.7,1913.9 952.9,1907.3 970.7,1908.7 981.7,1915.1 1012.7,1925.9 1023.7,1941.8 1020.6,1946.2 1013.2,1947.8 992.2,1949.5 968.1,1950.0 941.8,1948.8 925.3,1941.8" fill="#b3b3b3" stroke="#5a5a5a" stroke-width="1.1" stroke-linejoin="round"/>
<path d="M942.4,1918.4 Q942.9,1934.2 925.3,1939.1 M944.1,1935.1 L952.3,1944.8 M954.1,1927.7 L972.9,1942.9 M964.1,1919.0 Q976.5,1930.9 988.3,1939.7 M977.5,1915.7 Q994.3,1928.8 1013.2,1936.4" fill="none" stroke="#5a5a5a" stroke-width="0.94"/>
<polygon points="908.6,1977.1 911.3,1973.7 924.9,1959.4 928.6,1957.2 942.8,1951.1 960.6,1952.4 971.6,1958.3 1002.6,1968.4 1013.6,1983.2 1010.5,1987.3 1003.1,1988.8 982.1,1990.3 958.0,1990.8 931.7,1989.7 915.2,1983.2" fill="#b3b3b3" stroke="#5a5a5a" stroke-width="1.1" stroke-linejoin="round"/>
<path d="M932.3,1961.4 Q932.8,1976.1 915.2,1980.7 M934.0,1976.9 L942.2,1985.9 M944.0,1970.0 L962.8,1984.2 M954.0,1961.9 Q966.4,1973.1 978.2,1981.2 M967.4,1958.9 Q984.2,1971.1 1003.1,1978.1" fill="none" stroke="#5a5a5a" stroke-width="0.94"/>
<polygon points="976.0,1978.8 979.7,1973.8 998.2,1953.1 1003.3,1949.9 1022.8,1941.0 1047.0,1942.9 1062.1,1951.5 1104.4,1966.1 1119.5,1987.6 1115.2,1993.5 1105.2,1995.7 1076.5,1997.9 1043.4,1998.6 1007.6,1997.0 985.0,1987.6" fill="#b3b3b3" stroke="#5a5a5a" stroke-width="1.1" stroke-linejoin="round"/>
<path d="M1008.4,1956.0 Q1009.0,1977.3 985.0,1983.9 M1010.7,1978.5 L1021.9,1991.6 M1024.4,1968.5 L1050.0,1989.1 M1038.0,1956.8 Q1054.9,1972.9 1071.1,1984.7 M1056.4,1952.3 Q1079.3,1970.0 1105.2,1980.2" fill="none" stroke="#5a5a5a" stroke-width="0.94"/>
<polygon points="948.4,2015.3 951.1,2011.8 964.7,1997.3 968.4,1995.1 982.6,1988.9 1000.4,1990.2 1011.4,1996.2 1042.4,2006.4 1053.4,2021.4 1050.2,2025.5 1042.9,2027.0 1021.9,2028.6 997.8,2029.1 971.5,2028.0 955.0,2021.4" fill="#b3b3b3" stroke="#5a5a5a" stroke-width="1.1" stroke-linejoin="round"/>
<path d="M972.1,1999.4 Q972.5,2014.2 955.0,2018.8 M973.8,2015.1 L982.0,2024.2 M983.8,2008.1 L1002.6,2022.4 M993.8,1999.9 Q1006.1,2011.2 1018.0,2019.4 M1007.2,1996.8 Q1024.0,2009.1 1042.9,2016.3" fill="none" stroke="#5a5a5a" stroke-width="0.94"/>
<polygon points="1026.8,2034.8 1030.5,2029.8 1049.0,2009.4 1054.1,2006.2 1073.6,1997.4 1097.8,1999.3 1112.9,2007.8 1155.2,2022.3 1170.3,2043.5 1166.0,2049.3 1156.0,2051.5 1127.2,2053.7 1094.2,2054.4 1058.4,2052.8 1035.8,2043.5" fill="#b3b3b3" stroke="#5a5a5a" stroke-width="1.1" stroke-linejoin="round"/>
<path d="M1059.2,2012.3 Q1059.8,2033.3 1035.8,2039.9 M1061.5,2034.5 L1072.7,2047.4 M1075.2,2024.6 L1100.8,2045.0 M1088.8,2013.0 Q1105.7,2029.0 1121.9,2040.6 M1107.2,2008.6 Q1130.1,2026.1 1156.0,2036.2" fill="none" stroke="#5a5a5a" stroke-width="0.94"/>
<polygon points="1071.0,2074.1 1072.9,2071.6 1082.5,2061.2 1085.1,2059.6 1095.1,2055.2 1107.6,2056.2 1115.4,2060.4 1137.2,2067.8 1145.0,2078.5 1142.8,2081.4 1137.6,2082.5 1122.8,2083.6 1105.8,2084.0 1087.3,2083.2 1075.7,2078.5" fill="#b3b3b3" stroke="#5a5a5a" stroke-width="1.1" stroke-linejoin="round"/>
<path d="M1087.7,2062.7 Q1088.0,2073.4 1075.7,2076.7 M1088.9,2073.9 L1094.7,2080.5 M1095.9,2068.9 L1109.2,2079.2 M1103.0,2063.1 Q1111.7,2071.2 1120.1,2077.0 M1112.4,2060.9 Q1124.3,2069.7 1137.6,2074.8" fill="none" stroke="#5a5a5a" stroke-width="0.94"/>
<polygon points="1143.0,2071.0 1145.6,2067.3 1158.5,2052.1 1162.0,2049.8 1175.6,2043.3 1192.5,2044.7 1203.0,2051.0 1232.5,2061.7 1243.0,2077.4 1240.0,2081.7 1233.0,2083.3 1213.0,2085.0 1190.0,2085.5 1165.0,2084.3 1149.3,2077.4" fill="#b3b3b3" stroke="#5a5a5a" stroke-width="1.1" stroke-linejoin="round"/>
<path d="M1165.6,2054.3 Q1166.0,2069.9 1149.3,2074.7 M1167.2,2070.8 L1175.0,2080.3 M1176.7,2063.4 L1194.6,2078.5 M1186.2,2054.8 Q1198.0,2066.7 1209.3,2075.3 M1199.0,2051.6 Q1215.0,2064.5 1233.0,2072.1" fill="none" stroke="#5a5a5a" stroke-width="0.94"/>
<polygon points="1176.0,2119.3 1179.7,2114.4 1198.2,2094.5 1203.2,2091.3 1222.6,2082.8 1246.8,2084.7 1261.8,2092.9 1304.0,2107.1 1319.0,2127.8 1314.7,2133.4 1304.7,2135.6 1276.1,2137.7 1243.2,2138.4 1207.5,2136.8 1185.0,2127.8" fill="#b3b3b3" stroke="#5a5a5a" stroke-width="1.1" stroke-linejoin="round"/>
<path d="M1208.3,2097.3 Q1208.9,2117.8 1185.0,2124.2 M1210.6,2119.0 L1221.8,2131.6 M1224.2,2109.3 L1249.8,2129.2 M1237.8,2098.0 Q1254.7,2113.6 1270.8,2124.9 M1256.1,2093.7 Q1279.0,2110.8 1304.7,2120.7" fill="none" stroke="#5a5a5a" stroke-width="0.94"/>
<polygon points="1209.0,2166.0 1211.7,2162.2 1225.3,2146.5 1229.0,2144.0 1243.2,2137.3 1261.0,2138.8 1272.0,2145.2 1303.0,2156.4 1314.0,2172.6 1310.8,2177.1 1303.5,2178.8 1282.5,2180.4 1258.3,2181.0 1232.1,2179.8 1215.6,2172.6" fill="#b3b3b3" stroke="#5a5a5a" stroke-width="1.1" stroke-linejoin="round"/>
<path d="M1232.7,2148.7 Q1233.2,2164.8 1215.6,2169.9 M1234.4,2165.7 L1242.6,2175.7 M1244.4,2158.2 L1263.2,2173.8 M1254.4,2149.3 Q1266.8,2161.5 1278.6,2170.4 M1267.8,2145.9 Q1284.6,2159.3 1303.5,2167.1" fill="none" stroke="#5a5a5a" stroke-width="0.94"/>
<polygon points="1260.0,2218.6 1262.7,2215.0 1276.3,2200.0 1280.0,2197.7 1294.2,2191.3 1312.0,2192.7 1323.0,2198.9 1354.0,2209.5 1365.0,2225.0 1361.8,2229.3 1354.5,2230.9 1333.5,2232.5 1309.3,2233.0 1283.1,2231.8 1266.6,2225.0" fill="#b3b3b3" stroke="#5a5a5a" stroke-width="1.1" stroke-linejoin="round"/>
<path d="M1283.7,2202.2 Q1284.2,2217.6 1266.6,2222.4 M1285.4,2218.4 L1293.6,2227.9 M1295.4,2211.2 L1314.2,2226.1 M1305.4,2202.7 Q1317.8,2214.4 1329.6,2222.9 M1318.8,2199.5 Q1335.6,2212.3 1354.5,2219.7" fill="none" stroke="#5a5a5a" stroke-width="0.94"/>
<path d="M933.0,1941.3 C932.5,1941.5 930.5,1942.2 929.7,1942.4 C928.9,1942.6 929.5,1942.3 928.2,1942.5 C926.9,1942.7 924.3,1943.5 921.9,1943.8 C919.6,1944.1 916.8,1944.3 914.2,1944.4 C911.7,1944.4 909.3,1944.4 906.9,1944.2 C904.5,1944.0 902.1,1943.5 899.9,1943.3 C897.8,1943.1 895.5,1942.7 893.7,1942.8 C891.9,1943.0 890.5,1943.4 889.3,1944.2 C888.1,1944.9 887.1,1945.8 886.4,1947.3 C885.7,1948.8 885.2,1951.0 885.0,1953.1 C884.9,1955.2 885.2,1957.8 885.6,1959.8 C886.0,1961.9 886.5,1963.7 887.3,1965.4 C888.1,1967.1 889.3,1968.9 890.4,1970.0 C891.5,1971.1 892.5,1971.7 893.9,1972.2 C895.4,1972.6 897.6,1972.9 899.3,1972.6 C900.9,1972.3 902.2,1971.6 903.7,1970.3 C905.2,1969.1 906.8,1967.0 908.2,1965.3 C909.7,1963.6 911.0,1961.8 912.4,1960.1 C913.8,1958.4 915.2,1956.6 916.7,1955.0 C918.1,1953.5 919.6,1952.3 921.2,1950.9 C922.8,1949.6 924.7,1948.2 926.2,1947.0 C927.8,1945.8 929.6,1944.7 930.7,1943.7 C931.8,1942.8 932.6,1941.7 933.0,1941.3Z" fill="url(#fg15)" stroke="#1a1ae0" stroke-width="1.1"/>
<path d="M920.2,1946.9 C918.2,1947.3 911.8,1948.6 908.3,1949.2 C904.7,1949.9 901.7,1950.5 899.0,1950.6 C896.2,1950.7 892.9,1950.1 891.7,1950.0" fill="none" stroke="#1a1ae0" stroke-width="0.8"/>
<path d="M907.5,1950.9 C906.9,1951.8 905.1,1954.3 903.6,1956.0 C902.0,1957.7 899.5,1959.2 898.3,1961.0 C897.0,1962.9 896.4,1966.1 896.0,1967.1" fill="none" stroke="#1a1ae0" stroke-width="0.8"/>
<path d="M900.1,1953.3 L894.8,1954.3 L889.2,1952.3" fill="none" stroke="#111" stroke-width="0.8"/>
<path d="M1192.2,2087.2 C1191.7,2087.4 1189.7,2088.1 1188.9,2088.3 C1188.1,2088.5 1188.7,2088.2 1187.3,2088.4 C1186.0,2088.6 1183.4,2089.4 1181.0,2089.7 C1178.7,2090.0 1175.8,2090.2 1173.2,2090.3 C1170.7,2090.4 1168.2,2090.3 1165.8,2090.1 C1163.4,2090.0 1161.0,2089.4 1158.8,2089.2 C1156.6,2089.0 1154.3,2088.6 1152.5,2088.7 C1150.7,2088.9 1149.2,2089.3 1148.0,2090.1 C1146.8,2090.8 1145.8,2091.7 1145.1,2093.2 C1144.4,2094.7 1143.9,2097.0 1143.7,2099.1 C1143.6,2101.2 1143.9,2103.8 1144.3,2105.9 C1144.7,2108.0 1145.2,2109.9 1146.0,2111.6 C1146.8,2113.3 1148.0,2115.1 1149.1,2116.2 C1150.2,2117.3 1151.2,2117.9 1152.7,2118.4 C1154.2,2118.8 1156.5,2119.1 1158.1,2118.8 C1159.8,2118.5 1161.1,2117.8 1162.6,2116.5 C1164.1,2115.3 1165.7,2113.2 1167.2,2111.4 C1168.6,2109.7 1169.9,2107.9 1171.4,2106.2 C1172.8,2104.5 1174.2,2102.6 1175.7,2101.1 C1177.2,2099.5 1178.6,2098.3 1180.3,2096.9 C1181.9,2095.6 1183.8,2094.2 1185.4,2093.0 C1187.0,2091.8 1188.7,2090.6 1189.9,2089.6 C1191.0,2088.7 1191.8,2087.6 1192.2,2087.2Z" fill="url(#fg16)" stroke="#1a1ae0" stroke-width="1.1"/>
<path d="M1179.3,2092.8 C1177.3,2093.2 1170.8,2094.6 1167.2,2095.2 C1163.6,2095.8 1160.6,2096.5 1157.8,2096.6 C1155.0,2096.7 1151.7,2096.0 1150.4,2095.9" fill="none" stroke="#1a1ae0" stroke-width="0.8"/>
<path d="M1166.5,2096.9 C1165.8,2097.8 1164.0,2100.4 1162.4,2102.1 C1160.9,2103.8 1158.4,2105.2 1157.1,2107.1 C1155.9,2109.0 1155.2,2112.2 1154.8,2113.3" fill="none" stroke="#1a1ae0" stroke-width="0.8"/>
<path d="M1159.0,2099.3 L1153.6,2100.3 L1148.0,2098.3" fill="none" stroke="#111" stroke-width="0.8"/>
<g transform="translate(1129.7 2061.8) rotate(35)">
<ellipse rx="21" ry="10" fill="#fff" stroke="#e8141c" stroke-width="1.3"/>
<path d="M6.6,-7.0 L8.6,-3.2 M4.4,-6.6 L10.9,-6.5 M-11.3,-1.7 L-15.9,0.0 M-8.9,-2.0 L-7.1,2.2 M3.5,-6.3 L7.5,-4.4" stroke="#e8141c" stroke-width="0.9" fill="none"/>
</g>
<polygon points="678.3,2232.8 682.0,2227.8 700.5,2207.1 705.6,2203.9 725.1,2195.0 749.3,2196.9 764.4,2205.5 806.7,2220.1 821.8,2241.6 817.5,2247.5 807.4,2249.7 778.8,2251.9 745.7,2252.6 709.9,2251.0 687.3,2241.6" fill="#b3b3b3" stroke="#5a5a5a" stroke-width="1.1" stroke-linejoin="round"/>
<path d="M710.7,2210.0 Q711.3,2231.3 687.3,2237.9 M713.0,2232.5 L724.2,2245.6 M726.7,2222.5 L752.3,2243.1 M740.3,2210.8 Q757.2,2226.9 773.4,2238.7 M758.7,2206.3 Q781.6,2224.0 807.4,2234.2" fill="none" stroke="#5a5a5a" stroke-width="0.94"/>
<polygon points="806.6,2246.3 809.7,2241.4 824.9,2221.1 829.0,2217.9 845.1,2209.2 865.0,2211.1 877.4,2219.5 912.2,2233.9 924.6,2255.0 921.1,2260.7 912.8,2262.9 889.2,2265.1 862.1,2265.8 832.6,2264.2 814.0,2255.0" fill="#b3b3b3" stroke="#5a5a5a" stroke-width="1.1" stroke-linejoin="round"/>
<path d="M833.3,2224.0 Q833.7,2244.9 814.0,2251.4 M835.2,2246.0 L844.4,2258.9 M846.4,2236.2 L867.5,2256.4 M857.6,2224.7 Q871.5,2240.5 884.8,2252.1 M872.7,2220.3 Q891.6,2237.7 912.8,2247.8" fill="none" stroke="#5a5a5a" stroke-width="0.94"/>
<polygon points="862.0,2286.5 865.0,2282.6 880.1,2266.3 884.2,2263.8 900.1,2256.8 919.9,2258.3 932.2,2265.0 966.7,2276.6 979.0,2293.4 975.5,2298.1 967.3,2299.8 943.9,2301.5 917.0,2302.1 887.7,2300.8 869.4,2293.4" fill="#b3b3b3" stroke="#5a5a5a" stroke-width="1.1" stroke-linejoin="round"/>
<path d="M888.4,2268.6 Q888.9,2285.4 869.4,2290.6 M890.3,2286.3 L899.4,2296.6 M901.4,2278.4 L922.4,2294.6 M912.5,2269.2 Q926.4,2281.9 939.6,2291.1 M927.5,2265.7 Q946.2,2279.6 967.3,2287.7" fill="none" stroke="#5a5a5a" stroke-width="0.94"/>
<polygon points="774.5,2288.6 777.2,2285.0 790.8,2270.0 794.5,2267.7 808.7,2261.3 826.5,2262.7 837.5,2268.9 868.5,2279.5 879.5,2295.0 876.4,2299.3 869.0,2300.9 848.0,2302.5 823.9,2303.0 797.6,2301.8 781.1,2295.0" fill="#b3b3b3" stroke="#5a5a5a" stroke-width="1.1" stroke-linejoin="round"/>
<path d="M798.2,2272.2 Q798.6,2287.6 781.1,2292.4 M799.9,2288.4 L808.1,2297.9 M809.9,2281.2 L828.7,2296.1 M819.9,2272.7 Q832.2,2284.4 844.1,2292.9 M833.3,2269.5 Q850.1,2282.3 869.0,2289.7" fill="none" stroke="#5a5a5a" stroke-width="0.94"/>
<polygon points="961.8,2293.7 965.5,2289.0 983.7,2269.3 988.6,2266.3 1007.8,2257.9 1031.6,2259.7 1046.4,2267.8 1088.0,2281.7 1102.8,2302.1 1098.6,2307.6 1088.7,2309.7 1060.5,2311.8 1028.1,2312.5 992.8,2311.0 970.7,2302.1" fill="#b3b3b3" stroke="#5a5a5a" stroke-width="1.1" stroke-linejoin="round"/>
<path d="M993.7,2272.1 Q994.2,2292.3 970.7,2298.6 M995.9,2293.4 L1006.9,2305.8 M1009.3,2284.0 L1034.6,2303.4 M1022.7,2272.8 Q1039.3,2288.1 1055.3,2299.3 M1040.8,2268.6 Q1063.3,2285.3 1088.7,2295.1" fill="none" stroke="#5a5a5a" stroke-width="0.94"/>
<polygon points="831.8,2334.5 835.3,2329.6 852.7,2309.3 857.4,2306.1 875.8,2297.4 898.6,2299.3 912.8,2307.7 952.6,2322.1 966.8,2343.2 962.8,2348.9 953.3,2351.1 926.3,2353.3 895.2,2354.0 861.5,2352.4 840.3,2343.2" fill="#b3b3b3" stroke="#5a5a5a" stroke-width="1.1" stroke-linejoin="round"/>
<path d="M862.3,2312.2 Q862.8,2333.1 840.3,2339.6 M864.5,2334.2 L875.0,2347.1 M877.3,2324.4 L901.5,2344.6 M890.1,2312.9 Q906.0,2328.7 921.3,2340.3 M907.4,2308.5 Q929.0,2325.9 953.3,2336.0" fill="none" stroke="#5a5a5a" stroke-width="0.94"/>
<polygon points="1042.9,2337.1 1046.7,2332.3 1065.3,2312.4 1070.4,2309.3 1090.0,2300.8 1114.4,2302.7 1129.6,2310.8 1172.2,2324.9 1187.4,2345.5 1183.1,2351.2 1173.0,2353.3 1144.1,2355.4 1110.8,2356.1 1074.7,2354.5 1052.0,2345.5" fill="#b3b3b3" stroke="#5a5a5a" stroke-width="1.1" stroke-linejoin="round"/>
<path d="M1075.6,2315.2 Q1076.1,2335.7 1052.0,2342.0 M1077.9,2336.8 L1089.1,2349.3 M1091.6,2327.2 L1117.5,2346.9 M1105.3,2315.9 Q1122.4,2331.4 1138.7,2342.7 M1123.8,2311.7 Q1146.9,2328.6 1173.0,2338.5" fill="none" stroke="#5a5a5a" stroke-width="0.94"/>
<polygon points="940.9,2358.1 944.6,2353.2 962.8,2332.9 967.7,2329.7 986.9,2321.0 1010.7,2322.9 1025.5,2331.3 1067.1,2345.7 1081.9,2366.8 1077.7,2372.5 1067.8,2374.7 1039.6,2376.9 1007.2,2377.6 971.9,2376.0 949.8,2366.8" fill="#b3b3b3" stroke="#5a5a5a" stroke-width="1.1" stroke-linejoin="round"/>
<path d="M972.8,2335.8 Q973.3,2356.7 949.8,2363.2 M975.0,2357.8 L986.0,2370.7 M988.4,2348.0 L1013.7,2368.2 M1001.8,2336.5 Q1018.4,2352.3 1034.4,2363.9 M1019.9,2332.1 Q1042.4,2349.5 1067.8,2359.6" fill="none" stroke="#5a5a5a" stroke-width="0.94"/>
<polygon points="1013.0,2401.3 1016.7,2396.3 1035.3,2375.9 1040.4,2372.7 1059.9,2363.9 1084.3,2365.8 1099.4,2374.3 1141.9,2388.8 1157.0,2410.0 1152.7,2415.8 1142.6,2418.0 1113.8,2420.2 1080.7,2420.9 1044.7,2419.3 1022.1,2410.0" fill="#b3b3b3" stroke="#5a5a5a" stroke-width="1.1" stroke-linejoin="round"/>
<path d="M1045.5,2378.8 Q1046.1,2399.8 1022.1,2406.4 M1047.8,2401.0 L1059.1,2413.9 M1061.5,2391.1 L1087.3,2411.5 M1075.2,2379.5 Q1092.2,2395.5 1108.5,2407.1 M1093.6,2375.1 Q1116.7,2392.6 1142.6,2402.7" fill="none" stroke="#5a5a5a" stroke-width="0.94"/>
<path d="M791.4,2252.7 C790.8,2252.9 788.8,2253.7 788.0,2253.9 C787.2,2254.1 787.8,2253.7 786.4,2253.9 C785.1,2254.2 782.3,2255.0 779.9,2255.3 C777.5,2255.6 774.5,2255.8 771.9,2255.9 C769.3,2256.0 766.7,2255.9 764.2,2255.8 C761.7,2255.6 759.3,2255.1 757.0,2254.8 C754.7,2254.6 752.4,2254.2 750.5,2254.3 C748.7,2254.5 747.2,2255.0 745.9,2255.8 C744.6,2256.5 743.7,2257.4 742.9,2259.0 C742.2,2260.5 741.6,2262.8 741.5,2265.0 C741.4,2267.2 741.7,2269.9 742.1,2272.1 C742.5,2274.2 743.1,2276.1 743.9,2277.9 C744.7,2279.6 745.9,2281.5 747.1,2282.6 C748.2,2283.8 749.3,2284.4 750.8,2284.9 C752.3,2285.3 754.6,2285.7 756.3,2285.3 C758.0,2285.0 759.4,2284.2 761.0,2283.0 C762.5,2281.7 764.2,2279.5 765.7,2277.7 C767.2,2275.9 768.5,2274.1 770.0,2272.3 C771.4,2270.5 772.9,2268.6 774.4,2267.0 C775.9,2265.4 777.5,2264.1 779.1,2262.7 C780.8,2261.3 782.7,2259.9 784.4,2258.7 C786.0,2257.4 787.8,2256.2 789.0,2255.2 C790.2,2254.2 791.0,2253.1 791.4,2252.7Z" fill="url(#fg17)" stroke="#1a1ae0" stroke-width="1.1"/>
<path d="M778.1,2258.5 C776.0,2258.9 769.4,2260.3 765.7,2261.0 C762.0,2261.6 758.9,2262.3 756.0,2262.5 C753.1,2262.6 749.7,2261.9 748.4,2261.8" fill="none" stroke="#1a1ae0" stroke-width="0.8"/>
<path d="M764.9,2262.7 C764.2,2263.6 762.4,2266.3 760.8,2268.1 C759.2,2269.8 756.6,2271.3 755.3,2273.3 C754.0,2275.2 753.4,2278.6 753.0,2279.6" fill="none" stroke="#1a1ae0" stroke-width="0.8"/>
<path d="M757.2,2265.3 L751.7,2266.3 L745.9,2264.2" fill="none" stroke="#111" stroke-width="0.8"/>
<polygon points="1317.7,1787.1 1321.9,1781.1 1342.5,1756.1 1348.1,1752.2 1369.9,1741.5 1396.9,1743.8 1413.7,1754.1 1460.9,1771.8 1477.7,1797.7 1472.9,1804.8 1461.7,1807.5 1429.7,1810.1 1392.9,1811.0 1352.9,1809.1 1327.8,1797.7" fill="#b3b3b3" stroke="#b22222" stroke-width="1.2" stroke-linejoin="round"/>
<path d="M1353.9,1759.6 Q1354.5,1785.3 1327.8,1793.3 M1356.4,1786.7 L1368.9,1802.5 M1371.6,1774.7 L1400.3,1799.5 M1386.8,1760.5 Q1405.7,1780.0 1423.8,1794.2 M1407.3,1755.2 Q1432.9,1776.4 1461.7,1788.8" fill="none" stroke="#b22222" stroke-width="1.02"/>
<polygon points="1426.8,1803.4 1430.5,1798.4 1449.1,1778.0 1454.2,1774.8 1473.7,1766.0 1498.1,1767.9 1513.2,1776.4 1555.7,1790.9 1570.8,1812.1 1566.5,1817.9 1556.4,1820.1 1527.6,1822.3 1494.5,1823.0 1458.5,1821.4 1435.9,1812.1" fill="#b3b3b3" stroke="#b22222" stroke-width="1.2" stroke-linejoin="round"/>
<path d="M1459.3,1780.9 Q1459.9,1801.9 1435.9,1808.5 M1461.6,1803.1 L1472.9,1816.0 M1475.3,1793.2 L1501.1,1813.6 M1489.0,1781.6 Q1506.0,1797.6 1522.3,1809.2 M1507.4,1777.2 Q1530.5,1794.7 1556.4,1804.8" fill="none" stroke="#b22222" stroke-width="1.02"/>
<polygon points="1328.8,1842.2 1332.6,1837.2 1351.3,1816.8 1356.3,1813.6 1376.1,1804.8 1400.6,1806.7 1415.8,1815.2 1458.6,1829.7 1473.8,1850.9 1469.5,1856.7 1459.3,1858.9 1430.3,1861.1 1397.0,1861.8 1360.7,1860.2 1337.9,1850.9" fill="#b3b3b3" stroke="#b22222" stroke-width="1.2" stroke-linejoin="round"/>
<path d="M1361.6,1819.7 Q1362.1,1840.7 1337.9,1847.3 M1363.9,1841.9 L1375.2,1854.8 M1377.7,1832.0 L1403.6,1852.4 M1391.4,1820.4 Q1408.5,1836.4 1424.9,1848.0 M1410.0,1816.0 Q1433.2,1833.5 1459.3,1843.6" fill="none" stroke="#b22222" stroke-width="1.02"/>
<polygon points="1493.0,1863.8 1496.7,1858.8 1515.3,1838.0 1520.4,1834.7 1539.9,1825.8 1564.3,1827.8 1579.4,1836.3 1621.9,1851.1 1637.0,1872.7 1632.7,1878.6 1622.6,1880.8 1593.8,1883.1 1560.7,1883.8 1524.7,1882.2 1502.1,1872.7" fill="#b3b3b3" stroke="#b22222" stroke-width="1.2" stroke-linejoin="round"/>
<path d="M1525.5,1840.9 Q1526.1,1862.4 1502.1,1869.0 M1527.8,1863.5 L1539.1,1876.7 M1541.5,1853.5 L1567.3,1874.2 M1555.2,1841.7 Q1572.2,1857.9 1588.5,1869.8 M1573.6,1837.2 Q1596.7,1855.0 1622.6,1865.3" fill="none" stroke="#b22222" stroke-width="1.02"/>
<polygon points="1427.8,1873.7 1433.0,1866.8 1458.8,1838.2 1465.8,1833.8 1493.0,1821.6 1526.8,1824.2 1547.8,1836.0 1606.8,1856.2 1627.8,1885.8 1621.8,1893.9 1607.8,1896.9 1567.8,1900.0 1521.8,1901.0 1471.8,1898.8 1440.4,1885.8" fill="#b3b3b3" stroke="#b22222" stroke-width="1.2" stroke-linejoin="round"/>
<path d="M1473.0,1842.3 Q1473.8,1871.6 1440.4,1880.7 M1476.2,1873.3 L1491.8,1891.3 M1495.2,1859.5 L1531.0,1887.8 M1514.2,1843.3 Q1537.8,1865.6 1560.4,1881.8 M1539.8,1837.2 Q1571.8,1861.5 1607.8,1875.7" fill="none" stroke="#b22222" stroke-width="1.02"/>
<polygon points="1518.0,1912.0 1520.9,1908.4 1535.0,1893.4 1538.9,1891.1 1553.9,1884.7 1572.5,1886.1 1584.0,1892.3 1616.5,1902.9 1628.0,1918.4 1624.7,1922.7 1617.0,1924.3 1595.0,1925.9 1569.7,1926.4 1542.2,1925.2 1524.9,1918.4" fill="#b3b3b3" stroke="#b22222" stroke-width="1.2" stroke-linejoin="round"/>
<path d="M1542.9,1895.6 Q1543.3,1911.0 1524.9,1915.8 M1544.6,1911.8 L1553.2,1921.3 M1555.1,1904.6 L1574.8,1919.5 M1565.5,1896.1 Q1578.5,1907.8 1590.9,1916.3 M1579.6,1892.9 Q1597.2,1905.7 1617.0,1913.1" fill="none" stroke="#b22222" stroke-width="1.02"/>
<polygon points="1575.0,1907.9 1578.7,1903.0 1597.3,1883.1 1602.4,1879.9 1621.9,1871.4 1646.3,1873.3 1661.4,1881.5 1703.9,1895.7 1719.0,1916.4 1714.7,1922.0 1704.6,1924.2 1675.8,1926.3 1642.7,1927.0 1606.7,1925.4 1584.1,1916.4" fill="#b3b3b3" stroke="#b22222" stroke-width="1.2" stroke-linejoin="round"/>
<path d="M1607.5,1885.9 Q1608.1,1906.4 1584.1,1912.8 M1609.8,1907.6 L1621.1,1920.2 M1623.5,1897.9 L1649.3,1917.8 M1637.2,1886.6 Q1654.2,1902.2 1670.5,1913.5 M1655.6,1882.3 Q1678.7,1899.4 1704.6,1909.3" fill="none" stroke="#b22222" stroke-width="1.02"/>
<polygon points="1452.8,1936.8 1456.5,1931.8 1475.1,1911.4 1480.2,1908.2 1499.7,1899.4 1524.1,1901.3 1539.2,1909.8 1581.7,1924.3 1596.8,1945.5 1592.5,1951.3 1582.4,1953.5 1553.6,1955.7 1520.5,1956.4 1484.5,1954.8 1461.9,1945.5" fill="#b3b3b3" stroke="#b22222" stroke-width="1.2" stroke-linejoin="round"/>
<path d="M1485.3,1914.3 Q1485.9,1935.3 1461.9,1941.9 M1487.6,1936.5 L1498.9,1949.4 M1501.3,1926.6 L1527.1,1947.0 M1515.0,1915.0 Q1532.0,1931.0 1548.3,1942.6 M1533.4,1910.6 Q1556.5,1928.1 1582.4,1938.2" fill="none" stroke="#b22222" stroke-width="1.02"/>
<polygon points="1558.4,1966.4 1564.0,1960.9 1591.7,1938.1 1599.2,1934.5 1628.5,1924.8 1664.8,1926.9 1687.4,1936.3 1750.8,1952.5 1773.4,1976.1 1767.0,1982.6 1751.9,1985.1 1708.9,1987.5 1659.5,1988.3 1605.7,1986.5 1571.9,1976.1" fill="#b3b3b3" stroke="#b22222" stroke-width="1.2" stroke-linejoin="round"/>
<path d="M1607.0,1941.3 Q1607.9,1964.8 1571.9,1972.1 M1610.4,1966.1 L1627.2,1980.5 M1630.9,1955.1 L1669.3,1977.8 M1651.3,1942.1 Q1676.7,1959.9 1700.9,1972.9 M1678.8,1937.3 Q1713.2,1956.7 1751.9,1968.0" fill="none" stroke="#b22222" stroke-width="1.02"/>
<polygon points="1605.7,2000.6 1609.5,1995.6 1628.2,1974.9 1633.2,1971.7 1653.0,1962.8 1677.5,1964.7 1692.7,1973.3 1735.5,1987.9 1750.7,2009.4 1746.4,2015.3 1736.2,2017.5 1707.2,2019.7 1673.9,2020.4 1637.6,2018.8 1614.8,2009.4" fill="#b3b3b3" stroke="#b22222" stroke-width="1.2" stroke-linejoin="round"/>
<path d="M1638.5,1977.8 Q1639.0,1999.1 1614.8,2005.7 M1640.8,2000.3 L1652.1,2013.4 M1654.6,1990.3 L1680.5,2010.9 M1668.3,1978.6 Q1685.5,1994.7 1701.8,2006.5 M1686.9,1974.1 Q1710.1,1991.8 1736.2,2002.0" fill="none" stroke="#b22222" stroke-width="1.02"/>
<g transform="translate(1447.0 1820.3) rotate(38)">
<ellipse rx="24" ry="11.5" fill="#fff" stroke="#e8141c" stroke-width="1.3"/>
<path d="M-10.3,0.6 L-5.5,2.8 M-0.1,4.4 L3.2,8.9 M0.9,-8.4 L-4.9,-8.1 M0.8,-0.4 L-2.8,0.5 M-2.1,2.2 L3.8,5.0 M12.4,-5.9 L8.7,-5.0 M-3.7,-6.0 L-7.6,-1.2" stroke="#e8141c" stroke-width="0.9" fill="none"/>
</g>
<path d="M1448.0,1873.6 C1446.7,1874.0 1442.2,1875.6 1440.4,1876.1 C1438.5,1876.5 1439.8,1875.7 1436.8,1876.2 C1433.8,1876.7 1427.6,1878.4 1422.2,1879.0 C1416.8,1879.7 1410.1,1880.1 1404.3,1880.2 C1398.5,1880.3 1392.8,1880.1 1387.3,1879.6 C1381.8,1879.2 1376.4,1878.0 1371.3,1877.4 C1366.3,1876.8 1361.0,1875.8 1356.9,1876.1 C1352.8,1876.4 1349.4,1877.5 1346.5,1879.1 C1343.6,1880.8 1341.4,1882.8 1339.6,1886.2 C1337.9,1889.6 1336.4,1894.6 1335.9,1899.4 C1335.4,1904.2 1336.0,1910.2 1336.7,1914.9 C1337.4,1919.7 1338.4,1923.9 1340.1,1927.8 C1341.8,1931.7 1344.3,1935.7 1346.7,1938.3 C1349.2,1940.9 1351.4,1942.3 1354.8,1943.3 C1358.2,1944.4 1363.3,1945.2 1367.1,1944.5 C1370.9,1943.9 1374.0,1942.2 1377.6,1939.4 C1381.2,1936.7 1385.0,1931.8 1388.5,1928.0 C1392.0,1924.1 1395.2,1920.1 1398.6,1916.2 C1402.0,1912.3 1405.4,1908.2 1408.9,1904.7 C1412.5,1901.2 1416.0,1898.4 1419.8,1895.4 C1423.6,1892.3 1428.1,1889.3 1431.9,1886.6 C1435.6,1883.8 1439.7,1881.2 1442.4,1879.1 C1445.1,1876.9 1447.1,1874.5 1448.0,1873.6Z" fill="url(#fg18)" stroke="#1a1ae0" stroke-width="1.3"/>
<path d="M1417.9,1886.0 C1413.2,1886.9 1398.3,1889.8 1390.0,1891.2 C1381.8,1892.5 1374.8,1893.9 1368.4,1894.1 C1362.0,1894.4 1354.4,1892.7 1351.6,1892.4" fill="none" stroke="#1a1ae0" stroke-width="1.1"/>
<path d="M1388.2,1895.0 C1386.6,1896.9 1382.2,1902.8 1378.5,1906.6 C1374.8,1910.4 1368.9,1913.7 1365.9,1917.9 C1362.8,1922.1 1361.1,1929.5 1360.1,1931.8" fill="none" stroke="#1a1ae0" stroke-width="1.1"/>
<path d="M1370.8,1900.4 L1358.4,1902.4 L1345.7,1897.8" fill="none" stroke="#111" stroke-width="1.1"/>
<path d="M1400,2232 C1412,2228 1432,2232 1440,2240 C1446,2252 1446,2268 1440,2278 C1434,2286 1420,2290 1412,2284 C1402,2276 1394,2258 1392,2246 C1392,2238 1394,2234 1400,2232Z" fill="#fff" stroke="#e8141c" stroke-width="1.3"/>
<path d="M1419.4,2260.5 L1413.2,2262.0 M1415.5,2260.5 L1421.0,2264.1 M1420.0,2269.3 L1425.3,2270.9 M1404.5,2269.0 L1402.1,2272.5 M1437.0,2273.5 L1433.7,2279.8 M1405.9,2238.4 L1405.5,2242.7 M1403.7,2248.9 L1410.0,2249.5 M1416.1,2268.4 L1415.6,2275.6 M1417.6,2262.5 L1418.4,2267.8 M1439.2,2276.0 L1432.6,2279.7 M1410.0,2247.0 L1412.7,2250.4 M1430.2,2253.8 L1425.0,2256.6 M1432.0,2272.2 L1437.0,2272.2 M1435.8,2257.7 L1429.8,2258.0 M1404.7,2262.2 L1400.6,2265.6 M1407.0,2252.2 L1399.3,2253.1 M1402.2,2248.7 L1406.3,2250.0 M1429.3,2243.7 L1428.1,2249.8 M1403.6,2266.4 L1410.2,2269.3 M1402.1,2254.3 L1406.3,2257.6 M1432.5,2267.1 L1437.4,2274.0 M1410.8,2253.4 L1404.4,2256.6" stroke="#e8141c" stroke-width="0.9" fill="none"/>
<path d="M1475.6,2235.7 C1475.4,2270 1473.8,2320 1474,2368 C1476,2410 1483,2450 1500,2496" fill="none" stroke="#111" stroke-width="2"/>
<path d="M1384,2305 C1412,2308 1446,2326 1474,2369" fill="none" stroke="#111" stroke-width="2.1"/>
<path d="M1383,2299.5 L1418,2305 L1440,2316.5" fill="none" stroke="#111" stroke-width="2"/>
<path d="M1410,2295 L1382.5,2299.5" fill="none" stroke="#111" stroke-width="2"/>
<path d="M1457.5,2274 L1469,2242.3 L1465.2,2325.5" fill="none" stroke="#111" stroke-width="2"/>
<circle cx="1483" cy="2483" r="8.8" fill="none" stroke="#111" stroke-width="1.5"/><circle cx="1483" cy="2483" r="3.4" fill="#111"/>
<circle cx="1511" cy="2467.5" r="8.2" fill="none" stroke="#111" stroke-width="1.5"/><path d="M1505.4,2461.9 L1516.6,2473.1 M1516.6,2461.9 L1505.4,2473.1" stroke="#111" stroke-width="1.4"/>
<path d="M1775.5,2241.5 C1795,2256 1830,2263 1865,2265" fill="none" stroke="#111" stroke-width="1.8"/>
<path d="M1826,2241.5 L1804,2244 L1845.6,2255.8" fill="none" stroke="#111" stroke-width="1.6"/>
<polyline points="1663.8,2098.7 1684.6,2100.0 1718.4,2144.0 1715.8,2158.4" fill="none" stroke="#111" stroke-width="1.9" stroke-linejoin="miter"/>
<polyline points="1715.8,2162.3 1727.4,2163.6 1749.5,2200.0 1745.6,2210.4" fill="none" stroke="#111" stroke-width="1.9" stroke-linejoin="miter"/>
<polyline points="1756.0,2209.0 1767.7,2209.0 1780.7,2232.5 1775.5,2240.3" fill="none" stroke="#111" stroke-width="1.9" stroke-linejoin="miter"/>
<polyline points="790.0,2646.0 782.0,2654.0 786.0,2664.0 796.0,2668.0" fill="none" stroke="#111" stroke-width="1.9" stroke-linejoin="miter"/>
<polyline points="797.0,2668.0 796.0,2678.0 806.0,2686.0 858.0,2711.0 872.0,2706.0" fill="none" stroke="#111" stroke-width="1.9" stroke-linejoin="miter"/>
<polyline points="876.0,2706.0 876.0,2714.0 888.0,2723.0 900.0,2720.0" fill="none" stroke="#111" stroke-width="1.9" stroke-linejoin="miter"/>
<polyline points="914.0,2730.0 911.0,2740.0 920.0,2748.0 941.0,2760.0 956.0,2752.0" fill="none" stroke="#111" stroke-width="1.9" stroke-linejoin="miter"/>
<path d="M834,2606 C828,2580 812,2540 795,2495 C785,2470 768,2444 752,2422" fill="none" stroke="#ee1010" stroke-width="4" stroke-dasharray="26 12"/>
<path d="M760,2450 L750.5,2418.5 L781,2434" fill="none" stroke="#ee1010" stroke-width="4.5" stroke-linejoin="miter"/>
<path d="M1217,2360 C1205,2330 1190,2290 1174,2251 C1162,2222 1148,2194 1134,2174" fill="none" stroke="#ee1010" stroke-width="4" stroke-dasharray="26 12"/>
<path d="M1138,2204 L1132.3,2171 L1162,2187" fill="none" stroke="#ee1010" stroke-width="4.5" stroke-linejoin="miter"/>
<text transform="translate(1189.0 2138.0) rotate(57.80)" font-size="28.5" font-weight="bold" font-style="normal" fill="#ee1010" text-anchor="start" textLength="207" lengthAdjust="spacingAndGlyphs" >Intrusion of the</text>
<text transform="translate(1163.0 2154.0) rotate(59.00)" font-size="28.5" font-weight="bold" font-style="normal" fill="#ee1010" text-anchor="start" textLength="216" lengthAdjust="spacingAndGlyphs" >Indian Monsoon</text>
<text transform="translate(802.5 2381.0) rotate(58.60)" font-size="28.5" font-weight="bold" font-style="normal" fill="#ee1010" text-anchor="start" textLength="206" lengthAdjust="spacingAndGlyphs" >Intrusion of the</text>
<text transform="translate(780.0 2394.0) rotate(59.00)" font-size="28.5" font-weight="bold" font-style="normal" fill="#ee1010" text-anchor="start" textLength="216" lengthAdjust="spacingAndGlyphs" >Indian Monsoon</text>
<text transform="translate(363.0 2037.0) rotate(-28.50)" font-size="58" font-weight="normal" font-style="normal" fill="#000" text-anchor="start" textLength="694" lengthAdjust="spacingAndGlyphs" >Late Oligocene-Early Miocene</text>
<text transform="translate(461.0 2090.0) rotate(-30.00)" font-size="40" font-weight="bold" font-style="italic" fill="#000" text-anchor="start" textLength="259" lengthAdjust="spacingAndGlyphs" >Hoh Xil Basin</text>
<text transform="translate(951.0 1811.0) rotate(-29.50)" font-size="40" font-weight="bold" font-style="italic" fill="#000" text-anchor="start" textLength="262" lengthAdjust="spacingAndGlyphs" >Qaidam Basin</text>
<text transform="translate(1275.0 1617.0) rotate(34.90)" font-size="46" font-weight="bold" font-style="italic" fill="#0000ff" text-anchor="start" textLength="268" lengthAdjust="spacingAndGlyphs" >Qilian Range</text>
<text transform="translate(1087.0 1952.0) rotate(28.50)" font-size="44" font-weight="bold" font-style="normal" fill="#0000ff" text-anchor="start" textLength="464" lengthAdjust="spacingAndGlyphs" >Eastern Kunlun Range</text>
<text transform="translate(757.0 2338.0) rotate(28.50)" font-size="45" font-weight="bold" font-style="normal" fill="#0000ff" text-anchor="start" textLength="340" lengthAdjust="spacingAndGlyphs" >Fenghuo Range</text>
<text transform="translate(517.0 2300.0) rotate(37.40)" font-size="36" font-weight="bold" font-style="normal" fill="#4d4d4d" text-anchor="start" textLength="278" lengthAdjust="spacingAndGlyphs" >Tuotuohe Basin</text>
<text transform="translate(53.0 2342.0) rotate(37.90)" font-size="44" font-weight="bold" font-style="italic" fill="#000" text-anchor="start" textLength="97" lengthAdjust="spacingAndGlyphs" >West</text>
<text transform="translate(545.5 2712.0) rotate(40.00)" font-size="44" font-weight="bold" font-style="italic" fill="#000" text-anchor="start" textLength="87" lengthAdjust="spacingAndGlyphs" >East</text>
<text transform="translate(209.0 2447.0) rotate(36.90)" font-size="43" font-weight="bold" font-style="italic" fill="#0000ff" text-anchor="start" textLength="335" lengthAdjust="spacingAndGlyphs" >Tanggula Range</text>
<text transform="translate(662.0 2755.0) rotate(-29.60)" font-size="29" font-weight="normal" font-style="normal" fill="#000" text-anchor="start" textLength="152" lengthAdjust="spacingAndGlyphs" >Wudaoliang</text>
<text transform="translate(739.0 2764.0) rotate(-29.60)" font-size="29" font-weight="normal" font-style="normal" fill="#000" text-anchor="start" textLength="98" lengthAdjust="spacingAndGlyphs" >Yaxicuo</text>
<text transform="translate(788.0 2802.0) rotate(-29.60)" font-size="29" font-weight="normal" font-style="normal" fill="#000" text-anchor="start" textLength="117" lengthAdjust="spacingAndGlyphs" >Tuotuohe</text>
<text transform="translate(780.0 2866.0) rotate(-29.60)" font-size="29" font-weight="normal" font-style="normal" fill="#000" text-anchor="start" textLength="162" lengthAdjust="spacingAndGlyphs" >Fenghuoshan</text>
<text transform="translate(1709.0 2108.0) rotate(-28.10)" font-size="30" font-weight="normal" font-style="normal" fill="#000" text-anchor="start" textLength="127" lengthAdjust="spacingAndGlyphs" >Shanggan</text>
<text transform="translate(1741.0 2131.0) rotate(-28.10)" font-size="30" font-weight="normal" font-style="normal" fill="#000" text-anchor="start" textLength="96" lengthAdjust="spacingAndGlyphs" >chaigou</text>
<text transform="translate(1740.0 2178.0) rotate(-28.70)" font-size="30" font-weight="normal" font-style="normal" fill="#000" text-anchor="start" textLength="138" lengthAdjust="spacingAndGlyphs" >Xiaganchai</text>
<text transform="translate(1798.0 2189.0) rotate(-28.70)" font-size="30" font-weight="normal" font-style="normal" fill="#000" text-anchor="start" textLength="45" lengthAdjust="spacingAndGlyphs" >gou</text>
<text transform="translate(1788.0 2230.0) rotate(-28.70)" font-size="30" font-weight="normal" font-style="normal" fill="#000" text-anchor="start" textLength="82" lengthAdjust="spacingAndGlyphs" >Lulehe</text>
<text transform="translate(1503.0 2460.0) rotate(-28.50)" font-size="33" font-weight="normal" font-style="normal" fill="#000" text-anchor="start" textLength="181" lengthAdjust="spacingAndGlyphs" >Kunlun Fault</text>
</g>
</svg>
</body></html>
